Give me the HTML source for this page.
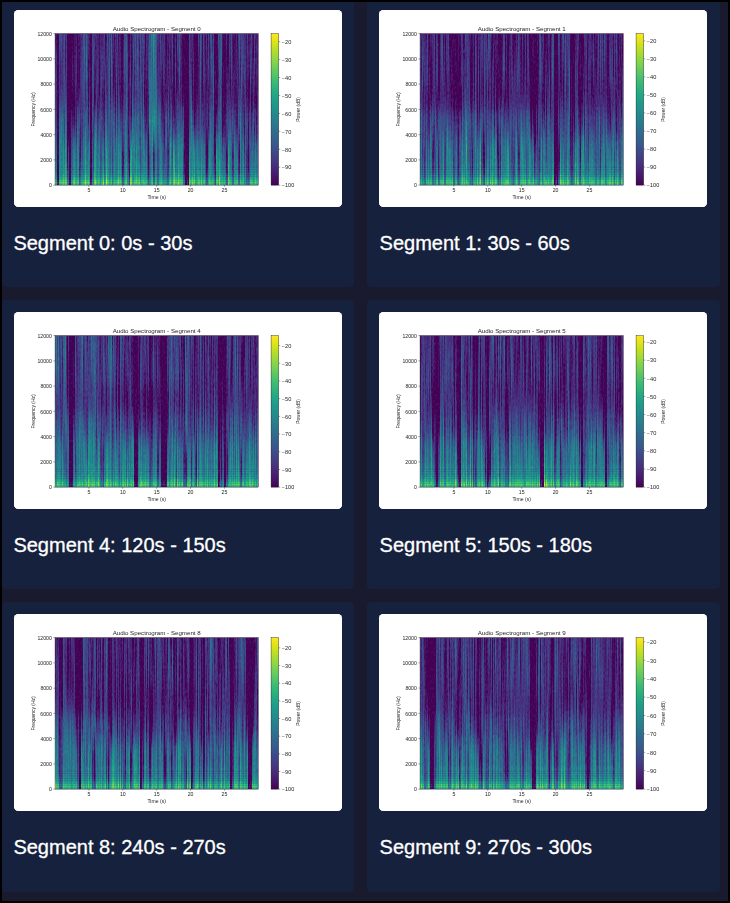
<!DOCTYPE html><html><head><meta charset="utf-8"><title>Spectrograms</title><style>
*{margin:0;padding:0;box-sizing:border-box}
html,body{width:730px;height:903px;background:#000;overflow:hidden}
body{position:relative;font-family:"Liberation Sans",sans-serif}
#fr{position:absolute;left:2px;top:2px;width:726px;height:899px;background:#1a1a2e;overflow:hidden}
.card{position:absolute;height:289px;background:#16213e;border-radius:4px}
.im{position:absolute;left:12px;top:12px;width:328px;height:196.8px;border-radius:4.5px;overflow:hidden;background:#fff}
.im svg{display:block;font-family:"Liberation Sans",sans-serif;will-change:transform;fill:#262626}
.cap{position:absolute;left:11px;top:232.5px;font-size:20px;line-height:23px;color:#fff;white-space:nowrap;transform:scaleY(1.055);transform-origin:0 4px;-webkit-text-stroke:0.3px #fff}
</style></head><body>
<svg width="0" height="0" style="position:absolute"><defs><linearGradient id="rg" x1="0" x2="0" y1="0" y2="1"><stop offset="0.00%" stop-color="#1c1c1c"/><stop offset="33.33%" stop-color="#1d1d1d"/><stop offset="50.00%" stop-color="#212121"/><stop offset="58.33%" stop-color="#282828"/><stop offset="66.67%" stop-color="#303030"/><stop offset="75.00%" stop-color="#3d3d3d"/><stop offset="83.33%" stop-color="#4c4c4c"/><stop offset="87.50%" stop-color="#606060"/><stop offset="87.71%" stop-color="#585858"/><stop offset="87.92%" stop-color="#505050"/><stop offset="88.14%" stop-color="#4d4d4d"/><stop offset="88.35%" stop-color="#525252"/><stop offset="88.56%" stop-color="#5c5c5c"/><stop offset="88.77%" stop-color="#646464"/><stop offset="88.98%" stop-color="#666666"/><stop offset="89.19%" stop-color="#616161"/><stop offset="89.41%" stop-color="#585858"/><stop offset="89.62%" stop-color="#525252"/><stop offset="89.83%" stop-color="#545454"/><stop offset="90.04%" stop-color="#5c5c5c"/><stop offset="90.25%" stop-color="#666666"/><stop offset="90.47%" stop-color="#6b6b6b"/><stop offset="90.68%" stop-color="#696969"/><stop offset="90.89%" stop-color="#616161"/><stop offset="91.10%" stop-color="#595959"/><stop offset="91.31%" stop-color="#575757"/><stop offset="91.53%" stop-color="#5c5c5c"/><stop offset="91.74%" stop-color="#666666"/><stop offset="91.95%" stop-color="#6f6f6f"/><stop offset="92.16%" stop-color="#717171"/><stop offset="92.37%" stop-color="#6c6c6c"/><stop offset="92.58%" stop-color="#646464"/><stop offset="92.80%" stop-color="#5f5f5f"/><stop offset="93.01%" stop-color="#626262"/><stop offset="93.22%" stop-color="#6b6b6b"/><stop offset="93.43%" stop-color="#757575"/><stop offset="93.64%" stop-color="#7b7b7b"/><stop offset="93.86%" stop-color="#797979"/><stop offset="94.07%" stop-color="#727272"/><stop offset="94.28%" stop-color="#6c6c6c"/><stop offset="94.49%" stop-color="#6c6c6c"/><stop offset="94.70%" stop-color="#747474"/><stop offset="94.92%" stop-color="#808080"/><stop offset="95.13%" stop-color="#8a8a8a"/><stop offset="95.34%" stop-color="#8e8e8e"/><stop offset="95.55%" stop-color="#8a8a8a"/><stop offset="95.76%" stop-color="#848484"/><stop offset="95.97%" stop-color="#808080"/><stop offset="96.19%" stop-color="#848484"/><stop offset="96.40%" stop-color="#8e8e8e"/><stop offset="96.61%" stop-color="#999999"/><stop offset="96.82%" stop-color="#a0a0a0"/><stop offset="97.03%" stop-color="#9f9f9f"/><stop offset="97.25%" stop-color="#989898"/><stop offset="97.46%" stop-color="#929292"/><stop offset="97.67%" stop-color="#919191"/><stop offset="97.88%" stop-color="#989898"/><stop offset="98.09%" stop-color="#a2a2a2"/><stop offset="98.31%" stop-color="#ababab"/><stop offset="98.52%" stop-color="#acacac"/><stop offset="98.73%" stop-color="#a7a7a7"/><stop offset="98.94%" stop-color="#989898"/><stop offset="99.15%" stop-color="#8c8c8c"/><stop offset="99.36%" stop-color="#878787"/><stop offset="99.58%" stop-color="#888888"/><stop offset="99.79%" stop-color="#7e7e7e"/><stop offset="100.00%" stop-color="#737373"/></linearGradient><linearGradient id="cbg" x1="0" x2="0" y1="1" y2="0"><stop offset="0.0%" stop-color="rgb(68,1,84)"/><stop offset="3.1%" stop-color="rgb(71,13,96)"/><stop offset="6.2%" stop-color="rgb(72,24,106)"/><stop offset="9.4%" stop-color="rgb(72,35,116)"/><stop offset="12.5%" stop-color="rgb(71,45,123)"/><stop offset="15.6%" stop-color="rgb(69,55,129)"/><stop offset="18.8%" stop-color="rgb(66,64,134)"/><stop offset="21.9%" stop-color="rgb(62,73,137)"/><stop offset="25.0%" stop-color="rgb(59,82,139)"/><stop offset="28.1%" stop-color="rgb(55,91,141)"/><stop offset="31.2%" stop-color="rgb(51,99,142)"/><stop offset="34.4%" stop-color="rgb(47,107,142)"/><stop offset="37.5%" stop-color="rgb(44,114,142)"/><stop offset="40.6%" stop-color="rgb(41,122,142)"/><stop offset="43.8%" stop-color="rgb(38,130,142)"/><stop offset="46.9%" stop-color="rgb(35,137,142)"/><stop offset="50.0%" stop-color="rgb(33,145,141)"/><stop offset="53.1%" stop-color="rgb(31,152,139)"/><stop offset="56.2%" stop-color="rgb(31,160,136)"/><stop offset="59.4%" stop-color="rgb(34,167,133)"/><stop offset="62.5%" stop-color="rgb(40,174,128)"/><stop offset="65.6%" stop-color="rgb(50,182,122)"/><stop offset="68.8%" stop-color="rgb(63,188,115)"/><stop offset="71.9%" stop-color="rgb(78,195,107)"/><stop offset="75.0%" stop-color="rgb(94,201,98)"/><stop offset="78.1%" stop-color="rgb(112,207,87)"/><stop offset="81.2%" stop-color="rgb(132,212,75)"/><stop offset="84.4%" stop-color="rgb(152,216,62)"/><stop offset="87.5%" stop-color="rgb(173,220,48)"/><stop offset="90.6%" stop-color="rgb(194,223,35)"/><stop offset="93.8%" stop-color="rgb(216,226,26)"/><stop offset="96.9%" stop-color="rgb(236,229,27)"/><stop offset="100.0%" stop-color="rgb(253,231,37)"/></linearGradient><linearGradient id="mgr" x1="0" x2="0" y1="245.88000000000002" y2="315.18" gradientUnits="userSpaceOnUse"><stop offset="0" stop-color="#000"/><stop offset="1" stop-color="#fff"/></linearGradient><mask id="lm" maskUnits="userSpaceOnUse" x="0" y="0" width="720" height="432"><rect x="90" y="51.84" width="446.4" height="332.64" fill="url(#mgr)"/></mask><clipPath id="pc"><rect x="90" y="51.84" width="446.4" height="332.64"/></clipPath><filter id="blr" x="-0.2" y="-0.2" width="1.4" height="1.4"><feGaussianBlur stdDeviation="22 16"/></filter></defs></svg>
<div id="fr"><div class="card" style="left:0px;top:-4px;width:352px;height:289px"><div class="im"><svg class="fig" viewBox="0 0 720 432" width="328" height="196.8"><defs><linearGradient id="cg0" x1="0" x2="1" y1="0" y2="0"><stop offset="0.00%" stop-color="#a1a1a1"/><stop offset="1.00%" stop-color="#a1a1a1"/><stop offset="1.00%" stop-color="#000000"/><stop offset="2.00%" stop-color="#000000"/><stop offset="2.00%" stop-color="#b5b5b5"/><stop offset="3.00%" stop-color="#b5b5b5"/><stop offset="3.00%" stop-color="#b5b5b5"/><stop offset="4.00%" stop-color="#b5b5b5"/><stop offset="4.00%" stop-color="#b5b5b5"/><stop offset="5.00%" stop-color="#b5b5b5"/><stop offset="5.00%" stop-color="#b5b5b5"/><stop offset="6.00%" stop-color="#b5b5b5"/><stop offset="6.00%" stop-color="#000000"/><stop offset="7.00%" stop-color="#000000"/><stop offset="7.00%" stop-color="#000000"/><stop offset="8.00%" stop-color="#000000"/><stop offset="8.00%" stop-color="#787878"/><stop offset="9.00%" stop-color="#787878"/><stop offset="9.00%" stop-color="#787878"/><stop offset="10.00%" stop-color="#787878"/><stop offset="10.00%" stop-color="#8f8f8f"/><stop offset="11.00%" stop-color="#8f8f8f"/><stop offset="11.00%" stop-color="#8f8f8f"/><stop offset="12.00%" stop-color="#8f8f8f"/><stop offset="12.00%" stop-color="#a1a1a1"/><stop offset="13.00%" stop-color="#a1a1a1"/><stop offset="13.00%" stop-color="#a1a1a1"/><stop offset="14.00%" stop-color="#a1a1a1"/><stop offset="14.00%" stop-color="#b5b5b5"/><stop offset="15.00%" stop-color="#b5b5b5"/><stop offset="15.00%" stop-color="#b5b5b5"/><stop offset="16.00%" stop-color="#b5b5b5"/><stop offset="16.00%" stop-color="#8f8f8f"/><stop offset="17.00%" stop-color="#8f8f8f"/><stop offset="17.00%" stop-color="#000000"/><stop offset="18.00%" stop-color="#000000"/><stop offset="18.00%" stop-color="#a1a1a1"/><stop offset="19.00%" stop-color="#a1a1a1"/><stop offset="19.00%" stop-color="#a1a1a1"/><stop offset="20.00%" stop-color="#a1a1a1"/><stop offset="20.00%" stop-color="#a1a1a1"/><stop offset="21.00%" stop-color="#a1a1a1"/><stop offset="21.00%" stop-color="#a1a1a1"/><stop offset="22.00%" stop-color="#a1a1a1"/><stop offset="22.00%" stop-color="#8f8f8f"/><stop offset="23.00%" stop-color="#8f8f8f"/><stop offset="23.00%" stop-color="#8f8f8f"/><stop offset="24.00%" stop-color="#8f8f8f"/><stop offset="24.00%" stop-color="#a1a1a1"/><stop offset="25.00%" stop-color="#a1a1a1"/><stop offset="25.00%" stop-color="#a1a1a1"/><stop offset="26.00%" stop-color="#a1a1a1"/><stop offset="26.00%" stop-color="#b5b5b5"/><stop offset="27.00%" stop-color="#b5b5b5"/><stop offset="27.00%" stop-color="#b5b5b5"/><stop offset="28.00%" stop-color="#b5b5b5"/><stop offset="28.00%" stop-color="#a1a1a1"/><stop offset="29.00%" stop-color="#a1a1a1"/><stop offset="29.00%" stop-color="#a1a1a1"/><stop offset="30.00%" stop-color="#a1a1a1"/><stop offset="30.00%" stop-color="#a1a1a1"/><stop offset="31.00%" stop-color="#a1a1a1"/><stop offset="31.00%" stop-color="#a1a1a1"/><stop offset="32.00%" stop-color="#a1a1a1"/><stop offset="32.00%" stop-color="#8f8f8f"/><stop offset="33.00%" stop-color="#8f8f8f"/><stop offset="33.00%" stop-color="#8f8f8f"/><stop offset="34.00%" stop-color="#8f8f8f"/><stop offset="34.00%" stop-color="#b5b5b5"/><stop offset="35.00%" stop-color="#b5b5b5"/><stop offset="35.00%" stop-color="#b5b5b5"/><stop offset="36.00%" stop-color="#b5b5b5"/><stop offset="36.00%" stop-color="#8f8f8f"/><stop offset="37.00%" stop-color="#8f8f8f"/><stop offset="37.00%" stop-color="#8f8f8f"/><stop offset="38.00%" stop-color="#8f8f8f"/><stop offset="38.00%" stop-color="#b5b5b5"/><stop offset="39.00%" stop-color="#b5b5b5"/><stop offset="39.00%" stop-color="#b5b5b5"/><stop offset="40.00%" stop-color="#b5b5b5"/><stop offset="40.00%" stop-color="#b5b5b5"/><stop offset="41.00%" stop-color="#b5b5b5"/><stop offset="41.00%" stop-color="#b5b5b5"/><stop offset="42.00%" stop-color="#b5b5b5"/><stop offset="42.00%" stop-color="#b5b5b5"/><stop offset="43.00%" stop-color="#b5b5b5"/><stop offset="43.00%" stop-color="#b5b5b5"/><stop offset="44.00%" stop-color="#b5b5b5"/><stop offset="44.00%" stop-color="#8f8f8f"/><stop offset="45.00%" stop-color="#8f8f8f"/><stop offset="45.00%" stop-color="#8f8f8f"/><stop offset="46.00%" stop-color="#8f8f8f"/><stop offset="46.00%" stop-color="#e5e5e5"/><stop offset="47.00%" stop-color="#e5e5e5"/><stop offset="47.00%" stop-color="#e5e5e5"/><stop offset="48.00%" stop-color="#e5e5e5"/><stop offset="48.00%" stop-color="#e5e5e5"/><stop offset="49.00%" stop-color="#e5e5e5"/><stop offset="49.00%" stop-color="#e5e5e5"/><stop offset="50.00%" stop-color="#e5e5e5"/><stop offset="50.00%" stop-color="#b5b5b5"/><stop offset="51.00%" stop-color="#b5b5b5"/><stop offset="51.00%" stop-color="#b5b5b5"/><stop offset="52.00%" stop-color="#b5b5b5"/><stop offset="52.00%" stop-color="#8f8f8f"/><stop offset="53.00%" stop-color="#8f8f8f"/><stop offset="53.00%" stop-color="#8f8f8f"/><stop offset="54.00%" stop-color="#8f8f8f"/><stop offset="54.00%" stop-color="#a1a1a1"/><stop offset="55.00%" stop-color="#a1a1a1"/><stop offset="55.00%" stop-color="#a1a1a1"/><stop offset="56.00%" stop-color="#a1a1a1"/><stop offset="56.00%" stop-color="#a1a1a1"/><stop offset="57.00%" stop-color="#a1a1a1"/><stop offset="57.00%" stop-color="#a1a1a1"/><stop offset="58.00%" stop-color="#a1a1a1"/><stop offset="58.00%" stop-color="#8f8f8f"/><stop offset="59.00%" stop-color="#8f8f8f"/><stop offset="59.00%" stop-color="#8f8f8f"/><stop offset="60.00%" stop-color="#8f8f8f"/><stop offset="60.00%" stop-color="#a1a1a1"/><stop offset="61.00%" stop-color="#a1a1a1"/><stop offset="61.00%" stop-color="#a1a1a1"/><stop offset="62.00%" stop-color="#a1a1a1"/><stop offset="62.00%" stop-color="#8f8f8f"/><stop offset="63.00%" stop-color="#8f8f8f"/><stop offset="63.00%" stop-color="#8f8f8f"/><stop offset="64.00%" stop-color="#8f8f8f"/><stop offset="64.00%" stop-color="#000000"/><stop offset="65.00%" stop-color="#000000"/><stop offset="65.00%" stop-color="#000000"/><stop offset="66.00%" stop-color="#000000"/><stop offset="66.00%" stop-color="#b5b5b5"/><stop offset="67.00%" stop-color="#b5b5b5"/><stop offset="67.00%" stop-color="#b5b5b5"/><stop offset="68.00%" stop-color="#b5b5b5"/><stop offset="68.00%" stop-color="#787878"/><stop offset="69.00%" stop-color="#787878"/><stop offset="69.00%" stop-color="#787878"/><stop offset="70.00%" stop-color="#787878"/><stop offset="70.00%" stop-color="#a1a1a1"/><stop offset="71.00%" stop-color="#a1a1a1"/><stop offset="71.00%" stop-color="#a1a1a1"/><stop offset="72.00%" stop-color="#a1a1a1"/><stop offset="72.00%" stop-color="#a1a1a1"/><stop offset="73.00%" stop-color="#a1a1a1"/><stop offset="73.00%" stop-color="#a1a1a1"/><stop offset="74.00%" stop-color="#a1a1a1"/><stop offset="74.00%" stop-color="#8f8f8f"/><stop offset="75.00%" stop-color="#8f8f8f"/><stop offset="75.00%" stop-color="#8f8f8f"/><stop offset="76.00%" stop-color="#8f8f8f"/><stop offset="76.00%" stop-color="#b5b5b5"/><stop offset="77.00%" stop-color="#b5b5b5"/><stop offset="77.00%" stop-color="#b5b5b5"/><stop offset="78.00%" stop-color="#b5b5b5"/><stop offset="78.00%" stop-color="#787878"/><stop offset="79.00%" stop-color="#787878"/><stop offset="79.00%" stop-color="#787878"/><stop offset="80.00%" stop-color="#787878"/><stop offset="80.00%" stop-color="#b5b5b5"/><stop offset="81.00%" stop-color="#b5b5b5"/><stop offset="81.00%" stop-color="#b5b5b5"/><stop offset="82.00%" stop-color="#b5b5b5"/><stop offset="82.00%" stop-color="#787878"/><stop offset="83.00%" stop-color="#787878"/><stop offset="83.00%" stop-color="#787878"/><stop offset="84.00%" stop-color="#787878"/><stop offset="84.00%" stop-color="#a1a1a1"/><stop offset="85.00%" stop-color="#a1a1a1"/><stop offset="85.00%" stop-color="#a1a1a1"/><stop offset="86.00%" stop-color="#a1a1a1"/><stop offset="86.00%" stop-color="#a1a1a1"/><stop offset="87.00%" stop-color="#a1a1a1"/><stop offset="87.00%" stop-color="#a1a1a1"/><stop offset="88.00%" stop-color="#a1a1a1"/><stop offset="88.00%" stop-color="#8f8f8f"/><stop offset="89.00%" stop-color="#8f8f8f"/><stop offset="89.00%" stop-color="#8f8f8f"/><stop offset="90.00%" stop-color="#8f8f8f"/><stop offset="90.00%" stop-color="#b5b5b5"/><stop offset="91.00%" stop-color="#b5b5b5"/><stop offset="91.00%" stop-color="#b5b5b5"/><stop offset="92.00%" stop-color="#b5b5b5"/><stop offset="92.00%" stop-color="#a1a1a1"/><stop offset="93.00%" stop-color="#a1a1a1"/><stop offset="93.00%" stop-color="#a1a1a1"/><stop offset="94.00%" stop-color="#a1a1a1"/><stop offset="94.00%" stop-color="#8f8f8f"/><stop offset="95.00%" stop-color="#8f8f8f"/><stop offset="95.00%" stop-color="#8f8f8f"/><stop offset="96.00%" stop-color="#8f8f8f"/><stop offset="96.00%" stop-color="#a1a1a1"/><stop offset="97.00%" stop-color="#a1a1a1"/><stop offset="97.00%" stop-color="#a1a1a1"/><stop offset="98.00%" stop-color="#a1a1a1"/><stop offset="98.00%" stop-color="#8f8f8f"/><stop offset="99.00%" stop-color="#8f8f8f"/><stop offset="99.00%" stop-color="#8f8f8f"/><stop offset="100.00%" stop-color="#8f8f8f"/></linearGradient><linearGradient id="cl0" x1="0" x2="1" y1="0" y2="0"><stop offset="0.00%" stop-color="#9e9e9e"/><stop offset="1.00%" stop-color="#9e9e9e"/><stop offset="1.00%" stop-color="#000000"/><stop offset="2.00%" stop-color="#000000"/><stop offset="2.00%" stop-color="#9e9e9e"/><stop offset="3.00%" stop-color="#9e9e9e"/><stop offset="3.00%" stop-color="#9e9e9e"/><stop offset="4.00%" stop-color="#9e9e9e"/><stop offset="4.00%" stop-color="#b2b2b2"/><stop offset="5.00%" stop-color="#b2b2b2"/><stop offset="5.00%" stop-color="#b2b2b2"/><stop offset="6.00%" stop-color="#b2b2b2"/><stop offset="6.00%" stop-color="#525252"/><stop offset="7.00%" stop-color="#525252"/><stop offset="7.00%" stop-color="#000000"/><stop offset="8.00%" stop-color="#000000"/><stop offset="8.00%" stop-color="#7a7a7a"/><stop offset="9.00%" stop-color="#7a7a7a"/><stop offset="9.00%" stop-color="#b2b2b2"/><stop offset="10.00%" stop-color="#b2b2b2"/><stop offset="10.00%" stop-color="#9e9e9e"/><stop offset="11.00%" stop-color="#9e9e9e"/><stop offset="11.00%" stop-color="#9e9e9e"/><stop offset="12.00%" stop-color="#9e9e9e"/><stop offset="12.00%" stop-color="#525252"/><stop offset="13.00%" stop-color="#525252"/><stop offset="13.00%" stop-color="#9e9e9e"/><stop offset="14.00%" stop-color="#9e9e9e"/><stop offset="14.00%" stop-color="#b2b2b2"/><stop offset="15.00%" stop-color="#b2b2b2"/><stop offset="15.00%" stop-color="#9e9e9e"/><stop offset="16.00%" stop-color="#9e9e9e"/><stop offset="16.00%" stop-color="#9e9e9e"/><stop offset="17.00%" stop-color="#9e9e9e"/><stop offset="17.00%" stop-color="#000000"/><stop offset="18.00%" stop-color="#000000"/><stop offset="18.00%" stop-color="#7a7a7a"/><stop offset="19.00%" stop-color="#7a7a7a"/><stop offset="19.00%" stop-color="#b2b2b2"/><stop offset="20.00%" stop-color="#b2b2b2"/><stop offset="20.00%" stop-color="#9e9e9e"/><stop offset="21.00%" stop-color="#9e9e9e"/><stop offset="21.00%" stop-color="#9e9e9e"/><stop offset="22.00%" stop-color="#9e9e9e"/><stop offset="22.00%" stop-color="#7a7a7a"/><stop offset="23.00%" stop-color="#7a7a7a"/><stop offset="23.00%" stop-color="#b2b2b2"/><stop offset="24.00%" stop-color="#b2b2b2"/><stop offset="24.00%" stop-color="#9e9e9e"/><stop offset="25.00%" stop-color="#9e9e9e"/><stop offset="25.00%" stop-color="#b2b2b2"/><stop offset="26.00%" stop-color="#b2b2b2"/><stop offset="26.00%" stop-color="#9e9e9e"/><stop offset="27.00%" stop-color="#9e9e9e"/><stop offset="27.00%" stop-color="#9e9e9e"/><stop offset="28.00%" stop-color="#9e9e9e"/><stop offset="28.00%" stop-color="#7a7a7a"/><stop offset="29.00%" stop-color="#7a7a7a"/><stop offset="29.00%" stop-color="#9e9e9e"/><stop offset="30.00%" stop-color="#9e9e9e"/><stop offset="30.00%" stop-color="#b2b2b2"/><stop offset="31.00%" stop-color="#b2b2b2"/><stop offset="31.00%" stop-color="#b2b2b2"/><stop offset="32.00%" stop-color="#b2b2b2"/><stop offset="32.00%" stop-color="#9e9e9e"/><stop offset="33.00%" stop-color="#9e9e9e"/><stop offset="33.00%" stop-color="#525252"/><stop offset="34.00%" stop-color="#525252"/><stop offset="34.00%" stop-color="#9e9e9e"/><stop offset="35.00%" stop-color="#9e9e9e"/><stop offset="35.00%" stop-color="#9e9e9e"/><stop offset="36.00%" stop-color="#9e9e9e"/><stop offset="36.00%" stop-color="#525252"/><stop offset="37.00%" stop-color="#525252"/><stop offset="37.00%" stop-color="#b2b2b2"/><stop offset="38.00%" stop-color="#b2b2b2"/><stop offset="38.00%" stop-color="#9e9e9e"/><stop offset="39.00%" stop-color="#9e9e9e"/><stop offset="39.00%" stop-color="#9e9e9e"/><stop offset="40.00%" stop-color="#9e9e9e"/><stop offset="40.00%" stop-color="#b2b2b2"/><stop offset="41.00%" stop-color="#b2b2b2"/><stop offset="41.00%" stop-color="#9e9e9e"/><stop offset="42.00%" stop-color="#9e9e9e"/><stop offset="42.00%" stop-color="#9e9e9e"/><stop offset="43.00%" stop-color="#9e9e9e"/><stop offset="43.00%" stop-color="#b2b2b2"/><stop offset="44.00%" stop-color="#b2b2b2"/><stop offset="44.00%" stop-color="#9e9e9e"/><stop offset="45.00%" stop-color="#9e9e9e"/><stop offset="45.00%" stop-color="#525252"/><stop offset="46.00%" stop-color="#525252"/><stop offset="46.00%" stop-color="#7a7a7a"/><stop offset="47.00%" stop-color="#7a7a7a"/><stop offset="47.00%" stop-color="#9e9e9e"/><stop offset="48.00%" stop-color="#9e9e9e"/><stop offset="48.00%" stop-color="#525252"/><stop offset="49.00%" stop-color="#525252"/><stop offset="49.00%" stop-color="#9e9e9e"/><stop offset="50.00%" stop-color="#9e9e9e"/><stop offset="50.00%" stop-color="#525252"/><stop offset="51.00%" stop-color="#525252"/><stop offset="51.00%" stop-color="#9e9e9e"/><stop offset="52.00%" stop-color="#9e9e9e"/><stop offset="52.00%" stop-color="#9e9e9e"/><stop offset="53.00%" stop-color="#9e9e9e"/><stop offset="53.00%" stop-color="#7a7a7a"/><stop offset="54.00%" stop-color="#7a7a7a"/><stop offset="54.00%" stop-color="#7a7a7a"/><stop offset="55.00%" stop-color="#7a7a7a"/><stop offset="55.00%" stop-color="#525252"/><stop offset="56.00%" stop-color="#525252"/><stop offset="56.00%" stop-color="#b2b2b2"/><stop offset="57.00%" stop-color="#b2b2b2"/><stop offset="57.00%" stop-color="#7a7a7a"/><stop offset="58.00%" stop-color="#7a7a7a"/><stop offset="58.00%" stop-color="#b2b2b2"/><stop offset="59.00%" stop-color="#b2b2b2"/><stop offset="59.00%" stop-color="#9e9e9e"/><stop offset="60.00%" stop-color="#9e9e9e"/><stop offset="60.00%" stop-color="#b2b2b2"/><stop offset="61.00%" stop-color="#b2b2b2"/><stop offset="61.00%" stop-color="#9e9e9e"/><stop offset="62.00%" stop-color="#9e9e9e"/><stop offset="62.00%" stop-color="#9e9e9e"/><stop offset="63.00%" stop-color="#9e9e9e"/><stop offset="63.00%" stop-color="#525252"/><stop offset="64.00%" stop-color="#525252"/><stop offset="64.00%" stop-color="#000000"/><stop offset="65.00%" stop-color="#000000"/><stop offset="65.00%" stop-color="#000000"/><stop offset="66.00%" stop-color="#000000"/><stop offset="66.00%" stop-color="#9e9e9e"/><stop offset="67.00%" stop-color="#9e9e9e"/><stop offset="67.00%" stop-color="#b2b2b2"/><stop offset="68.00%" stop-color="#b2b2b2"/><stop offset="68.00%" stop-color="#b2b2b2"/><stop offset="69.00%" stop-color="#b2b2b2"/><stop offset="69.00%" stop-color="#7a7a7a"/><stop offset="70.00%" stop-color="#7a7a7a"/><stop offset="70.00%" stop-color="#9e9e9e"/><stop offset="71.00%" stop-color="#9e9e9e"/><stop offset="71.00%" stop-color="#9e9e9e"/><stop offset="72.00%" stop-color="#9e9e9e"/><stop offset="72.00%" stop-color="#9e9e9e"/><stop offset="73.00%" stop-color="#9e9e9e"/><stop offset="73.00%" stop-color="#9e9e9e"/><stop offset="74.00%" stop-color="#9e9e9e"/><stop offset="74.00%" stop-color="#525252"/><stop offset="75.00%" stop-color="#525252"/><stop offset="75.00%" stop-color="#9e9e9e"/><stop offset="76.00%" stop-color="#9e9e9e"/><stop offset="76.00%" stop-color="#9e9e9e"/><stop offset="77.00%" stop-color="#9e9e9e"/><stop offset="77.00%" stop-color="#9e9e9e"/><stop offset="78.00%" stop-color="#9e9e9e"/><stop offset="78.00%" stop-color="#525252"/><stop offset="79.00%" stop-color="#525252"/><stop offset="79.00%" stop-color="#9e9e9e"/><stop offset="80.00%" stop-color="#9e9e9e"/><stop offset="80.00%" stop-color="#b2b2b2"/><stop offset="81.00%" stop-color="#b2b2b2"/><stop offset="81.00%" stop-color="#9e9e9e"/><stop offset="82.00%" stop-color="#9e9e9e"/><stop offset="82.00%" stop-color="#9e9e9e"/><stop offset="83.00%" stop-color="#9e9e9e"/><stop offset="83.00%" stop-color="#9e9e9e"/><stop offset="84.00%" stop-color="#9e9e9e"/><stop offset="84.00%" stop-color="#525252"/><stop offset="85.00%" stop-color="#525252"/><stop offset="85.00%" stop-color="#b2b2b2"/><stop offset="86.00%" stop-color="#b2b2b2"/><stop offset="86.00%" stop-color="#9e9e9e"/><stop offset="87.00%" stop-color="#9e9e9e"/><stop offset="87.00%" stop-color="#525252"/><stop offset="88.00%" stop-color="#525252"/><stop offset="88.00%" stop-color="#9e9e9e"/><stop offset="89.00%" stop-color="#9e9e9e"/><stop offset="89.00%" stop-color="#9e9e9e"/><stop offset="90.00%" stop-color="#9e9e9e"/><stop offset="90.00%" stop-color="#525252"/><stop offset="91.00%" stop-color="#525252"/><stop offset="91.00%" stop-color="#9e9e9e"/><stop offset="92.00%" stop-color="#9e9e9e"/><stop offset="92.00%" stop-color="#9e9e9e"/><stop offset="93.00%" stop-color="#9e9e9e"/><stop offset="93.00%" stop-color="#7a7a7a"/><stop offset="94.00%" stop-color="#7a7a7a"/><stop offset="94.00%" stop-color="#525252"/><stop offset="95.00%" stop-color="#525252"/><stop offset="95.00%" stop-color="#525252"/><stop offset="96.00%" stop-color="#525252"/><stop offset="96.00%" stop-color="#9e9e9e"/><stop offset="97.00%" stop-color="#9e9e9e"/><stop offset="97.00%" stop-color="#9e9e9e"/><stop offset="98.00%" stop-color="#9e9e9e"/><stop offset="98.00%" stop-color="#9e9e9e"/><stop offset="99.00%" stop-color="#9e9e9e"/><stop offset="99.00%" stop-color="#9e9e9e"/><stop offset="100.00%" stop-color="#9e9e9e"/></linearGradient><filter id="vf0" x="0" y="0" width="1" height="1" color-interpolation-filters="sRGB"><feTurbulence type="fractalNoise" baseFrequency="0.45 0.005" numOctaves="2" seed="7" result="n1"/><feColorMatrix in="n1" type="matrix" values="1 0 0 0 0 1 0 0 0 0 1 0 0 0 0 0 0 0 0 1" result="m1"/><feTurbulence type="fractalNoise" baseFrequency="0.9 0.15" numOctaves="1" seed="12" result="n2"/><feColorMatrix in="n2" type="matrix" values="1 0 0 0 0 1 0 0 0 0 1 0 0 0 0 0 0 0 0 1" result="m2"/><feComposite in="SourceGraphic" in2="m1" operator="arithmetic" k1="0" k2="3" k3="0.6" k4="-1.400" result="c1"/><feComposite in="c1" in2="m2" operator="arithmetic" k1="0" k2="1" k3="0.2" k4="-0.100"/><feComponentTransfer><feFuncR type="table" tableValues="0.267 0.277 0.282 0.283 0.279 0.271 0.259 0.245 0.23 0.214 0.199 0.186 0.173 0.161 0.149 0.138 0.128 0.121 0.121 0.132 0.158 0.197 0.246 0.304 0.369 0.44 0.516 0.596 0.678 0.762 0.846 0.926 0.993"/><feFuncG type="table" tableValues="0.005 0.05 0.095 0.136 0.175 0.214 0.252 0.288 0.322 0.356 0.388 0.419 0.449 0.479 0.508 0.537 0.567 0.596 0.626 0.655 0.684 0.712 0.739 0.765 0.789 0.811 0.831 0.849 0.864 0.876 0.887 0.897 0.906"/><feFuncB type="table" tableValues="0.329 0.376 0.417 0.453 0.483 0.507 0.525 0.537 0.546 0.551 0.555 0.557 0.558 0.558 0.557 0.555 0.551 0.544 0.533 0.52 0.502 0.479 0.452 0.42 0.383 0.341 0.294 0.243 0.19 0.137 0.1 0.104 0.144"/></feComponentTransfer></filter></defs><rect width="720" height="432" fill="#fff"/><g clip-path="url(#pc)"><g filter="url(#vf0)"><rect x="90" y="51.84" width="446.4" height="332.64" fill="url(#cg0)"/><rect x="90" y="51.84" width="446.4" height="332.64" fill="url(#cl0)" mask="url(#lm)"/><rect x="90" y="51.84" width="446.4" height="332.64" fill="url(#rg)" opacity="0.5"/><g opacity="0.3333" ><g filter="url(#blr)"><rect x="10.0" y="-28.2" width="154.9" height="135.9" fill="#7a7a7a"/><rect x="164.4" y="-28.2" width="74.9" height="135.9" fill="#7a7a7a"/><rect x="238.8" y="-28.2" width="74.9" height="135.9" fill="#7a7a7a"/><rect x="313.2" y="-28.2" width="74.9" height="135.9" fill="#7a7a7a"/><rect x="387.6" y="-28.2" width="74.9" height="135.9" fill="#7a7a7a"/><rect x="462.0" y="-28.2" width="154.9" height="135.9" fill="#7a7a7a"/><rect x="10.0" y="107.3" width="154.9" height="55.9" fill="#7a7a7a"/><rect x="164.4" y="107.3" width="74.9" height="55.9" fill="#7a7a7a"/><rect x="238.8" y="107.3" width="74.9" height="55.9" fill="#7a7a7a"/><rect x="313.2" y="107.3" width="74.9" height="55.9" fill="#7a7a7a"/><rect x="387.6" y="107.3" width="74.9" height="55.9" fill="#7a7a7a"/><rect x="462.0" y="107.3" width="154.9" height="55.9" fill="#7a7a7a"/><rect x="10.0" y="162.7" width="154.9" height="55.9" fill="#7a7a7a"/><rect x="164.4" y="162.7" width="74.9" height="55.9" fill="#787878"/><rect x="238.8" y="162.7" width="74.9" height="55.9" fill="#757575"/><rect x="313.2" y="162.7" width="74.9" height="55.9" fill="#757575"/><rect x="387.6" y="162.7" width="74.9" height="55.9" fill="#757575"/><rect x="462.0" y="162.7" width="154.9" height="55.9" fill="#757575"/><rect x="10.0" y="218.2" width="154.9" height="55.9" fill="#8f8f8f"/><rect x="164.4" y="218.2" width="74.9" height="55.9" fill="#8c8c8c"/><rect x="238.8" y="218.2" width="74.9" height="55.9" fill="#828282"/><rect x="313.2" y="218.2" width="74.9" height="55.9" fill="#828282"/><rect x="387.6" y="218.2" width="74.9" height="55.9" fill="#858585"/><rect x="462.0" y="218.2" width="154.9" height="55.9" fill="#828282"/><rect x="10.0" y="273.6" width="154.9" height="55.9" fill="#9e9e9e"/><rect x="164.4" y="273.6" width="74.9" height="55.9" fill="#9c9c9c"/><rect x="238.8" y="273.6" width="74.9" height="55.9" fill="#969696"/><rect x="313.2" y="273.6" width="74.9" height="55.9" fill="#969696"/><rect x="387.6" y="273.6" width="74.9" height="55.9" fill="#999999"/><rect x="462.0" y="273.6" width="154.9" height="55.9" fill="#969696"/><rect x="10.0" y="329.0" width="154.9" height="135.9" fill="#8a8a8a"/><rect x="164.4" y="329.0" width="74.9" height="135.9" fill="#8a8a8a"/><rect x="238.8" y="329.0" width="74.9" height="135.9" fill="#8a8a8a"/><rect x="313.2" y="329.0" width="74.9" height="135.9" fill="#8a8a8a"/><rect x="387.6" y="329.0" width="74.9" height="135.9" fill="#8a8a8a"/><rect x="462.0" y="329.0" width="154.9" height="135.9" fill="#8a8a8a"/></g></g></g></g><rect x="90" y="51.84" width="446.4" height="332.64" fill="none" stroke="#3a3a3a" stroke-width="0.8"/><path d="M164.40 384.48v3.5 M238.80 384.48v3.5 M313.20 384.48v3.5 M387.60 384.48v3.5 M462.00 384.48v3.5 M90 384.48h-3.5 M90 329.04h-3.5 M90 273.60h-3.5 M90 218.16h-3.5 M90 162.72h-3.5 M90 107.28h-3.5 M90 51.84h-3.5 M580.932 384.48h3.5 M580.932 345.11h3.5 M580.932 305.75h3.5 M580.932 266.38h3.5 M580.932 227.02h3.5 M580.932 187.65h3.5 M580.932 148.29h3.5 M580.932 108.92h3.5 M580.932 69.55h3.5" stroke="#000" stroke-width="0.8" fill="none"/><rect x="564.3" y="51.84" width="16.632" height="332.64" fill="url(#cbg)" stroke="#000" stroke-width="0.8"/><g font-size="10"><text x="164.40" y="400.28" text-anchor="middle" textLength="6.375" lengthAdjust="spacingAndGlyphs">5</text><text x="238.80" y="400.28" text-anchor="middle" textLength="12.625" lengthAdjust="spacingAndGlyphs">10</text><text x="313.20" y="400.28" text-anchor="middle" textLength="12.75" lengthAdjust="spacingAndGlyphs">15</text><text x="387.60" y="400.28" text-anchor="middle" textLength="12.625" lengthAdjust="spacingAndGlyphs">20</text><text x="462.00" y="400.28" text-anchor="middle" textLength="12.75" lengthAdjust="spacingAndGlyphs">25</text><text x="83" y="389.48" text-anchor="end" textLength="6.25" lengthAdjust="spacingAndGlyphs">0</text><text x="83" y="334.04" text-anchor="end" textLength="25.125" lengthAdjust="spacingAndGlyphs">2000</text><text x="83" y="278.60" text-anchor="end" textLength="25.0" lengthAdjust="spacingAndGlyphs">4000</text><text x="83" y="223.16" text-anchor="end" textLength="25.125" lengthAdjust="spacingAndGlyphs">6000</text><text x="83" y="167.72" text-anchor="end" textLength="25.0" lengthAdjust="spacingAndGlyphs">8000</text><text x="83" y="112.28" text-anchor="end" textLength="31.375" lengthAdjust="spacingAndGlyphs">10000</text><text x="83" y="56.84" text-anchor="end" textLength="31.5" lengthAdjust="spacingAndGlyphs">12000</text><text x="587.93" y="389.48" textLength="27.25" lengthAdjust="spacingAndGlyphs">−100</text><text x="587.93" y="350.11" textLength="21.0" lengthAdjust="spacingAndGlyphs">−90</text><text x="587.93" y="310.75" textLength="20.875" lengthAdjust="spacingAndGlyphs">−80</text><text x="587.93" y="271.38" textLength="21.0" lengthAdjust="spacingAndGlyphs">−70</text><text x="587.93" y="232.02" textLength="21.0" lengthAdjust="spacingAndGlyphs">−60</text><text x="587.93" y="192.65" textLength="21.0" lengthAdjust="spacingAndGlyphs">−50</text><text x="587.93" y="153.29" textLength="20.875" lengthAdjust="spacingAndGlyphs">−40</text><text x="587.93" y="113.92" textLength="20.875" lengthAdjust="spacingAndGlyphs">−30</text><text x="587.93" y="74.55" textLength="21.0" lengthAdjust="spacingAndGlyphs">−20</text></g><text x="313.2" y="413.96" text-anchor="middle" font-size="10" textLength="40.5" lengthAdjust="spacingAndGlyphs">Time (s)</text><text x="45.1" y="218.16" text-anchor="middle" font-size="10" textLength="75.125" lengthAdjust="spacingAndGlyphs" transform="rotate(-90 45.1 218.16)">Frequency (Hz)</text><text x="627" y="218.16" text-anchor="middle" font-size="10" textLength="54.125" lengthAdjust="spacingAndGlyphs" transform="rotate(-90 627 218.16)">Power (dB)</text><text x="313.2" y="47.040000000000006" text-anchor="middle" font-size="12" textLength="193.125" lengthAdjust="spacingAndGlyphs">Audio Spectrogram - Segment 0</text></svg></div><div class="cap" style="left:11.4px">Segment 0: 0s - 30s</div></div><div class="card" style="left:365px;top:-4px;width:353px;height:289px"><div class="im"><svg class="fig" viewBox="0 0 720 432" width="328" height="196.8"><defs><linearGradient id="cg1" x1="0" x2="1" y1="0" y2="0"><stop offset="0.00%" stop-color="#a1a1a1"/><stop offset="1.00%" stop-color="#a1a1a1"/><stop offset="1.00%" stop-color="#a1a1a1"/><stop offset="2.00%" stop-color="#a1a1a1"/><stop offset="2.00%" stop-color="#a1a1a1"/><stop offset="3.00%" stop-color="#a1a1a1"/><stop offset="3.00%" stop-color="#a1a1a1"/><stop offset="4.00%" stop-color="#a1a1a1"/><stop offset="4.00%" stop-color="#8f8f8f"/><stop offset="5.00%" stop-color="#8f8f8f"/><stop offset="5.00%" stop-color="#8f8f8f"/><stop offset="6.00%" stop-color="#8f8f8f"/><stop offset="6.00%" stop-color="#a1a1a1"/><stop offset="7.00%" stop-color="#a1a1a1"/><stop offset="7.00%" stop-color="#a1a1a1"/><stop offset="8.00%" stop-color="#a1a1a1"/><stop offset="8.00%" stop-color="#8f8f8f"/><stop offset="9.00%" stop-color="#8f8f8f"/><stop offset="9.00%" stop-color="#8f8f8f"/><stop offset="10.00%" stop-color="#8f8f8f"/><stop offset="10.00%" stop-color="#a1a1a1"/><stop offset="11.00%" stop-color="#a1a1a1"/><stop offset="11.00%" stop-color="#a1a1a1"/><stop offset="12.00%" stop-color="#a1a1a1"/><stop offset="12.00%" stop-color="#a1a1a1"/><stop offset="13.00%" stop-color="#a1a1a1"/><stop offset="13.00%" stop-color="#a1a1a1"/><stop offset="14.00%" stop-color="#a1a1a1"/><stop offset="14.00%" stop-color="#8f8f8f"/><stop offset="15.00%" stop-color="#8f8f8f"/><stop offset="15.00%" stop-color="#8f8f8f"/><stop offset="16.00%" stop-color="#8f8f8f"/><stop offset="16.00%" stop-color="#787878"/><stop offset="17.00%" stop-color="#787878"/><stop offset="17.00%" stop-color="#787878"/><stop offset="18.00%" stop-color="#787878"/><stop offset="18.00%" stop-color="#787878"/><stop offset="19.00%" stop-color="#787878"/><stop offset="19.00%" stop-color="#787878"/><stop offset="20.00%" stop-color="#787878"/><stop offset="20.00%" stop-color="#a1a1a1"/><stop offset="21.00%" stop-color="#a1a1a1"/><stop offset="21.00%" stop-color="#a1a1a1"/><stop offset="22.00%" stop-color="#a1a1a1"/><stop offset="22.00%" stop-color="#b5b5b5"/><stop offset="23.00%" stop-color="#b5b5b5"/><stop offset="23.00%" stop-color="#b5b5b5"/><stop offset="24.00%" stop-color="#b5b5b5"/><stop offset="24.00%" stop-color="#8f8f8f"/><stop offset="25.00%" stop-color="#8f8f8f"/><stop offset="25.00%" stop-color="#8f8f8f"/><stop offset="26.00%" stop-color="#8f8f8f"/><stop offset="26.00%" stop-color="#a1a1a1"/><stop offset="27.00%" stop-color="#a1a1a1"/><stop offset="27.00%" stop-color="#a1a1a1"/><stop offset="28.00%" stop-color="#a1a1a1"/><stop offset="28.00%" stop-color="#8f8f8f"/><stop offset="29.00%" stop-color="#8f8f8f"/><stop offset="29.00%" stop-color="#8f8f8f"/><stop offset="30.00%" stop-color="#8f8f8f"/><stop offset="30.00%" stop-color="#a1a1a1"/><stop offset="31.00%" stop-color="#a1a1a1"/><stop offset="31.00%" stop-color="#a1a1a1"/><stop offset="32.00%" stop-color="#a1a1a1"/><stop offset="32.00%" stop-color="#a1a1a1"/><stop offset="33.00%" stop-color="#a1a1a1"/><stop offset="33.00%" stop-color="#a1a1a1"/><stop offset="34.00%" stop-color="#a1a1a1"/><stop offset="34.00%" stop-color="#a1a1a1"/><stop offset="35.00%" stop-color="#a1a1a1"/><stop offset="35.00%" stop-color="#a1a1a1"/><stop offset="36.00%" stop-color="#a1a1a1"/><stop offset="36.00%" stop-color="#8f8f8f"/><stop offset="37.00%" stop-color="#8f8f8f"/><stop offset="37.00%" stop-color="#8f8f8f"/><stop offset="38.00%" stop-color="#8f8f8f"/><stop offset="38.00%" stop-color="#8f8f8f"/><stop offset="39.00%" stop-color="#8f8f8f"/><stop offset="39.00%" stop-color="#8f8f8f"/><stop offset="40.00%" stop-color="#8f8f8f"/><stop offset="40.00%" stop-color="#a1a1a1"/><stop offset="41.00%" stop-color="#a1a1a1"/><stop offset="41.00%" stop-color="#a1a1a1"/><stop offset="42.00%" stop-color="#a1a1a1"/><stop offset="42.00%" stop-color="#8f8f8f"/><stop offset="43.00%" stop-color="#8f8f8f"/><stop offset="43.00%" stop-color="#8f8f8f"/><stop offset="44.00%" stop-color="#8f8f8f"/><stop offset="44.00%" stop-color="#a1a1a1"/><stop offset="45.00%" stop-color="#a1a1a1"/><stop offset="45.00%" stop-color="#a1a1a1"/><stop offset="46.00%" stop-color="#a1a1a1"/><stop offset="46.00%" stop-color="#a1a1a1"/><stop offset="47.00%" stop-color="#a1a1a1"/><stop offset="47.00%" stop-color="#a1a1a1"/><stop offset="48.00%" stop-color="#a1a1a1"/><stop offset="48.00%" stop-color="#a1a1a1"/><stop offset="49.00%" stop-color="#a1a1a1"/><stop offset="49.00%" stop-color="#a1a1a1"/><stop offset="50.00%" stop-color="#a1a1a1"/><stop offset="50.00%" stop-color="#a1a1a1"/><stop offset="51.00%" stop-color="#a1a1a1"/><stop offset="51.00%" stop-color="#a1a1a1"/><stop offset="52.00%" stop-color="#a1a1a1"/><stop offset="52.00%" stop-color="#a1a1a1"/><stop offset="53.00%" stop-color="#a1a1a1"/><stop offset="53.00%" stop-color="#a1a1a1"/><stop offset="54.00%" stop-color="#a1a1a1"/><stop offset="54.00%" stop-color="#787878"/><stop offset="55.00%" stop-color="#787878"/><stop offset="55.00%" stop-color="#787878"/><stop offset="56.00%" stop-color="#787878"/><stop offset="56.00%" stop-color="#787878"/><stop offset="57.00%" stop-color="#787878"/><stop offset="57.00%" stop-color="#787878"/><stop offset="58.00%" stop-color="#787878"/><stop offset="58.00%" stop-color="#a1a1a1"/><stop offset="59.00%" stop-color="#a1a1a1"/><stop offset="59.00%" stop-color="#a1a1a1"/><stop offset="60.00%" stop-color="#a1a1a1"/><stop offset="60.00%" stop-color="#8f8f8f"/><stop offset="61.00%" stop-color="#8f8f8f"/><stop offset="61.00%" stop-color="#8f8f8f"/><stop offset="62.00%" stop-color="#8f8f8f"/><stop offset="62.00%" stop-color="#a1a1a1"/><stop offset="63.00%" stop-color="#a1a1a1"/><stop offset="63.00%" stop-color="#a1a1a1"/><stop offset="64.00%" stop-color="#a1a1a1"/><stop offset="64.00%" stop-color="#a1a1a1"/><stop offset="65.00%" stop-color="#a1a1a1"/><stop offset="65.00%" stop-color="#a1a1a1"/><stop offset="66.00%" stop-color="#a1a1a1"/><stop offset="66.00%" stop-color="#000000"/><stop offset="67.00%" stop-color="#000000"/><stop offset="67.00%" stop-color="#000000"/><stop offset="68.00%" stop-color="#000000"/><stop offset="68.00%" stop-color="#a1a1a1"/><stop offset="69.00%" stop-color="#a1a1a1"/><stop offset="69.00%" stop-color="#a1a1a1"/><stop offset="70.00%" stop-color="#a1a1a1"/><stop offset="70.00%" stop-color="#a1a1a1"/><stop offset="71.00%" stop-color="#a1a1a1"/><stop offset="71.00%" stop-color="#a1a1a1"/><stop offset="72.00%" stop-color="#a1a1a1"/><stop offset="72.00%" stop-color="#b5b5b5"/><stop offset="73.00%" stop-color="#b5b5b5"/><stop offset="73.00%" stop-color="#b5b5b5"/><stop offset="74.00%" stop-color="#b5b5b5"/><stop offset="74.00%" stop-color="#787878"/><stop offset="75.00%" stop-color="#787878"/><stop offset="75.00%" stop-color="#787878"/><stop offset="76.00%" stop-color="#787878"/><stop offset="76.00%" stop-color="#a1a1a1"/><stop offset="77.00%" stop-color="#a1a1a1"/><stop offset="77.00%" stop-color="#a1a1a1"/><stop offset="78.00%" stop-color="#a1a1a1"/><stop offset="78.00%" stop-color="#787878"/><stop offset="79.00%" stop-color="#787878"/><stop offset="79.00%" stop-color="#787878"/><stop offset="80.00%" stop-color="#787878"/><stop offset="80.00%" stop-color="#a1a1a1"/><stop offset="81.00%" stop-color="#a1a1a1"/><stop offset="81.00%" stop-color="#a1a1a1"/><stop offset="82.00%" stop-color="#a1a1a1"/><stop offset="82.00%" stop-color="#a1a1a1"/><stop offset="83.00%" stop-color="#a1a1a1"/><stop offset="83.00%" stop-color="#a1a1a1"/><stop offset="84.00%" stop-color="#a1a1a1"/><stop offset="84.00%" stop-color="#8f8f8f"/><stop offset="85.00%" stop-color="#8f8f8f"/><stop offset="85.00%" stop-color="#8f8f8f"/><stop offset="86.00%" stop-color="#8f8f8f"/><stop offset="86.00%" stop-color="#a1a1a1"/><stop offset="87.00%" stop-color="#a1a1a1"/><stop offset="87.00%" stop-color="#a1a1a1"/><stop offset="88.00%" stop-color="#a1a1a1"/><stop offset="88.00%" stop-color="#a1a1a1"/><stop offset="89.00%" stop-color="#a1a1a1"/><stop offset="89.00%" stop-color="#a1a1a1"/><stop offset="90.00%" stop-color="#a1a1a1"/><stop offset="90.00%" stop-color="#a1a1a1"/><stop offset="91.00%" stop-color="#a1a1a1"/><stop offset="91.00%" stop-color="#a1a1a1"/><stop offset="92.00%" stop-color="#a1a1a1"/><stop offset="92.00%" stop-color="#8f8f8f"/><stop offset="93.00%" stop-color="#8f8f8f"/><stop offset="93.00%" stop-color="#8f8f8f"/><stop offset="94.00%" stop-color="#8f8f8f"/><stop offset="94.00%" stop-color="#a1a1a1"/><stop offset="95.00%" stop-color="#a1a1a1"/><stop offset="95.00%" stop-color="#a1a1a1"/><stop offset="96.00%" stop-color="#a1a1a1"/><stop offset="96.00%" stop-color="#8f8f8f"/><stop offset="97.00%" stop-color="#8f8f8f"/><stop offset="97.00%" stop-color="#8f8f8f"/><stop offset="98.00%" stop-color="#8f8f8f"/><stop offset="98.00%" stop-color="#a1a1a1"/><stop offset="99.00%" stop-color="#a1a1a1"/><stop offset="99.00%" stop-color="#a1a1a1"/><stop offset="100.00%" stop-color="#a1a1a1"/></linearGradient><linearGradient id="cl1" x1="0" x2="1" y1="0" y2="0"><stop offset="0.00%" stop-color="#9e9e9e"/><stop offset="1.00%" stop-color="#9e9e9e"/><stop offset="1.00%" stop-color="#7a7a7a"/><stop offset="2.00%" stop-color="#7a7a7a"/><stop offset="2.00%" stop-color="#525252"/><stop offset="3.00%" stop-color="#525252"/><stop offset="3.00%" stop-color="#9e9e9e"/><stop offset="4.00%" stop-color="#9e9e9e"/><stop offset="4.00%" stop-color="#9e9e9e"/><stop offset="5.00%" stop-color="#9e9e9e"/><stop offset="5.00%" stop-color="#9e9e9e"/><stop offset="6.00%" stop-color="#9e9e9e"/><stop offset="6.00%" stop-color="#525252"/><stop offset="7.00%" stop-color="#525252"/><stop offset="7.00%" stop-color="#7a7a7a"/><stop offset="8.00%" stop-color="#7a7a7a"/><stop offset="8.00%" stop-color="#9e9e9e"/><stop offset="9.00%" stop-color="#9e9e9e"/><stop offset="9.00%" stop-color="#525252"/><stop offset="10.00%" stop-color="#525252"/><stop offset="10.00%" stop-color="#9e9e9e"/><stop offset="11.00%" stop-color="#9e9e9e"/><stop offset="11.00%" stop-color="#9e9e9e"/><stop offset="12.00%" stop-color="#9e9e9e"/><stop offset="12.00%" stop-color="#525252"/><stop offset="13.00%" stop-color="#525252"/><stop offset="13.00%" stop-color="#9e9e9e"/><stop offset="14.00%" stop-color="#9e9e9e"/><stop offset="14.00%" stop-color="#9e9e9e"/><stop offset="15.00%" stop-color="#9e9e9e"/><stop offset="15.00%" stop-color="#9e9e9e"/><stop offset="16.00%" stop-color="#9e9e9e"/><stop offset="16.00%" stop-color="#525252"/><stop offset="17.00%" stop-color="#525252"/><stop offset="17.00%" stop-color="#9e9e9e"/><stop offset="18.00%" stop-color="#9e9e9e"/><stop offset="18.00%" stop-color="#525252"/><stop offset="19.00%" stop-color="#525252"/><stop offset="19.00%" stop-color="#525252"/><stop offset="20.00%" stop-color="#525252"/><stop offset="20.00%" stop-color="#9e9e9e"/><stop offset="21.00%" stop-color="#9e9e9e"/><stop offset="21.00%" stop-color="#9e9e9e"/><stop offset="22.00%" stop-color="#9e9e9e"/><stop offset="22.00%" stop-color="#9e9e9e"/><stop offset="23.00%" stop-color="#9e9e9e"/><stop offset="23.00%" stop-color="#9e9e9e"/><stop offset="24.00%" stop-color="#9e9e9e"/><stop offset="24.00%" stop-color="#525252"/><stop offset="25.00%" stop-color="#525252"/><stop offset="25.00%" stop-color="#525252"/><stop offset="26.00%" stop-color="#525252"/><stop offset="26.00%" stop-color="#7a7a7a"/><stop offset="27.00%" stop-color="#7a7a7a"/><stop offset="27.00%" stop-color="#9e9e9e"/><stop offset="28.00%" stop-color="#9e9e9e"/><stop offset="28.00%" stop-color="#9e9e9e"/><stop offset="29.00%" stop-color="#9e9e9e"/><stop offset="29.00%" stop-color="#9e9e9e"/><stop offset="30.00%" stop-color="#9e9e9e"/><stop offset="30.00%" stop-color="#7a7a7a"/><stop offset="31.00%" stop-color="#7a7a7a"/><stop offset="31.00%" stop-color="#525252"/><stop offset="32.00%" stop-color="#525252"/><stop offset="32.00%" stop-color="#9e9e9e"/><stop offset="33.00%" stop-color="#9e9e9e"/><stop offset="33.00%" stop-color="#9e9e9e"/><stop offset="34.00%" stop-color="#9e9e9e"/><stop offset="34.00%" stop-color="#9e9e9e"/><stop offset="35.00%" stop-color="#9e9e9e"/><stop offset="35.00%" stop-color="#9e9e9e"/><stop offset="36.00%" stop-color="#9e9e9e"/><stop offset="36.00%" stop-color="#9e9e9e"/><stop offset="37.00%" stop-color="#9e9e9e"/><stop offset="37.00%" stop-color="#9e9e9e"/><stop offset="38.00%" stop-color="#9e9e9e"/><stop offset="38.00%" stop-color="#525252"/><stop offset="39.00%" stop-color="#525252"/><stop offset="39.00%" stop-color="#525252"/><stop offset="40.00%" stop-color="#525252"/><stop offset="40.00%" stop-color="#9e9e9e"/><stop offset="41.00%" stop-color="#9e9e9e"/><stop offset="41.00%" stop-color="#9e9e9e"/><stop offset="42.00%" stop-color="#9e9e9e"/><stop offset="42.00%" stop-color="#9e9e9e"/><stop offset="43.00%" stop-color="#9e9e9e"/><stop offset="43.00%" stop-color="#9e9e9e"/><stop offset="44.00%" stop-color="#9e9e9e"/><stop offset="44.00%" stop-color="#7a7a7a"/><stop offset="45.00%" stop-color="#7a7a7a"/><stop offset="45.00%" stop-color="#525252"/><stop offset="46.00%" stop-color="#525252"/><stop offset="46.00%" stop-color="#7a7a7a"/><stop offset="47.00%" stop-color="#7a7a7a"/><stop offset="47.00%" stop-color="#9e9e9e"/><stop offset="48.00%" stop-color="#9e9e9e"/><stop offset="48.00%" stop-color="#525252"/><stop offset="49.00%" stop-color="#525252"/><stop offset="49.00%" stop-color="#9e9e9e"/><stop offset="50.00%" stop-color="#9e9e9e"/><stop offset="50.00%" stop-color="#9e9e9e"/><stop offset="51.00%" stop-color="#9e9e9e"/><stop offset="51.00%" stop-color="#9e9e9e"/><stop offset="52.00%" stop-color="#9e9e9e"/><stop offset="52.00%" stop-color="#7a7a7a"/><stop offset="53.00%" stop-color="#7a7a7a"/><stop offset="53.00%" stop-color="#9e9e9e"/><stop offset="54.00%" stop-color="#9e9e9e"/><stop offset="54.00%" stop-color="#9e9e9e"/><stop offset="55.00%" stop-color="#9e9e9e"/><stop offset="55.00%" stop-color="#9e9e9e"/><stop offset="56.00%" stop-color="#9e9e9e"/><stop offset="56.00%" stop-color="#7a7a7a"/><stop offset="57.00%" stop-color="#7a7a7a"/><stop offset="57.00%" stop-color="#7a7a7a"/><stop offset="58.00%" stop-color="#7a7a7a"/><stop offset="58.00%" stop-color="#525252"/><stop offset="59.00%" stop-color="#525252"/><stop offset="59.00%" stop-color="#9e9e9e"/><stop offset="60.00%" stop-color="#9e9e9e"/><stop offset="60.00%" stop-color="#7a7a7a"/><stop offset="61.00%" stop-color="#7a7a7a"/><stop offset="61.00%" stop-color="#9e9e9e"/><stop offset="62.00%" stop-color="#9e9e9e"/><stop offset="62.00%" stop-color="#9e9e9e"/><stop offset="63.00%" stop-color="#9e9e9e"/><stop offset="63.00%" stop-color="#9e9e9e"/><stop offset="64.00%" stop-color="#9e9e9e"/><stop offset="64.00%" stop-color="#9e9e9e"/><stop offset="65.00%" stop-color="#9e9e9e"/><stop offset="65.00%" stop-color="#9e9e9e"/><stop offset="66.00%" stop-color="#9e9e9e"/><stop offset="66.00%" stop-color="#000000"/><stop offset="67.00%" stop-color="#000000"/><stop offset="67.00%" stop-color="#000000"/><stop offset="68.00%" stop-color="#000000"/><stop offset="68.00%" stop-color="#525252"/><stop offset="69.00%" stop-color="#525252"/><stop offset="69.00%" stop-color="#b2b2b2"/><stop offset="70.00%" stop-color="#b2b2b2"/><stop offset="70.00%" stop-color="#9e9e9e"/><stop offset="71.00%" stop-color="#9e9e9e"/><stop offset="71.00%" stop-color="#9e9e9e"/><stop offset="72.00%" stop-color="#9e9e9e"/><stop offset="72.00%" stop-color="#9e9e9e"/><stop offset="73.00%" stop-color="#9e9e9e"/><stop offset="73.00%" stop-color="#9e9e9e"/><stop offset="74.00%" stop-color="#9e9e9e"/><stop offset="74.00%" stop-color="#525252"/><stop offset="75.00%" stop-color="#525252"/><stop offset="75.00%" stop-color="#7a7a7a"/><stop offset="76.00%" stop-color="#7a7a7a"/><stop offset="76.00%" stop-color="#9e9e9e"/><stop offset="77.00%" stop-color="#9e9e9e"/><stop offset="77.00%" stop-color="#9e9e9e"/><stop offset="78.00%" stop-color="#9e9e9e"/><stop offset="78.00%" stop-color="#525252"/><stop offset="79.00%" stop-color="#525252"/><stop offset="79.00%" stop-color="#9e9e9e"/><stop offset="80.00%" stop-color="#9e9e9e"/><stop offset="80.00%" stop-color="#9e9e9e"/><stop offset="81.00%" stop-color="#9e9e9e"/><stop offset="81.00%" stop-color="#9e9e9e"/><stop offset="82.00%" stop-color="#9e9e9e"/><stop offset="82.00%" stop-color="#7a7a7a"/><stop offset="83.00%" stop-color="#7a7a7a"/><stop offset="83.00%" stop-color="#9e9e9e"/><stop offset="84.00%" stop-color="#9e9e9e"/><stop offset="84.00%" stop-color="#9e9e9e"/><stop offset="85.00%" stop-color="#9e9e9e"/><stop offset="85.00%" stop-color="#9e9e9e"/><stop offset="86.00%" stop-color="#9e9e9e"/><stop offset="86.00%" stop-color="#7a7a7a"/><stop offset="87.00%" stop-color="#7a7a7a"/><stop offset="87.00%" stop-color="#9e9e9e"/><stop offset="88.00%" stop-color="#9e9e9e"/><stop offset="88.00%" stop-color="#7a7a7a"/><stop offset="89.00%" stop-color="#7a7a7a"/><stop offset="89.00%" stop-color="#9e9e9e"/><stop offset="90.00%" stop-color="#9e9e9e"/><stop offset="90.00%" stop-color="#9e9e9e"/><stop offset="91.00%" stop-color="#9e9e9e"/><stop offset="91.00%" stop-color="#7a7a7a"/><stop offset="92.00%" stop-color="#7a7a7a"/><stop offset="92.00%" stop-color="#9e9e9e"/><stop offset="93.00%" stop-color="#9e9e9e"/><stop offset="93.00%" stop-color="#9e9e9e"/><stop offset="94.00%" stop-color="#9e9e9e"/><stop offset="94.00%" stop-color="#9e9e9e"/><stop offset="95.00%" stop-color="#9e9e9e"/><stop offset="95.00%" stop-color="#7a7a7a"/><stop offset="96.00%" stop-color="#7a7a7a"/><stop offset="96.00%" stop-color="#9e9e9e"/><stop offset="97.00%" stop-color="#9e9e9e"/><stop offset="97.00%" stop-color="#9e9e9e"/><stop offset="98.00%" stop-color="#9e9e9e"/><stop offset="98.00%" stop-color="#7a7a7a"/><stop offset="99.00%" stop-color="#7a7a7a"/><stop offset="99.00%" stop-color="#9e9e9e"/><stop offset="100.00%" stop-color="#9e9e9e"/></linearGradient><filter id="vf1" x="0" y="0" width="1" height="1" color-interpolation-filters="sRGB"><feTurbulence type="fractalNoise" baseFrequency="0.45 0.005" numOctaves="2" seed="20" result="n1"/><feColorMatrix in="n1" type="matrix" values="1 0 0 0 0 1 0 0 0 0 1 0 0 0 0 0 0 0 0 1" result="m1"/><feTurbulence type="fractalNoise" baseFrequency="0.9 0.15" numOctaves="1" seed="25" result="n2"/><feColorMatrix in="n2" type="matrix" values="1 0 0 0 0 1 0 0 0 0 1 0 0 0 0 0 0 0 0 1" result="m2"/><feComposite in="SourceGraphic" in2="m1" operator="arithmetic" k1="0" k2="3" k3="0.6" k4="-1.400" result="c1"/><feComposite in="c1" in2="m2" operator="arithmetic" k1="0" k2="1" k3="0.2" k4="-0.100"/><feComponentTransfer><feFuncR type="table" tableValues="0.267 0.277 0.282 0.283 0.279 0.271 0.259 0.245 0.23 0.214 0.199 0.186 0.173 0.161 0.149 0.138 0.128 0.121 0.121 0.132 0.158 0.197 0.246 0.304 0.369 0.44 0.516 0.596 0.678 0.762 0.846 0.926 0.993"/><feFuncG type="table" tableValues="0.005 0.05 0.095 0.136 0.175 0.214 0.252 0.288 0.322 0.356 0.388 0.419 0.449 0.479 0.508 0.537 0.567 0.596 0.626 0.655 0.684 0.712 0.739 0.765 0.789 0.811 0.831 0.849 0.864 0.876 0.887 0.897 0.906"/><feFuncB type="table" tableValues="0.329 0.376 0.417 0.453 0.483 0.507 0.525 0.537 0.546 0.551 0.555 0.557 0.558 0.558 0.557 0.555 0.551 0.544 0.533 0.52 0.502 0.479 0.452 0.42 0.383 0.341 0.294 0.243 0.19 0.137 0.1 0.104 0.144"/></feComponentTransfer></filter></defs><rect width="720" height="432" fill="#fff"/><g clip-path="url(#pc)"><g filter="url(#vf1)"><rect x="90" y="51.84" width="446.4" height="332.64" fill="url(#cg1)"/><rect x="90" y="51.84" width="446.4" height="332.64" fill="url(#cl1)" mask="url(#lm)"/><rect x="90" y="51.84" width="446.4" height="332.64" fill="url(#rg)" opacity="0.5"/><g opacity="0.3333" ><g filter="url(#blr)"><rect x="10.0" y="-28.2" width="154.9" height="135.9" fill="#787878"/><rect x="164.4" y="-28.2" width="74.9" height="135.9" fill="#787878"/><rect x="238.8" y="-28.2" width="74.9" height="135.9" fill="#787878"/><rect x="313.2" y="-28.2" width="74.9" height="135.9" fill="#787878"/><rect x="387.6" y="-28.2" width="74.9" height="135.9" fill="#787878"/><rect x="462.0" y="-28.2" width="154.9" height="135.9" fill="#787878"/><rect x="10.0" y="107.3" width="154.9" height="55.9" fill="#787878"/><rect x="164.4" y="107.3" width="74.9" height="55.9" fill="#787878"/><rect x="238.8" y="107.3" width="74.9" height="55.9" fill="#787878"/><rect x="313.2" y="107.3" width="74.9" height="55.9" fill="#787878"/><rect x="387.6" y="107.3" width="74.9" height="55.9" fill="#787878"/><rect x="462.0" y="107.3" width="154.9" height="55.9" fill="#787878"/><rect x="10.0" y="162.7" width="154.9" height="55.9" fill="#737373"/><rect x="164.4" y="162.7" width="74.9" height="55.9" fill="#737373"/><rect x="238.8" y="162.7" width="74.9" height="55.9" fill="#737373"/><rect x="313.2" y="162.7" width="74.9" height="55.9" fill="#737373"/><rect x="387.6" y="162.7" width="74.9" height="55.9" fill="#737373"/><rect x="462.0" y="162.7" width="154.9" height="55.9" fill="#737373"/><rect x="10.0" y="218.2" width="154.9" height="55.9" fill="#919191"/><rect x="164.4" y="218.2" width="74.9" height="55.9" fill="#919191"/><rect x="238.8" y="218.2" width="74.9" height="55.9" fill="#919191"/><rect x="313.2" y="218.2" width="74.9" height="55.9" fill="#8c8c8c"/><rect x="387.6" y="218.2" width="74.9" height="55.9" fill="#858585"/><rect x="462.0" y="218.2" width="154.9" height="55.9" fill="#858585"/><rect x="10.0" y="273.6" width="154.9" height="55.9" fill="#a1a1a1"/><rect x="164.4" y="273.6" width="74.9" height="55.9" fill="#a1a1a1"/><rect x="238.8" y="273.6" width="74.9" height="55.9" fill="#a1a1a1"/><rect x="313.2" y="273.6" width="74.9" height="55.9" fill="#9e9e9e"/><rect x="387.6" y="273.6" width="74.9" height="55.9" fill="#9c9c9c"/><rect x="462.0" y="273.6" width="154.9" height="55.9" fill="#9c9c9c"/><rect x="10.0" y="329.0" width="154.9" height="135.9" fill="#8c8c8c"/><rect x="164.4" y="329.0" width="74.9" height="135.9" fill="#8c8c8c"/><rect x="238.8" y="329.0" width="74.9" height="135.9" fill="#8c8c8c"/><rect x="313.2" y="329.0" width="74.9" height="135.9" fill="#8c8c8c"/><rect x="387.6" y="329.0" width="74.9" height="135.9" fill="#8c8c8c"/><rect x="462.0" y="329.0" width="154.9" height="135.9" fill="#8c8c8c"/></g></g></g></g><rect x="90" y="51.84" width="446.4" height="332.64" fill="none" stroke="#3a3a3a" stroke-width="0.8"/><path d="M164.40 384.48v3.5 M238.80 384.48v3.5 M313.20 384.48v3.5 M387.60 384.48v3.5 M462.00 384.48v3.5 M90 384.48h-3.5 M90 329.04h-3.5 M90 273.60h-3.5 M90 218.16h-3.5 M90 162.72h-3.5 M90 107.28h-3.5 M90 51.84h-3.5 M580.932 384.48h3.5 M580.932 344.88h3.5 M580.932 305.28h3.5 M580.932 265.68h3.5 M580.932 226.08h3.5 M580.932 186.48h3.5 M580.932 146.88h3.5 M580.932 107.28h3.5 M580.932 67.68h3.5" stroke="#000" stroke-width="0.8" fill="none"/><rect x="564.3" y="51.84" width="16.632" height="332.64" fill="url(#cbg)" stroke="#000" stroke-width="0.8"/><g font-size="10"><text x="164.40" y="400.28" text-anchor="middle" textLength="6.375" lengthAdjust="spacingAndGlyphs">5</text><text x="238.80" y="400.28" text-anchor="middle" textLength="12.625" lengthAdjust="spacingAndGlyphs">10</text><text x="313.20" y="400.28" text-anchor="middle" textLength="12.75" lengthAdjust="spacingAndGlyphs">15</text><text x="387.60" y="400.28" text-anchor="middle" textLength="12.625" lengthAdjust="spacingAndGlyphs">20</text><text x="462.00" y="400.28" text-anchor="middle" textLength="12.75" lengthAdjust="spacingAndGlyphs">25</text><text x="83" y="389.48" text-anchor="end" textLength="6.25" lengthAdjust="spacingAndGlyphs">0</text><text x="83" y="334.04" text-anchor="end" textLength="25.125" lengthAdjust="spacingAndGlyphs">2000</text><text x="83" y="278.60" text-anchor="end" textLength="25.0" lengthAdjust="spacingAndGlyphs">4000</text><text x="83" y="223.16" text-anchor="end" textLength="25.125" lengthAdjust="spacingAndGlyphs">6000</text><text x="83" y="167.72" text-anchor="end" textLength="25.0" lengthAdjust="spacingAndGlyphs">8000</text><text x="83" y="112.28" text-anchor="end" textLength="31.375" lengthAdjust="spacingAndGlyphs">10000</text><text x="83" y="56.84" text-anchor="end" textLength="31.5" lengthAdjust="spacingAndGlyphs">12000</text><text x="587.93" y="389.48" textLength="27.25" lengthAdjust="spacingAndGlyphs">−100</text><text x="587.93" y="349.88" textLength="21.0" lengthAdjust="spacingAndGlyphs">−90</text><text x="587.93" y="310.28" textLength="20.875" lengthAdjust="spacingAndGlyphs">−80</text><text x="587.93" y="270.68" textLength="21.0" lengthAdjust="spacingAndGlyphs">−70</text><text x="587.93" y="231.08" textLength="21.0" lengthAdjust="spacingAndGlyphs">−60</text><text x="587.93" y="191.48" textLength="21.0" lengthAdjust="spacingAndGlyphs">−50</text><text x="587.93" y="151.88" textLength="20.875" lengthAdjust="spacingAndGlyphs">−40</text><text x="587.93" y="112.28" textLength="20.875" lengthAdjust="spacingAndGlyphs">−30</text><text x="587.93" y="72.68" textLength="21.0" lengthAdjust="spacingAndGlyphs">−20</text></g><text x="313.2" y="413.96" text-anchor="middle" font-size="10" textLength="40.5" lengthAdjust="spacingAndGlyphs">Time (s)</text><text x="45.1" y="218.16" text-anchor="middle" font-size="10" textLength="75.125" lengthAdjust="spacingAndGlyphs" transform="rotate(-90 45.1 218.16)">Frequency (Hz)</text><text x="627" y="218.16" text-anchor="middle" font-size="10" textLength="54.125" lengthAdjust="spacingAndGlyphs" transform="rotate(-90 627 218.16)">Power (dB)</text><text x="313.2" y="47.040000000000006" text-anchor="middle" font-size="12" textLength="193.25" lengthAdjust="spacingAndGlyphs">Audio Spectrogram - Segment 1</text></svg></div><div class="cap" style="left:12.6px">Segment 1: 30s - 60s</div></div><div class="card" style="left:0px;top:298px;width:352px;height:289px"><div class="im"><svg class="fig" viewBox="0 0 720 432" width="328" height="196.8"><defs><linearGradient id="cg2" x1="0" x2="1" y1="0" y2="0"><stop offset="0.00%" stop-color="#b5b5b5"/><stop offset="1.00%" stop-color="#b5b5b5"/><stop offset="1.00%" stop-color="#b5b5b5"/><stop offset="2.00%" stop-color="#b5b5b5"/><stop offset="2.00%" stop-color="#a1a1a1"/><stop offset="3.00%" stop-color="#a1a1a1"/><stop offset="3.00%" stop-color="#a1a1a1"/><stop offset="4.00%" stop-color="#a1a1a1"/><stop offset="4.00%" stop-color="#b5b5b5"/><stop offset="5.00%" stop-color="#b5b5b5"/><stop offset="5.00%" stop-color="#b5b5b5"/><stop offset="6.00%" stop-color="#b5b5b5"/><stop offset="6.00%" stop-color="#8f8f8f"/><stop offset="7.00%" stop-color="#8f8f8f"/><stop offset="7.00%" stop-color="#000000"/><stop offset="8.00%" stop-color="#000000"/><stop offset="8.00%" stop-color="#000000"/><stop offset="9.00%" stop-color="#000000"/><stop offset="9.00%" stop-color="#787878"/><stop offset="10.00%" stop-color="#787878"/><stop offset="10.00%" stop-color="#a1a1a1"/><stop offset="11.00%" stop-color="#a1a1a1"/><stop offset="11.00%" stop-color="#a1a1a1"/><stop offset="12.00%" stop-color="#a1a1a1"/><stop offset="12.00%" stop-color="#b5b5b5"/><stop offset="13.00%" stop-color="#b5b5b5"/><stop offset="13.00%" stop-color="#b5b5b5"/><stop offset="14.00%" stop-color="#b5b5b5"/><stop offset="14.00%" stop-color="#a1a1a1"/><stop offset="15.00%" stop-color="#a1a1a1"/><stop offset="15.00%" stop-color="#a1a1a1"/><stop offset="16.00%" stop-color="#a1a1a1"/><stop offset="16.00%" stop-color="#b5b5b5"/><stop offset="17.00%" stop-color="#b5b5b5"/><stop offset="17.00%" stop-color="#b5b5b5"/><stop offset="18.00%" stop-color="#b5b5b5"/><stop offset="18.00%" stop-color="#b5b5b5"/><stop offset="19.00%" stop-color="#b5b5b5"/><stop offset="19.00%" stop-color="#b5b5b5"/><stop offset="20.00%" stop-color="#b5b5b5"/><stop offset="20.00%" stop-color="#a1a1a1"/><stop offset="21.00%" stop-color="#a1a1a1"/><stop offset="21.00%" stop-color="#a1a1a1"/><stop offset="22.00%" stop-color="#a1a1a1"/><stop offset="22.00%" stop-color="#a1a1a1"/><stop offset="23.00%" stop-color="#a1a1a1"/><stop offset="23.00%" stop-color="#a1a1a1"/><stop offset="24.00%" stop-color="#a1a1a1"/><stop offset="24.00%" stop-color="#8f8f8f"/><stop offset="25.00%" stop-color="#8f8f8f"/><stop offset="25.00%" stop-color="#8f8f8f"/><stop offset="26.00%" stop-color="#8f8f8f"/><stop offset="26.00%" stop-color="#b5b5b5"/><stop offset="27.00%" stop-color="#b5b5b5"/><stop offset="27.00%" stop-color="#b5b5b5"/><stop offset="28.00%" stop-color="#b5b5b5"/><stop offset="28.00%" stop-color="#a1a1a1"/><stop offset="29.00%" stop-color="#a1a1a1"/><stop offset="29.00%" stop-color="#a1a1a1"/><stop offset="30.00%" stop-color="#a1a1a1"/><stop offset="30.00%" stop-color="#8f8f8f"/><stop offset="31.00%" stop-color="#8f8f8f"/><stop offset="31.00%" stop-color="#8f8f8f"/><stop offset="32.00%" stop-color="#8f8f8f"/><stop offset="32.00%" stop-color="#a1a1a1"/><stop offset="33.00%" stop-color="#a1a1a1"/><stop offset="33.00%" stop-color="#a1a1a1"/><stop offset="34.00%" stop-color="#a1a1a1"/><stop offset="34.00%" stop-color="#8f8f8f"/><stop offset="35.00%" stop-color="#8f8f8f"/><stop offset="35.00%" stop-color="#8f8f8f"/><stop offset="36.00%" stop-color="#8f8f8f"/><stop offset="36.00%" stop-color="#a1a1a1"/><stop offset="37.00%" stop-color="#a1a1a1"/><stop offset="37.00%" stop-color="#a1a1a1"/><stop offset="38.00%" stop-color="#a1a1a1"/><stop offset="38.00%" stop-color="#8f8f8f"/><stop offset="39.00%" stop-color="#8f8f8f"/><stop offset="39.00%" stop-color="#000000"/><stop offset="40.00%" stop-color="#000000"/><stop offset="40.00%" stop-color="#000000"/><stop offset="41.00%" stop-color="#000000"/><stop offset="41.00%" stop-color="#787878"/><stop offset="42.00%" stop-color="#787878"/><stop offset="42.00%" stop-color="#a1a1a1"/><stop offset="43.00%" stop-color="#a1a1a1"/><stop offset="43.00%" stop-color="#a1a1a1"/><stop offset="44.00%" stop-color="#a1a1a1"/><stop offset="44.00%" stop-color="#8f8f8f"/><stop offset="45.00%" stop-color="#8f8f8f"/><stop offset="45.00%" stop-color="#8f8f8f"/><stop offset="46.00%" stop-color="#8f8f8f"/><stop offset="46.00%" stop-color="#787878"/><stop offset="47.00%" stop-color="#787878"/><stop offset="47.00%" stop-color="#787878"/><stop offset="48.00%" stop-color="#787878"/><stop offset="48.00%" stop-color="#a1a1a1"/><stop offset="49.00%" stop-color="#a1a1a1"/><stop offset="49.00%" stop-color="#a1a1a1"/><stop offset="50.00%" stop-color="#a1a1a1"/><stop offset="50.00%" stop-color="#8f8f8f"/><stop offset="51.00%" stop-color="#8f8f8f"/><stop offset="51.00%" stop-color="#8f8f8f"/><stop offset="52.00%" stop-color="#8f8f8f"/><stop offset="52.00%" stop-color="#000000"/><stop offset="53.00%" stop-color="#000000"/><stop offset="53.00%" stop-color="#000000"/><stop offset="54.00%" stop-color="#000000"/><stop offset="54.00%" stop-color="#000000"/><stop offset="55.00%" stop-color="#000000"/><stop offset="55.00%" stop-color="#8f8f8f"/><stop offset="56.00%" stop-color="#8f8f8f"/><stop offset="56.00%" stop-color="#b5b5b5"/><stop offset="57.00%" stop-color="#b5b5b5"/><stop offset="57.00%" stop-color="#b5b5b5"/><stop offset="58.00%" stop-color="#b5b5b5"/><stop offset="58.00%" stop-color="#a1a1a1"/><stop offset="59.00%" stop-color="#a1a1a1"/><stop offset="59.00%" stop-color="#a1a1a1"/><stop offset="60.00%" stop-color="#a1a1a1"/><stop offset="60.00%" stop-color="#a1a1a1"/><stop offset="61.00%" stop-color="#a1a1a1"/><stop offset="61.00%" stop-color="#a1a1a1"/><stop offset="62.00%" stop-color="#a1a1a1"/><stop offset="62.00%" stop-color="#8f8f8f"/><stop offset="63.00%" stop-color="#8f8f8f"/><stop offset="63.00%" stop-color="#8f8f8f"/><stop offset="64.00%" stop-color="#8f8f8f"/><stop offset="64.00%" stop-color="#b5b5b5"/><stop offset="65.00%" stop-color="#b5b5b5"/><stop offset="65.00%" stop-color="#b5b5b5"/><stop offset="66.00%" stop-color="#b5b5b5"/><stop offset="66.00%" stop-color="#a1a1a1"/><stop offset="67.00%" stop-color="#a1a1a1"/><stop offset="67.00%" stop-color="#a1a1a1"/><stop offset="68.00%" stop-color="#a1a1a1"/><stop offset="68.00%" stop-color="#8f8f8f"/><stop offset="69.00%" stop-color="#8f8f8f"/><stop offset="69.00%" stop-color="#8f8f8f"/><stop offset="70.00%" stop-color="#8f8f8f"/><stop offset="70.00%" stop-color="#a1a1a1"/><stop offset="71.00%" stop-color="#a1a1a1"/><stop offset="71.00%" stop-color="#a1a1a1"/><stop offset="72.00%" stop-color="#a1a1a1"/><stop offset="72.00%" stop-color="#a1a1a1"/><stop offset="73.00%" stop-color="#a1a1a1"/><stop offset="73.00%" stop-color="#a1a1a1"/><stop offset="74.00%" stop-color="#a1a1a1"/><stop offset="74.00%" stop-color="#a1a1a1"/><stop offset="75.00%" stop-color="#a1a1a1"/><stop offset="75.00%" stop-color="#a1a1a1"/><stop offset="76.00%" stop-color="#a1a1a1"/><stop offset="76.00%" stop-color="#8f8f8f"/><stop offset="77.00%" stop-color="#8f8f8f"/><stop offset="77.00%" stop-color="#8f8f8f"/><stop offset="78.00%" stop-color="#8f8f8f"/><stop offset="78.00%" stop-color="#a1a1a1"/><stop offset="79.00%" stop-color="#a1a1a1"/><stop offset="79.00%" stop-color="#a1a1a1"/><stop offset="80.00%" stop-color="#a1a1a1"/><stop offset="80.00%" stop-color="#000000"/><stop offset="81.00%" stop-color="#000000"/><stop offset="81.00%" stop-color="#787878"/><stop offset="82.00%" stop-color="#787878"/><stop offset="82.00%" stop-color="#787878"/><stop offset="83.00%" stop-color="#787878"/><stop offset="83.00%" stop-color="#000000"/><stop offset="84.00%" stop-color="#000000"/><stop offset="84.00%" stop-color="#a1a1a1"/><stop offset="85.00%" stop-color="#a1a1a1"/><stop offset="85.00%" stop-color="#a1a1a1"/><stop offset="86.00%" stop-color="#a1a1a1"/><stop offset="86.00%" stop-color="#a1a1a1"/><stop offset="87.00%" stop-color="#a1a1a1"/><stop offset="87.00%" stop-color="#a1a1a1"/><stop offset="88.00%" stop-color="#a1a1a1"/><stop offset="88.00%" stop-color="#b5b5b5"/><stop offset="89.00%" stop-color="#b5b5b5"/><stop offset="89.00%" stop-color="#b5b5b5"/><stop offset="90.00%" stop-color="#b5b5b5"/><stop offset="90.00%" stop-color="#a1a1a1"/><stop offset="91.00%" stop-color="#a1a1a1"/><stop offset="91.00%" stop-color="#a1a1a1"/><stop offset="92.00%" stop-color="#a1a1a1"/><stop offset="92.00%" stop-color="#8f8f8f"/><stop offset="93.00%" stop-color="#8f8f8f"/><stop offset="93.00%" stop-color="#8f8f8f"/><stop offset="94.00%" stop-color="#8f8f8f"/><stop offset="94.00%" stop-color="#a1a1a1"/><stop offset="95.00%" stop-color="#a1a1a1"/><stop offset="95.00%" stop-color="#a1a1a1"/><stop offset="96.00%" stop-color="#a1a1a1"/><stop offset="96.00%" stop-color="#a1a1a1"/><stop offset="97.00%" stop-color="#a1a1a1"/><stop offset="97.00%" stop-color="#a1a1a1"/><stop offset="98.00%" stop-color="#a1a1a1"/><stop offset="98.00%" stop-color="#8f8f8f"/><stop offset="99.00%" stop-color="#8f8f8f"/><stop offset="99.00%" stop-color="#8f8f8f"/><stop offset="100.00%" stop-color="#8f8f8f"/></linearGradient><linearGradient id="cl2" x1="0" x2="1" y1="0" y2="0"><stop offset="0.00%" stop-color="#9e9e9e"/><stop offset="1.00%" stop-color="#9e9e9e"/><stop offset="1.00%" stop-color="#9e9e9e"/><stop offset="2.00%" stop-color="#9e9e9e"/><stop offset="2.00%" stop-color="#9e9e9e"/><stop offset="3.00%" stop-color="#9e9e9e"/><stop offset="3.00%" stop-color="#9e9e9e"/><stop offset="4.00%" stop-color="#9e9e9e"/><stop offset="4.00%" stop-color="#9e9e9e"/><stop offset="5.00%" stop-color="#9e9e9e"/><stop offset="5.00%" stop-color="#7a7a7a"/><stop offset="6.00%" stop-color="#7a7a7a"/><stop offset="6.00%" stop-color="#7a7a7a"/><stop offset="7.00%" stop-color="#7a7a7a"/><stop offset="7.00%" stop-color="#000000"/><stop offset="8.00%" stop-color="#000000"/><stop offset="8.00%" stop-color="#000000"/><stop offset="9.00%" stop-color="#000000"/><stop offset="9.00%" stop-color="#7a7a7a"/><stop offset="10.00%" stop-color="#7a7a7a"/><stop offset="10.00%" stop-color="#7a7a7a"/><stop offset="11.00%" stop-color="#7a7a7a"/><stop offset="11.00%" stop-color="#9e9e9e"/><stop offset="12.00%" stop-color="#9e9e9e"/><stop offset="12.00%" stop-color="#9e9e9e"/><stop offset="13.00%" stop-color="#9e9e9e"/><stop offset="13.00%" stop-color="#9e9e9e"/><stop offset="14.00%" stop-color="#9e9e9e"/><stop offset="14.00%" stop-color="#9e9e9e"/><stop offset="15.00%" stop-color="#9e9e9e"/><stop offset="15.00%" stop-color="#9e9e9e"/><stop offset="16.00%" stop-color="#9e9e9e"/><stop offset="16.00%" stop-color="#b2b2b2"/><stop offset="17.00%" stop-color="#b2b2b2"/><stop offset="17.00%" stop-color="#9e9e9e"/><stop offset="18.00%" stop-color="#9e9e9e"/><stop offset="18.00%" stop-color="#9e9e9e"/><stop offset="19.00%" stop-color="#9e9e9e"/><stop offset="19.00%" stop-color="#9e9e9e"/><stop offset="20.00%" stop-color="#9e9e9e"/><stop offset="20.00%" stop-color="#9e9e9e"/><stop offset="21.00%" stop-color="#9e9e9e"/><stop offset="21.00%" stop-color="#9e9e9e"/><stop offset="22.00%" stop-color="#9e9e9e"/><stop offset="22.00%" stop-color="#525252"/><stop offset="23.00%" stop-color="#525252"/><stop offset="23.00%" stop-color="#525252"/><stop offset="24.00%" stop-color="#525252"/><stop offset="24.00%" stop-color="#9e9e9e"/><stop offset="25.00%" stop-color="#9e9e9e"/><stop offset="25.00%" stop-color="#b2b2b2"/><stop offset="26.00%" stop-color="#b2b2b2"/><stop offset="26.00%" stop-color="#9e9e9e"/><stop offset="27.00%" stop-color="#9e9e9e"/><stop offset="27.00%" stop-color="#9e9e9e"/><stop offset="28.00%" stop-color="#9e9e9e"/><stop offset="28.00%" stop-color="#9e9e9e"/><stop offset="29.00%" stop-color="#9e9e9e"/><stop offset="29.00%" stop-color="#9e9e9e"/><stop offset="30.00%" stop-color="#9e9e9e"/><stop offset="30.00%" stop-color="#9e9e9e"/><stop offset="31.00%" stop-color="#9e9e9e"/><stop offset="31.00%" stop-color="#7a7a7a"/><stop offset="32.00%" stop-color="#7a7a7a"/><stop offset="32.00%" stop-color="#9e9e9e"/><stop offset="33.00%" stop-color="#9e9e9e"/><stop offset="33.00%" stop-color="#9e9e9e"/><stop offset="34.00%" stop-color="#9e9e9e"/><stop offset="34.00%" stop-color="#9e9e9e"/><stop offset="35.00%" stop-color="#9e9e9e"/><stop offset="35.00%" stop-color="#9e9e9e"/><stop offset="36.00%" stop-color="#9e9e9e"/><stop offset="36.00%" stop-color="#9e9e9e"/><stop offset="37.00%" stop-color="#9e9e9e"/><stop offset="37.00%" stop-color="#9e9e9e"/><stop offset="38.00%" stop-color="#9e9e9e"/><stop offset="38.00%" stop-color="#9e9e9e"/><stop offset="39.00%" stop-color="#9e9e9e"/><stop offset="39.00%" stop-color="#000000"/><stop offset="40.00%" stop-color="#000000"/><stop offset="40.00%" stop-color="#000000"/><stop offset="41.00%" stop-color="#000000"/><stop offset="41.00%" stop-color="#9e9e9e"/><stop offset="42.00%" stop-color="#9e9e9e"/><stop offset="42.00%" stop-color="#9e9e9e"/><stop offset="43.00%" stop-color="#9e9e9e"/><stop offset="43.00%" stop-color="#9e9e9e"/><stop offset="44.00%" stop-color="#9e9e9e"/><stop offset="44.00%" stop-color="#9e9e9e"/><stop offset="45.00%" stop-color="#9e9e9e"/><stop offset="45.00%" stop-color="#9e9e9e"/><stop offset="46.00%" stop-color="#9e9e9e"/><stop offset="46.00%" stop-color="#525252"/><stop offset="47.00%" stop-color="#525252"/><stop offset="47.00%" stop-color="#7a7a7a"/><stop offset="48.00%" stop-color="#7a7a7a"/><stop offset="48.00%" stop-color="#9e9e9e"/><stop offset="49.00%" stop-color="#9e9e9e"/><stop offset="49.00%" stop-color="#9e9e9e"/><stop offset="50.00%" stop-color="#9e9e9e"/><stop offset="50.00%" stop-color="#525252"/><stop offset="51.00%" stop-color="#525252"/><stop offset="51.00%" stop-color="#7a7a7a"/><stop offset="52.00%" stop-color="#7a7a7a"/><stop offset="52.00%" stop-color="#000000"/><stop offset="53.00%" stop-color="#000000"/><stop offset="53.00%" stop-color="#000000"/><stop offset="54.00%" stop-color="#000000"/><stop offset="54.00%" stop-color="#000000"/><stop offset="55.00%" stop-color="#000000"/><stop offset="55.00%" stop-color="#9e9e9e"/><stop offset="56.00%" stop-color="#9e9e9e"/><stop offset="56.00%" stop-color="#9e9e9e"/><stop offset="57.00%" stop-color="#9e9e9e"/><stop offset="57.00%" stop-color="#9e9e9e"/><stop offset="58.00%" stop-color="#9e9e9e"/><stop offset="58.00%" stop-color="#9e9e9e"/><stop offset="59.00%" stop-color="#9e9e9e"/><stop offset="59.00%" stop-color="#7a7a7a"/><stop offset="60.00%" stop-color="#7a7a7a"/><stop offset="60.00%" stop-color="#9e9e9e"/><stop offset="61.00%" stop-color="#9e9e9e"/><stop offset="61.00%" stop-color="#9e9e9e"/><stop offset="62.00%" stop-color="#9e9e9e"/><stop offset="62.00%" stop-color="#9e9e9e"/><stop offset="63.00%" stop-color="#9e9e9e"/><stop offset="63.00%" stop-color="#525252"/><stop offset="64.00%" stop-color="#525252"/><stop offset="64.00%" stop-color="#525252"/><stop offset="65.00%" stop-color="#525252"/><stop offset="65.00%" stop-color="#9e9e9e"/><stop offset="66.00%" stop-color="#9e9e9e"/><stop offset="66.00%" stop-color="#9e9e9e"/><stop offset="67.00%" stop-color="#9e9e9e"/><stop offset="67.00%" stop-color="#7a7a7a"/><stop offset="68.00%" stop-color="#7a7a7a"/><stop offset="68.00%" stop-color="#9e9e9e"/><stop offset="69.00%" stop-color="#9e9e9e"/><stop offset="69.00%" stop-color="#525252"/><stop offset="70.00%" stop-color="#525252"/><stop offset="70.00%" stop-color="#9e9e9e"/><stop offset="71.00%" stop-color="#9e9e9e"/><stop offset="71.00%" stop-color="#9e9e9e"/><stop offset="72.00%" stop-color="#9e9e9e"/><stop offset="72.00%" stop-color="#9e9e9e"/><stop offset="73.00%" stop-color="#9e9e9e"/><stop offset="73.00%" stop-color="#9e9e9e"/><stop offset="74.00%" stop-color="#9e9e9e"/><stop offset="74.00%" stop-color="#9e9e9e"/><stop offset="75.00%" stop-color="#9e9e9e"/><stop offset="75.00%" stop-color="#7a7a7a"/><stop offset="76.00%" stop-color="#7a7a7a"/><stop offset="76.00%" stop-color="#9e9e9e"/><stop offset="77.00%" stop-color="#9e9e9e"/><stop offset="77.00%" stop-color="#9e9e9e"/><stop offset="78.00%" stop-color="#9e9e9e"/><stop offset="78.00%" stop-color="#9e9e9e"/><stop offset="79.00%" stop-color="#9e9e9e"/><stop offset="79.00%" stop-color="#9e9e9e"/><stop offset="80.00%" stop-color="#9e9e9e"/><stop offset="80.00%" stop-color="#000000"/><stop offset="81.00%" stop-color="#000000"/><stop offset="81.00%" stop-color="#525252"/><stop offset="82.00%" stop-color="#525252"/><stop offset="82.00%" stop-color="#7a7a7a"/><stop offset="83.00%" stop-color="#7a7a7a"/><stop offset="83.00%" stop-color="#000000"/><stop offset="84.00%" stop-color="#000000"/><stop offset="84.00%" stop-color="#525252"/><stop offset="85.00%" stop-color="#525252"/><stop offset="85.00%" stop-color="#9e9e9e"/><stop offset="86.00%" stop-color="#9e9e9e"/><stop offset="86.00%" stop-color="#9e9e9e"/><stop offset="87.00%" stop-color="#9e9e9e"/><stop offset="87.00%" stop-color="#9e9e9e"/><stop offset="88.00%" stop-color="#9e9e9e"/><stop offset="88.00%" stop-color="#9e9e9e"/><stop offset="89.00%" stop-color="#9e9e9e"/><stop offset="89.00%" stop-color="#9e9e9e"/><stop offset="90.00%" stop-color="#9e9e9e"/><stop offset="90.00%" stop-color="#9e9e9e"/><stop offset="91.00%" stop-color="#9e9e9e"/><stop offset="91.00%" stop-color="#525252"/><stop offset="92.00%" stop-color="#525252"/><stop offset="92.00%" stop-color="#9e9e9e"/><stop offset="93.00%" stop-color="#9e9e9e"/><stop offset="93.00%" stop-color="#7a7a7a"/><stop offset="94.00%" stop-color="#7a7a7a"/><stop offset="94.00%" stop-color="#9e9e9e"/><stop offset="95.00%" stop-color="#9e9e9e"/><stop offset="95.00%" stop-color="#9e9e9e"/><stop offset="96.00%" stop-color="#9e9e9e"/><stop offset="96.00%" stop-color="#9e9e9e"/><stop offset="97.00%" stop-color="#9e9e9e"/><stop offset="97.00%" stop-color="#9e9e9e"/><stop offset="98.00%" stop-color="#9e9e9e"/><stop offset="98.00%" stop-color="#9e9e9e"/><stop offset="99.00%" stop-color="#9e9e9e"/><stop offset="99.00%" stop-color="#7a7a7a"/><stop offset="100.00%" stop-color="#7a7a7a"/></linearGradient><filter id="vf2" x="0" y="0" width="1" height="1" color-interpolation-filters="sRGB"><feTurbulence type="fractalNoise" baseFrequency="0.45 0.005" numOctaves="2" seed="33" result="n1"/><feColorMatrix in="n1" type="matrix" values="1 0 0 0 0 1 0 0 0 0 1 0 0 0 0 0 0 0 0 1" result="m1"/><feTurbulence type="fractalNoise" baseFrequency="0.9 0.15" numOctaves="1" seed="38" result="n2"/><feColorMatrix in="n2" type="matrix" values="1 0 0 0 0 1 0 0 0 0 1 0 0 0 0 0 0 0 0 1" result="m2"/><feComposite in="SourceGraphic" in2="m1" operator="arithmetic" k1="0" k2="3" k3="0.6" k4="-1.400" result="c1"/><feComposite in="c1" in2="m2" operator="arithmetic" k1="0" k2="1" k3="0.2" k4="-0.100"/><feComponentTransfer><feFuncR type="table" tableValues="0.267 0.277 0.282 0.283 0.279 0.271 0.259 0.245 0.23 0.214 0.199 0.186 0.173 0.161 0.149 0.138 0.128 0.121 0.121 0.132 0.158 0.197 0.246 0.304 0.369 0.44 0.516 0.596 0.678 0.762 0.846 0.926 0.993"/><feFuncG type="table" tableValues="0.005 0.05 0.095 0.136 0.175 0.214 0.252 0.288 0.322 0.356 0.388 0.419 0.449 0.479 0.508 0.537 0.567 0.596 0.626 0.655 0.684 0.712 0.739 0.765 0.789 0.811 0.831 0.849 0.864 0.876 0.887 0.897 0.906"/><feFuncB type="table" tableValues="0.329 0.376 0.417 0.453 0.483 0.507 0.525 0.537 0.546 0.551 0.555 0.557 0.558 0.558 0.557 0.555 0.551 0.544 0.533 0.52 0.502 0.479 0.452 0.42 0.383 0.341 0.294 0.243 0.19 0.137 0.1 0.104 0.144"/></feComponentTransfer></filter></defs><rect width="720" height="432" fill="#fff"/><g clip-path="url(#pc)"><g filter="url(#vf2)"><rect x="90" y="51.84" width="446.4" height="332.64" fill="url(#cg2)"/><rect x="90" y="51.84" width="446.4" height="332.64" fill="url(#cl2)" mask="url(#lm)"/><rect x="90" y="51.84" width="446.4" height="332.64" fill="url(#rg)" opacity="0.5"/><g opacity="0.3333" ><g filter="url(#blr)"><rect x="10.0" y="-28.2" width="154.9" height="135.9" fill="#878787"/><rect x="164.4" y="-28.2" width="74.9" height="135.9" fill="#878787"/><rect x="238.8" y="-28.2" width="74.9" height="135.9" fill="#858585"/><rect x="313.2" y="-28.2" width="74.9" height="135.9" fill="#828282"/><rect x="387.6" y="-28.2" width="74.9" height="135.9" fill="#828282"/><rect x="462.0" y="-28.2" width="154.9" height="135.9" fill="#828282"/><rect x="10.0" y="107.3" width="154.9" height="55.9" fill="#878787"/><rect x="164.4" y="107.3" width="74.9" height="55.9" fill="#878787"/><rect x="238.8" y="107.3" width="74.9" height="55.9" fill="#858585"/><rect x="313.2" y="107.3" width="74.9" height="55.9" fill="#828282"/><rect x="387.6" y="107.3" width="74.9" height="55.9" fill="#828282"/><rect x="462.0" y="107.3" width="154.9" height="55.9" fill="#828282"/><rect x="10.0" y="162.7" width="154.9" height="55.9" fill="#808080"/><rect x="164.4" y="162.7" width="74.9" height="55.9" fill="#757575"/><rect x="238.8" y="162.7" width="74.9" height="55.9" fill="#737373"/><rect x="313.2" y="162.7" width="74.9" height="55.9" fill="#757575"/><rect x="387.6" y="162.7" width="74.9" height="55.9" fill="#7a7a7a"/><rect x="462.0" y="162.7" width="154.9" height="55.9" fill="#7d7d7d"/><rect x="10.0" y="218.2" width="154.9" height="55.9" fill="#8c8c8c"/><rect x="164.4" y="218.2" width="74.9" height="55.9" fill="#8c8c8c"/><rect x="238.8" y="218.2" width="74.9" height="55.9" fill="#828282"/><rect x="313.2" y="218.2" width="74.9" height="55.9" fill="#878787"/><rect x="387.6" y="218.2" width="74.9" height="55.9" fill="#8a8a8a"/><rect x="462.0" y="218.2" width="154.9" height="55.9" fill="#8a8a8a"/><rect x="10.0" y="273.6" width="154.9" height="55.9" fill="#9e9e9e"/><rect x="164.4" y="273.6" width="74.9" height="55.9" fill="#9e9e9e"/><rect x="238.8" y="273.6" width="74.9" height="55.9" fill="#9e9e9e"/><rect x="313.2" y="273.6" width="74.9" height="55.9" fill="#9e9e9e"/><rect x="387.6" y="273.6" width="74.9" height="55.9" fill="#9e9e9e"/><rect x="462.0" y="273.6" width="154.9" height="55.9" fill="#9e9e9e"/><rect x="10.0" y="329.0" width="154.9" height="135.9" fill="#8a8a8a"/><rect x="164.4" y="329.0" width="74.9" height="135.9" fill="#8a8a8a"/><rect x="238.8" y="329.0" width="74.9" height="135.9" fill="#8a8a8a"/><rect x="313.2" y="329.0" width="74.9" height="135.9" fill="#8a8a8a"/><rect x="387.6" y="329.0" width="74.9" height="135.9" fill="#8a8a8a"/><rect x="462.0" y="329.0" width="154.9" height="135.9" fill="#8a8a8a"/></g></g></g></g><rect x="90" y="51.84" width="446.4" height="332.64" fill="none" stroke="#3a3a3a" stroke-width="0.8"/><path d="M164.40 384.48v3.5 M238.80 384.48v3.5 M313.20 384.48v3.5 M387.60 384.48v3.5 M462.00 384.48v3.5 M90 384.48h-3.5 M90 329.04h-3.5 M90 273.60h-3.5 M90 218.16h-3.5 M90 162.72h-3.5 M90 107.28h-3.5 M90 51.84h-3.5 M580.932 384.48h3.5 M580.932 345.64h3.5 M580.932 306.80h3.5 M580.932 267.96h3.5 M580.932 229.11h3.5 M580.932 190.27h3.5 M580.932 151.43h3.5 M580.932 112.59h3.5 M580.932 73.75h3.5" stroke="#000" stroke-width="0.8" fill="none"/><rect x="564.3" y="51.84" width="16.632" height="332.64" fill="url(#cbg)" stroke="#000" stroke-width="0.8"/><g font-size="10"><text x="164.40" y="400.28" text-anchor="middle" textLength="6.375" lengthAdjust="spacingAndGlyphs">5</text><text x="238.80" y="400.28" text-anchor="middle" textLength="12.625" lengthAdjust="spacingAndGlyphs">10</text><text x="313.20" y="400.28" text-anchor="middle" textLength="12.75" lengthAdjust="spacingAndGlyphs">15</text><text x="387.60" y="400.28" text-anchor="middle" textLength="12.625" lengthAdjust="spacingAndGlyphs">20</text><text x="462.00" y="400.28" text-anchor="middle" textLength="12.75" lengthAdjust="spacingAndGlyphs">25</text><text x="83" y="389.48" text-anchor="end" textLength="6.25" lengthAdjust="spacingAndGlyphs">0</text><text x="83" y="334.04" text-anchor="end" textLength="25.125" lengthAdjust="spacingAndGlyphs">2000</text><text x="83" y="278.60" text-anchor="end" textLength="25.0" lengthAdjust="spacingAndGlyphs">4000</text><text x="83" y="223.16" text-anchor="end" textLength="25.125" lengthAdjust="spacingAndGlyphs">6000</text><text x="83" y="167.72" text-anchor="end" textLength="25.0" lengthAdjust="spacingAndGlyphs">8000</text><text x="83" y="112.28" text-anchor="end" textLength="31.375" lengthAdjust="spacingAndGlyphs">10000</text><text x="83" y="56.84" text-anchor="end" textLength="31.5" lengthAdjust="spacingAndGlyphs">12000</text><text x="587.93" y="389.48" textLength="27.25" lengthAdjust="spacingAndGlyphs">−100</text><text x="587.93" y="350.64" textLength="21.0" lengthAdjust="spacingAndGlyphs">−90</text><text x="587.93" y="311.80" textLength="20.875" lengthAdjust="spacingAndGlyphs">−80</text><text x="587.93" y="272.96" textLength="21.0" lengthAdjust="spacingAndGlyphs">−70</text><text x="587.93" y="234.11" textLength="21.0" lengthAdjust="spacingAndGlyphs">−60</text><text x="587.93" y="195.27" textLength="21.0" lengthAdjust="spacingAndGlyphs">−50</text><text x="587.93" y="156.43" textLength="20.875" lengthAdjust="spacingAndGlyphs">−40</text><text x="587.93" y="117.59" textLength="20.875" lengthAdjust="spacingAndGlyphs">−30</text><text x="587.93" y="78.75" textLength="21.0" lengthAdjust="spacingAndGlyphs">−20</text></g><text x="313.2" y="413.96" text-anchor="middle" font-size="10" textLength="40.5" lengthAdjust="spacingAndGlyphs">Time (s)</text><text x="45.1" y="218.16" text-anchor="middle" font-size="10" textLength="75.125" lengthAdjust="spacingAndGlyphs" transform="rotate(-90 45.1 218.16)">Frequency (Hz)</text><text x="627" y="218.16" text-anchor="middle" font-size="10" textLength="54.125" lengthAdjust="spacingAndGlyphs" transform="rotate(-90 627 218.16)">Power (dB)</text><text x="313.2" y="47.040000000000006" text-anchor="middle" font-size="12" textLength="193.125" lengthAdjust="spacingAndGlyphs">Audio Spectrogram - Segment 4</text></svg></div><div class="cap" style="left:11.4px">Segment 4: 120s - 150s</div></div><div class="card" style="left:365px;top:298px;width:353px;height:289px"><div class="im"><svg class="fig" viewBox="0 0 720 432" width="328" height="196.8"><defs><linearGradient id="cg3" x1="0" x2="1" y1="0" y2="0"><stop offset="0.00%" stop-color="#a1a1a1"/><stop offset="1.00%" stop-color="#a1a1a1"/><stop offset="1.00%" stop-color="#a1a1a1"/><stop offset="2.00%" stop-color="#a1a1a1"/><stop offset="2.00%" stop-color="#a1a1a1"/><stop offset="3.00%" stop-color="#a1a1a1"/><stop offset="3.00%" stop-color="#a1a1a1"/><stop offset="4.00%" stop-color="#a1a1a1"/><stop offset="4.00%" stop-color="#a1a1a1"/><stop offset="5.00%" stop-color="#a1a1a1"/><stop offset="5.00%" stop-color="#a1a1a1"/><stop offset="6.00%" stop-color="#a1a1a1"/><stop offset="6.00%" stop-color="#787878"/><stop offset="7.00%" stop-color="#787878"/><stop offset="7.00%" stop-color="#787878"/><stop offset="8.00%" stop-color="#787878"/><stop offset="8.00%" stop-color="#000000"/><stop offset="9.00%" stop-color="#000000"/><stop offset="9.00%" stop-color="#787878"/><stop offset="10.00%" stop-color="#787878"/><stop offset="10.00%" stop-color="#b5b5b5"/><stop offset="11.00%" stop-color="#b5b5b5"/><stop offset="11.00%" stop-color="#b5b5b5"/><stop offset="12.00%" stop-color="#b5b5b5"/><stop offset="12.00%" stop-color="#a1a1a1"/><stop offset="13.00%" stop-color="#a1a1a1"/><stop offset="13.00%" stop-color="#a1a1a1"/><stop offset="14.00%" stop-color="#a1a1a1"/><stop offset="14.00%" stop-color="#a1a1a1"/><stop offset="15.00%" stop-color="#a1a1a1"/><stop offset="15.00%" stop-color="#a1a1a1"/><stop offset="16.00%" stop-color="#a1a1a1"/><stop offset="16.00%" stop-color="#8f8f8f"/><stop offset="17.00%" stop-color="#8f8f8f"/><stop offset="17.00%" stop-color="#8f8f8f"/><stop offset="18.00%" stop-color="#8f8f8f"/><stop offset="18.00%" stop-color="#000000"/><stop offset="19.00%" stop-color="#000000"/><stop offset="19.00%" stop-color="#000000"/><stop offset="20.00%" stop-color="#000000"/><stop offset="20.00%" stop-color="#b5b5b5"/><stop offset="21.00%" stop-color="#b5b5b5"/><stop offset="21.00%" stop-color="#b5b5b5"/><stop offset="22.00%" stop-color="#b5b5b5"/><stop offset="22.00%" stop-color="#a1a1a1"/><stop offset="23.00%" stop-color="#a1a1a1"/><stop offset="23.00%" stop-color="#a1a1a1"/><stop offset="24.00%" stop-color="#a1a1a1"/><stop offset="24.00%" stop-color="#a1a1a1"/><stop offset="25.00%" stop-color="#a1a1a1"/><stop offset="25.00%" stop-color="#a1a1a1"/><stop offset="26.00%" stop-color="#a1a1a1"/><stop offset="26.00%" stop-color="#787878"/><stop offset="27.00%" stop-color="#787878"/><stop offset="27.00%" stop-color="#787878"/><stop offset="28.00%" stop-color="#787878"/><stop offset="28.00%" stop-color="#a1a1a1"/><stop offset="29.00%" stop-color="#a1a1a1"/><stop offset="29.00%" stop-color="#a1a1a1"/><stop offset="30.00%" stop-color="#a1a1a1"/><stop offset="30.00%" stop-color="#a1a1a1"/><stop offset="31.00%" stop-color="#a1a1a1"/><stop offset="31.00%" stop-color="#a1a1a1"/><stop offset="32.00%" stop-color="#a1a1a1"/><stop offset="32.00%" stop-color="#787878"/><stop offset="33.00%" stop-color="#787878"/><stop offset="33.00%" stop-color="#000000"/><stop offset="34.00%" stop-color="#000000"/><stop offset="34.00%" stop-color="#a1a1a1"/><stop offset="35.00%" stop-color="#a1a1a1"/><stop offset="35.00%" stop-color="#a1a1a1"/><stop offset="36.00%" stop-color="#a1a1a1"/><stop offset="36.00%" stop-color="#a1a1a1"/><stop offset="37.00%" stop-color="#a1a1a1"/><stop offset="37.00%" stop-color="#a1a1a1"/><stop offset="38.00%" stop-color="#a1a1a1"/><stop offset="38.00%" stop-color="#a1a1a1"/><stop offset="39.00%" stop-color="#a1a1a1"/><stop offset="39.00%" stop-color="#a1a1a1"/><stop offset="40.00%" stop-color="#a1a1a1"/><stop offset="40.00%" stop-color="#a1a1a1"/><stop offset="41.00%" stop-color="#a1a1a1"/><stop offset="41.00%" stop-color="#a1a1a1"/><stop offset="42.00%" stop-color="#a1a1a1"/><stop offset="42.00%" stop-color="#787878"/><stop offset="43.00%" stop-color="#787878"/><stop offset="43.00%" stop-color="#787878"/><stop offset="44.00%" stop-color="#787878"/><stop offset="44.00%" stop-color="#a1a1a1"/><stop offset="45.00%" stop-color="#a1a1a1"/><stop offset="45.00%" stop-color="#a1a1a1"/><stop offset="46.00%" stop-color="#a1a1a1"/><stop offset="46.00%" stop-color="#a1a1a1"/><stop offset="47.00%" stop-color="#a1a1a1"/><stop offset="47.00%" stop-color="#a1a1a1"/><stop offset="48.00%" stop-color="#a1a1a1"/><stop offset="48.00%" stop-color="#a1a1a1"/><stop offset="49.00%" stop-color="#a1a1a1"/><stop offset="49.00%" stop-color="#a1a1a1"/><stop offset="50.00%" stop-color="#a1a1a1"/><stop offset="50.00%" stop-color="#a1a1a1"/><stop offset="51.00%" stop-color="#a1a1a1"/><stop offset="51.00%" stop-color="#a1a1a1"/><stop offset="52.00%" stop-color="#a1a1a1"/><stop offset="52.00%" stop-color="#a1a1a1"/><stop offset="53.00%" stop-color="#a1a1a1"/><stop offset="53.00%" stop-color="#a1a1a1"/><stop offset="54.00%" stop-color="#a1a1a1"/><stop offset="54.00%" stop-color="#a1a1a1"/><stop offset="55.00%" stop-color="#a1a1a1"/><stop offset="55.00%" stop-color="#a1a1a1"/><stop offset="56.00%" stop-color="#a1a1a1"/><stop offset="56.00%" stop-color="#a1a1a1"/><stop offset="57.00%" stop-color="#a1a1a1"/><stop offset="57.00%" stop-color="#a1a1a1"/><stop offset="58.00%" stop-color="#a1a1a1"/><stop offset="58.00%" stop-color="#787878"/><stop offset="59.00%" stop-color="#787878"/><stop offset="59.00%" stop-color="#000000"/><stop offset="60.00%" stop-color="#000000"/><stop offset="60.00%" stop-color="#000000"/><stop offset="61.00%" stop-color="#000000"/><stop offset="61.00%" stop-color="#8f8f8f"/><stop offset="62.00%" stop-color="#8f8f8f"/><stop offset="62.00%" stop-color="#a1a1a1"/><stop offset="63.00%" stop-color="#a1a1a1"/><stop offset="63.00%" stop-color="#a1a1a1"/><stop offset="64.00%" stop-color="#a1a1a1"/><stop offset="64.00%" stop-color="#a1a1a1"/><stop offset="65.00%" stop-color="#a1a1a1"/><stop offset="65.00%" stop-color="#a1a1a1"/><stop offset="66.00%" stop-color="#a1a1a1"/><stop offset="66.00%" stop-color="#8f8f8f"/><stop offset="67.00%" stop-color="#8f8f8f"/><stop offset="67.00%" stop-color="#8f8f8f"/><stop offset="68.00%" stop-color="#8f8f8f"/><stop offset="68.00%" stop-color="#8f8f8f"/><stop offset="69.00%" stop-color="#8f8f8f"/><stop offset="69.00%" stop-color="#8f8f8f"/><stop offset="70.00%" stop-color="#8f8f8f"/><stop offset="70.00%" stop-color="#8f8f8f"/><stop offset="71.00%" stop-color="#8f8f8f"/><stop offset="71.00%" stop-color="#8f8f8f"/><stop offset="72.00%" stop-color="#8f8f8f"/><stop offset="72.00%" stop-color="#a1a1a1"/><stop offset="73.00%" stop-color="#a1a1a1"/><stop offset="73.00%" stop-color="#a1a1a1"/><stop offset="74.00%" stop-color="#a1a1a1"/><stop offset="74.00%" stop-color="#a1a1a1"/><stop offset="75.00%" stop-color="#a1a1a1"/><stop offset="75.00%" stop-color="#a1a1a1"/><stop offset="76.00%" stop-color="#a1a1a1"/><stop offset="76.00%" stop-color="#a1a1a1"/><stop offset="77.00%" stop-color="#a1a1a1"/><stop offset="77.00%" stop-color="#a1a1a1"/><stop offset="78.00%" stop-color="#a1a1a1"/><stop offset="78.00%" stop-color="#787878"/><stop offset="79.00%" stop-color="#787878"/><stop offset="79.00%" stop-color="#000000"/><stop offset="80.00%" stop-color="#000000"/><stop offset="80.00%" stop-color="#a1a1a1"/><stop offset="81.00%" stop-color="#a1a1a1"/><stop offset="81.00%" stop-color="#a1a1a1"/><stop offset="82.00%" stop-color="#a1a1a1"/><stop offset="82.00%" stop-color="#a1a1a1"/><stop offset="83.00%" stop-color="#a1a1a1"/><stop offset="83.00%" stop-color="#a1a1a1"/><stop offset="84.00%" stop-color="#a1a1a1"/><stop offset="84.00%" stop-color="#a1a1a1"/><stop offset="85.00%" stop-color="#a1a1a1"/><stop offset="85.00%" stop-color="#a1a1a1"/><stop offset="86.00%" stop-color="#a1a1a1"/><stop offset="86.00%" stop-color="#a1a1a1"/><stop offset="87.00%" stop-color="#a1a1a1"/><stop offset="87.00%" stop-color="#a1a1a1"/><stop offset="88.00%" stop-color="#a1a1a1"/><stop offset="88.00%" stop-color="#8f8f8f"/><stop offset="89.00%" stop-color="#8f8f8f"/><stop offset="89.00%" stop-color="#8f8f8f"/><stop offset="90.00%" stop-color="#8f8f8f"/><stop offset="90.00%" stop-color="#787878"/><stop offset="91.00%" stop-color="#787878"/><stop offset="91.00%" stop-color="#000000"/><stop offset="92.00%" stop-color="#000000"/><stop offset="92.00%" stop-color="#a1a1a1"/><stop offset="93.00%" stop-color="#a1a1a1"/><stop offset="93.00%" stop-color="#a1a1a1"/><stop offset="94.00%" stop-color="#a1a1a1"/><stop offset="94.00%" stop-color="#a1a1a1"/><stop offset="95.00%" stop-color="#a1a1a1"/><stop offset="95.00%" stop-color="#a1a1a1"/><stop offset="96.00%" stop-color="#a1a1a1"/><stop offset="96.00%" stop-color="#8f8f8f"/><stop offset="97.00%" stop-color="#8f8f8f"/><stop offset="97.00%" stop-color="#8f8f8f"/><stop offset="98.00%" stop-color="#8f8f8f"/><stop offset="98.00%" stop-color="#8f8f8f"/><stop offset="99.00%" stop-color="#8f8f8f"/><stop offset="99.00%" stop-color="#8f8f8f"/><stop offset="100.00%" stop-color="#8f8f8f"/></linearGradient><linearGradient id="cl3" x1="0" x2="1" y1="0" y2="0"><stop offset="0.00%" stop-color="#9e9e9e"/><stop offset="1.00%" stop-color="#9e9e9e"/><stop offset="1.00%" stop-color="#7a7a7a"/><stop offset="2.00%" stop-color="#7a7a7a"/><stop offset="2.00%" stop-color="#9e9e9e"/><stop offset="3.00%" stop-color="#9e9e9e"/><stop offset="3.00%" stop-color="#9e9e9e"/><stop offset="4.00%" stop-color="#9e9e9e"/><stop offset="4.00%" stop-color="#9e9e9e"/><stop offset="5.00%" stop-color="#9e9e9e"/><stop offset="5.00%" stop-color="#9e9e9e"/><stop offset="6.00%" stop-color="#9e9e9e"/><stop offset="6.00%" stop-color="#9e9e9e"/><stop offset="7.00%" stop-color="#9e9e9e"/><stop offset="7.00%" stop-color="#525252"/><stop offset="8.00%" stop-color="#525252"/><stop offset="8.00%" stop-color="#000000"/><stop offset="9.00%" stop-color="#000000"/><stop offset="9.00%" stop-color="#525252"/><stop offset="10.00%" stop-color="#525252"/><stop offset="10.00%" stop-color="#9e9e9e"/><stop offset="11.00%" stop-color="#9e9e9e"/><stop offset="11.00%" stop-color="#9e9e9e"/><stop offset="12.00%" stop-color="#9e9e9e"/><stop offset="12.00%" stop-color="#7a7a7a"/><stop offset="13.00%" stop-color="#7a7a7a"/><stop offset="13.00%" stop-color="#9e9e9e"/><stop offset="14.00%" stop-color="#9e9e9e"/><stop offset="14.00%" stop-color="#9e9e9e"/><stop offset="15.00%" stop-color="#9e9e9e"/><stop offset="15.00%" stop-color="#9e9e9e"/><stop offset="16.00%" stop-color="#9e9e9e"/><stop offset="16.00%" stop-color="#9e9e9e"/><stop offset="17.00%" stop-color="#9e9e9e"/><stop offset="17.00%" stop-color="#9e9e9e"/><stop offset="18.00%" stop-color="#9e9e9e"/><stop offset="18.00%" stop-color="#525252"/><stop offset="19.00%" stop-color="#525252"/><stop offset="19.00%" stop-color="#000000"/><stop offset="20.00%" stop-color="#000000"/><stop offset="20.00%" stop-color="#9e9e9e"/><stop offset="21.00%" stop-color="#9e9e9e"/><stop offset="21.00%" stop-color="#9e9e9e"/><stop offset="22.00%" stop-color="#9e9e9e"/><stop offset="22.00%" stop-color="#9e9e9e"/><stop offset="23.00%" stop-color="#9e9e9e"/><stop offset="23.00%" stop-color="#9e9e9e"/><stop offset="24.00%" stop-color="#9e9e9e"/><stop offset="24.00%" stop-color="#9e9e9e"/><stop offset="25.00%" stop-color="#9e9e9e"/><stop offset="25.00%" stop-color="#9e9e9e"/><stop offset="26.00%" stop-color="#9e9e9e"/><stop offset="26.00%" stop-color="#525252"/><stop offset="27.00%" stop-color="#525252"/><stop offset="27.00%" stop-color="#525252"/><stop offset="28.00%" stop-color="#525252"/><stop offset="28.00%" stop-color="#9e9e9e"/><stop offset="29.00%" stop-color="#9e9e9e"/><stop offset="29.00%" stop-color="#9e9e9e"/><stop offset="30.00%" stop-color="#9e9e9e"/><stop offset="30.00%" stop-color="#9e9e9e"/><stop offset="31.00%" stop-color="#9e9e9e"/><stop offset="31.00%" stop-color="#9e9e9e"/><stop offset="32.00%" stop-color="#9e9e9e"/><stop offset="32.00%" stop-color="#525252"/><stop offset="33.00%" stop-color="#525252"/><stop offset="33.00%" stop-color="#000000"/><stop offset="34.00%" stop-color="#000000"/><stop offset="34.00%" stop-color="#525252"/><stop offset="35.00%" stop-color="#525252"/><stop offset="35.00%" stop-color="#9e9e9e"/><stop offset="36.00%" stop-color="#9e9e9e"/><stop offset="36.00%" stop-color="#9e9e9e"/><stop offset="37.00%" stop-color="#9e9e9e"/><stop offset="37.00%" stop-color="#9e9e9e"/><stop offset="38.00%" stop-color="#9e9e9e"/><stop offset="38.00%" stop-color="#9e9e9e"/><stop offset="39.00%" stop-color="#9e9e9e"/><stop offset="39.00%" stop-color="#7a7a7a"/><stop offset="40.00%" stop-color="#7a7a7a"/><stop offset="40.00%" stop-color="#9e9e9e"/><stop offset="41.00%" stop-color="#9e9e9e"/><stop offset="41.00%" stop-color="#9e9e9e"/><stop offset="42.00%" stop-color="#9e9e9e"/><stop offset="42.00%" stop-color="#525252"/><stop offset="43.00%" stop-color="#525252"/><stop offset="43.00%" stop-color="#525252"/><stop offset="44.00%" stop-color="#525252"/><stop offset="44.00%" stop-color="#9e9e9e"/><stop offset="45.00%" stop-color="#9e9e9e"/><stop offset="45.00%" stop-color="#9e9e9e"/><stop offset="46.00%" stop-color="#9e9e9e"/><stop offset="46.00%" stop-color="#9e9e9e"/><stop offset="47.00%" stop-color="#9e9e9e"/><stop offset="47.00%" stop-color="#9e9e9e"/><stop offset="48.00%" stop-color="#9e9e9e"/><stop offset="48.00%" stop-color="#9e9e9e"/><stop offset="49.00%" stop-color="#9e9e9e"/><stop offset="49.00%" stop-color="#9e9e9e"/><stop offset="50.00%" stop-color="#9e9e9e"/><stop offset="50.00%" stop-color="#9e9e9e"/><stop offset="51.00%" stop-color="#9e9e9e"/><stop offset="51.00%" stop-color="#7a7a7a"/><stop offset="52.00%" stop-color="#7a7a7a"/><stop offset="52.00%" stop-color="#9e9e9e"/><stop offset="53.00%" stop-color="#9e9e9e"/><stop offset="53.00%" stop-color="#9e9e9e"/><stop offset="54.00%" stop-color="#9e9e9e"/><stop offset="54.00%" stop-color="#9e9e9e"/><stop offset="55.00%" stop-color="#9e9e9e"/><stop offset="55.00%" stop-color="#9e9e9e"/><stop offset="56.00%" stop-color="#9e9e9e"/><stop offset="56.00%" stop-color="#9e9e9e"/><stop offset="57.00%" stop-color="#9e9e9e"/><stop offset="57.00%" stop-color="#9e9e9e"/><stop offset="58.00%" stop-color="#9e9e9e"/><stop offset="58.00%" stop-color="#9e9e9e"/><stop offset="59.00%" stop-color="#9e9e9e"/><stop offset="59.00%" stop-color="#000000"/><stop offset="60.00%" stop-color="#000000"/><stop offset="60.00%" stop-color="#000000"/><stop offset="61.00%" stop-color="#000000"/><stop offset="61.00%" stop-color="#b2b2b2"/><stop offset="62.00%" stop-color="#b2b2b2"/><stop offset="62.00%" stop-color="#b2b2b2"/><stop offset="63.00%" stop-color="#b2b2b2"/><stop offset="63.00%" stop-color="#9e9e9e"/><stop offset="64.00%" stop-color="#9e9e9e"/><stop offset="64.00%" stop-color="#9e9e9e"/><stop offset="65.00%" stop-color="#9e9e9e"/><stop offset="65.00%" stop-color="#9e9e9e"/><stop offset="66.00%" stop-color="#9e9e9e"/><stop offset="66.00%" stop-color="#7a7a7a"/><stop offset="67.00%" stop-color="#7a7a7a"/><stop offset="67.00%" stop-color="#9e9e9e"/><stop offset="68.00%" stop-color="#9e9e9e"/><stop offset="68.00%" stop-color="#9e9e9e"/><stop offset="69.00%" stop-color="#9e9e9e"/><stop offset="69.00%" stop-color="#525252"/><stop offset="70.00%" stop-color="#525252"/><stop offset="70.00%" stop-color="#7a7a7a"/><stop offset="71.00%" stop-color="#7a7a7a"/><stop offset="71.00%" stop-color="#9e9e9e"/><stop offset="72.00%" stop-color="#9e9e9e"/><stop offset="72.00%" stop-color="#9e9e9e"/><stop offset="73.00%" stop-color="#9e9e9e"/><stop offset="73.00%" stop-color="#7a7a7a"/><stop offset="74.00%" stop-color="#7a7a7a"/><stop offset="74.00%" stop-color="#9e9e9e"/><stop offset="75.00%" stop-color="#9e9e9e"/><stop offset="75.00%" stop-color="#9e9e9e"/><stop offset="76.00%" stop-color="#9e9e9e"/><stop offset="76.00%" stop-color="#9e9e9e"/><stop offset="77.00%" stop-color="#9e9e9e"/><stop offset="77.00%" stop-color="#9e9e9e"/><stop offset="78.00%" stop-color="#9e9e9e"/><stop offset="78.00%" stop-color="#7a7a7a"/><stop offset="79.00%" stop-color="#7a7a7a"/><stop offset="79.00%" stop-color="#000000"/><stop offset="80.00%" stop-color="#000000"/><stop offset="80.00%" stop-color="#525252"/><stop offset="81.00%" stop-color="#525252"/><stop offset="81.00%" stop-color="#9e9e9e"/><stop offset="82.00%" stop-color="#9e9e9e"/><stop offset="82.00%" stop-color="#9e9e9e"/><stop offset="83.00%" stop-color="#9e9e9e"/><stop offset="83.00%" stop-color="#9e9e9e"/><stop offset="84.00%" stop-color="#9e9e9e"/><stop offset="84.00%" stop-color="#9e9e9e"/><stop offset="85.00%" stop-color="#9e9e9e"/><stop offset="85.00%" stop-color="#9e9e9e"/><stop offset="86.00%" stop-color="#9e9e9e"/><stop offset="86.00%" stop-color="#7a7a7a"/><stop offset="87.00%" stop-color="#7a7a7a"/><stop offset="87.00%" stop-color="#9e9e9e"/><stop offset="88.00%" stop-color="#9e9e9e"/><stop offset="88.00%" stop-color="#9e9e9e"/><stop offset="89.00%" stop-color="#9e9e9e"/><stop offset="89.00%" stop-color="#9e9e9e"/><stop offset="90.00%" stop-color="#9e9e9e"/><stop offset="90.00%" stop-color="#9e9e9e"/><stop offset="91.00%" stop-color="#9e9e9e"/><stop offset="91.00%" stop-color="#000000"/><stop offset="92.00%" stop-color="#000000"/><stop offset="92.00%" stop-color="#7a7a7a"/><stop offset="93.00%" stop-color="#7a7a7a"/><stop offset="93.00%" stop-color="#9e9e9e"/><stop offset="94.00%" stop-color="#9e9e9e"/><stop offset="94.00%" stop-color="#9e9e9e"/><stop offset="95.00%" stop-color="#9e9e9e"/><stop offset="95.00%" stop-color="#9e9e9e"/><stop offset="96.00%" stop-color="#9e9e9e"/><stop offset="96.00%" stop-color="#9e9e9e"/><stop offset="97.00%" stop-color="#9e9e9e"/><stop offset="97.00%" stop-color="#9e9e9e"/><stop offset="98.00%" stop-color="#9e9e9e"/><stop offset="98.00%" stop-color="#525252"/><stop offset="99.00%" stop-color="#525252"/><stop offset="99.00%" stop-color="#9e9e9e"/><stop offset="100.00%" stop-color="#9e9e9e"/></linearGradient><filter id="vf3" x="0" y="0" width="1" height="1" color-interpolation-filters="sRGB"><feTurbulence type="fractalNoise" baseFrequency="0.45 0.005" numOctaves="2" seed="46" result="n1"/><feColorMatrix in="n1" type="matrix" values="1 0 0 0 0 1 0 0 0 0 1 0 0 0 0 0 0 0 0 1" result="m1"/><feTurbulence type="fractalNoise" baseFrequency="0.9 0.15" numOctaves="1" seed="51" result="n2"/><feColorMatrix in="n2" type="matrix" values="1 0 0 0 0 1 0 0 0 0 1 0 0 0 0 0 0 0 0 1" result="m2"/><feComposite in="SourceGraphic" in2="m1" operator="arithmetic" k1="0" k2="3" k3="0.6" k4="-1.400" result="c1"/><feComposite in="c1" in2="m2" operator="arithmetic" k1="0" k2="1" k3="0.2" k4="-0.100"/><feComponentTransfer><feFuncR type="table" tableValues="0.267 0.277 0.282 0.283 0.279 0.271 0.259 0.245 0.23 0.214 0.199 0.186 0.173 0.161 0.149 0.138 0.128 0.121 0.121 0.132 0.158 0.197 0.246 0.304 0.369 0.44 0.516 0.596 0.678 0.762 0.846 0.926 0.993"/><feFuncG type="table" tableValues="0.005 0.05 0.095 0.136 0.175 0.214 0.252 0.288 0.322 0.356 0.388 0.419 0.449 0.479 0.508 0.537 0.567 0.596 0.626 0.655 0.684 0.712 0.739 0.765 0.789 0.811 0.831 0.849 0.864 0.876 0.887 0.897 0.906"/><feFuncB type="table" tableValues="0.329 0.376 0.417 0.453 0.483 0.507 0.525 0.537 0.546 0.551 0.555 0.557 0.558 0.558 0.557 0.555 0.551 0.544 0.533 0.52 0.502 0.479 0.452 0.42 0.383 0.341 0.294 0.243 0.19 0.137 0.1 0.104 0.144"/></feComponentTransfer></filter></defs><rect width="720" height="432" fill="#fff"/><g clip-path="url(#pc)"><g filter="url(#vf3)"><rect x="90" y="51.84" width="446.4" height="332.64" fill="url(#cg3)"/><rect x="90" y="51.84" width="446.4" height="332.64" fill="url(#cl3)" mask="url(#lm)"/><rect x="90" y="51.84" width="446.4" height="332.64" fill="url(#rg)" opacity="0.5"/><g opacity="0.3333" ><g filter="url(#blr)"><rect x="10.0" y="-28.2" width="154.9" height="135.9" fill="#808080"/><rect x="164.4" y="-28.2" width="74.9" height="135.9" fill="#808080"/><rect x="238.8" y="-28.2" width="74.9" height="135.9" fill="#808080"/><rect x="313.2" y="-28.2" width="74.9" height="135.9" fill="#808080"/><rect x="387.6" y="-28.2" width="74.9" height="135.9" fill="#808080"/><rect x="462.0" y="-28.2" width="154.9" height="135.9" fill="#808080"/><rect x="10.0" y="107.3" width="154.9" height="55.9" fill="#808080"/><rect x="164.4" y="107.3" width="74.9" height="55.9" fill="#808080"/><rect x="238.8" y="107.3" width="74.9" height="55.9" fill="#808080"/><rect x="313.2" y="107.3" width="74.9" height="55.9" fill="#808080"/><rect x="387.6" y="107.3" width="74.9" height="55.9" fill="#808080"/><rect x="462.0" y="107.3" width="154.9" height="55.9" fill="#808080"/><rect x="10.0" y="162.7" width="154.9" height="55.9" fill="#7a7a7a"/><rect x="164.4" y="162.7" width="74.9" height="55.9" fill="#7a7a7a"/><rect x="238.8" y="162.7" width="74.9" height="55.9" fill="#7a7a7a"/><rect x="313.2" y="162.7" width="74.9" height="55.9" fill="#7a7a7a"/><rect x="387.6" y="162.7" width="74.9" height="55.9" fill="#7a7a7a"/><rect x="462.0" y="162.7" width="154.9" height="55.9" fill="#7a7a7a"/><rect x="10.0" y="218.2" width="154.9" height="55.9" fill="#828282"/><rect x="164.4" y="218.2" width="74.9" height="55.9" fill="#828282"/><rect x="238.8" y="218.2" width="74.9" height="55.9" fill="#8a8a8a"/><rect x="313.2" y="218.2" width="74.9" height="55.9" fill="#8a8a8a"/><rect x="387.6" y="218.2" width="74.9" height="55.9" fill="#878787"/><rect x="462.0" y="218.2" width="154.9" height="55.9" fill="#878787"/><rect x="10.0" y="273.6" width="154.9" height="55.9" fill="#9e9e9e"/><rect x="164.4" y="273.6" width="74.9" height="55.9" fill="#9e9e9e"/><rect x="238.8" y="273.6" width="74.9" height="55.9" fill="#9e9e9e"/><rect x="313.2" y="273.6" width="74.9" height="55.9" fill="#9e9e9e"/><rect x="387.6" y="273.6" width="74.9" height="55.9" fill="#9e9e9e"/><rect x="462.0" y="273.6" width="154.9" height="55.9" fill="#9e9e9e"/><rect x="10.0" y="329.0" width="154.9" height="135.9" fill="#8c8c8c"/><rect x="164.4" y="329.0" width="74.9" height="135.9" fill="#8c8c8c"/><rect x="238.8" y="329.0" width="74.9" height="135.9" fill="#8c8c8c"/><rect x="313.2" y="329.0" width="74.9" height="135.9" fill="#8c8c8c"/><rect x="387.6" y="329.0" width="74.9" height="135.9" fill="#8c8c8c"/><rect x="462.0" y="329.0" width="154.9" height="135.9" fill="#8c8c8c"/></g></g></g></g><rect x="90" y="51.84" width="446.4" height="332.64" fill="none" stroke="#3a3a3a" stroke-width="0.8"/><path d="M164.40 384.48v3.5 M238.80 384.48v3.5 M313.20 384.48v3.5 M387.60 384.48v3.5 M462.00 384.48v3.5 M90 384.48h-3.5 M90 329.04h-3.5 M90 273.60h-3.5 M90 218.16h-3.5 M90 162.72h-3.5 M90 107.28h-3.5 M90 51.84h-3.5 M580.932 384.48h3.5 M580.932 344.64h3.5 M580.932 304.81h3.5 M580.932 264.97h3.5 M580.932 225.13h3.5 M580.932 185.29h3.5 M580.932 145.46h3.5 M580.932 105.62h3.5 M580.932 65.78h3.5" stroke="#000" stroke-width="0.8" fill="none"/><rect x="564.3" y="51.84" width="16.632" height="332.64" fill="url(#cbg)" stroke="#000" stroke-width="0.8"/><g font-size="10"><text x="164.40" y="400.28" text-anchor="middle" textLength="6.375" lengthAdjust="spacingAndGlyphs">5</text><text x="238.80" y="400.28" text-anchor="middle" textLength="12.625" lengthAdjust="spacingAndGlyphs">10</text><text x="313.20" y="400.28" text-anchor="middle" textLength="12.75" lengthAdjust="spacingAndGlyphs">15</text><text x="387.60" y="400.28" text-anchor="middle" textLength="12.625" lengthAdjust="spacingAndGlyphs">20</text><text x="462.00" y="400.28" text-anchor="middle" textLength="12.75" lengthAdjust="spacingAndGlyphs">25</text><text x="83" y="389.48" text-anchor="end" textLength="6.25" lengthAdjust="spacingAndGlyphs">0</text><text x="83" y="334.04" text-anchor="end" textLength="25.125" lengthAdjust="spacingAndGlyphs">2000</text><text x="83" y="278.60" text-anchor="end" textLength="25.0" lengthAdjust="spacingAndGlyphs">4000</text><text x="83" y="223.16" text-anchor="end" textLength="25.125" lengthAdjust="spacingAndGlyphs">6000</text><text x="83" y="167.72" text-anchor="end" textLength="25.0" lengthAdjust="spacingAndGlyphs">8000</text><text x="83" y="112.28" text-anchor="end" textLength="31.375" lengthAdjust="spacingAndGlyphs">10000</text><text x="83" y="56.84" text-anchor="end" textLength="31.5" lengthAdjust="spacingAndGlyphs">12000</text><text x="587.93" y="389.48" textLength="27.25" lengthAdjust="spacingAndGlyphs">−100</text><text x="587.93" y="349.64" textLength="21.0" lengthAdjust="spacingAndGlyphs">−90</text><text x="587.93" y="309.81" textLength="20.875" lengthAdjust="spacingAndGlyphs">−80</text><text x="587.93" y="269.97" textLength="21.0" lengthAdjust="spacingAndGlyphs">−70</text><text x="587.93" y="230.13" textLength="21.0" lengthAdjust="spacingAndGlyphs">−60</text><text x="587.93" y="190.29" textLength="21.0" lengthAdjust="spacingAndGlyphs">−50</text><text x="587.93" y="150.46" textLength="20.875" lengthAdjust="spacingAndGlyphs">−40</text><text x="587.93" y="110.62" textLength="20.875" lengthAdjust="spacingAndGlyphs">−30</text><text x="587.93" y="70.78" textLength="21.0" lengthAdjust="spacingAndGlyphs">−20</text></g><text x="313.2" y="413.96" text-anchor="middle" font-size="10" textLength="40.5" lengthAdjust="spacingAndGlyphs">Time (s)</text><text x="45.1" y="218.16" text-anchor="middle" font-size="10" textLength="75.125" lengthAdjust="spacingAndGlyphs" transform="rotate(-90 45.1 218.16)">Frequency (Hz)</text><text x="627" y="218.16" text-anchor="middle" font-size="10" textLength="54.125" lengthAdjust="spacingAndGlyphs" transform="rotate(-90 627 218.16)">Power (dB)</text><text x="313.2" y="47.040000000000006" text-anchor="middle" font-size="12" textLength="193.125" lengthAdjust="spacingAndGlyphs">Audio Spectrogram - Segment 5</text></svg></div><div class="cap" style="left:12.6px">Segment 5: 150s - 180s</div></div><div class="card" style="left:0px;top:600px;width:352px;height:290px"><div class="im"><svg class="fig" viewBox="0 0 720 432" width="328" height="196.8"><defs><linearGradient id="cg4" x1="0" x2="1" y1="0" y2="0"><stop offset="0.00%" stop-color="#a1a1a1"/><stop offset="1.00%" stop-color="#a1a1a1"/><stop offset="1.00%" stop-color="#a1a1a1"/><stop offset="2.00%" stop-color="#a1a1a1"/><stop offset="2.00%" stop-color="#787878"/><stop offset="3.00%" stop-color="#787878"/><stop offset="3.00%" stop-color="#787878"/><stop offset="4.00%" stop-color="#787878"/><stop offset="4.00%" stop-color="#b5b5b5"/><stop offset="5.00%" stop-color="#b5b5b5"/><stop offset="5.00%" stop-color="#b5b5b5"/><stop offset="6.00%" stop-color="#b5b5b5"/><stop offset="6.00%" stop-color="#a1a1a1"/><stop offset="7.00%" stop-color="#a1a1a1"/><stop offset="7.00%" stop-color="#a1a1a1"/><stop offset="8.00%" stop-color="#a1a1a1"/><stop offset="8.00%" stop-color="#a1a1a1"/><stop offset="9.00%" stop-color="#a1a1a1"/><stop offset="9.00%" stop-color="#a1a1a1"/><stop offset="10.00%" stop-color="#a1a1a1"/><stop offset="10.00%" stop-color="#787878"/><stop offset="11.00%" stop-color="#787878"/><stop offset="11.00%" stop-color="#787878"/><stop offset="12.00%" stop-color="#787878"/><stop offset="12.00%" stop-color="#000000"/><stop offset="13.00%" stop-color="#000000"/><stop offset="13.00%" stop-color="#787878"/><stop offset="14.00%" stop-color="#787878"/><stop offset="14.00%" stop-color="#b5b5b5"/><stop offset="15.00%" stop-color="#b5b5b5"/><stop offset="15.00%" stop-color="#b5b5b5"/><stop offset="16.00%" stop-color="#b5b5b5"/><stop offset="16.00%" stop-color="#a1a1a1"/><stop offset="17.00%" stop-color="#a1a1a1"/><stop offset="17.00%" stop-color="#a1a1a1"/><stop offset="18.00%" stop-color="#a1a1a1"/><stop offset="18.00%" stop-color="#b5b5b5"/><stop offset="19.00%" stop-color="#b5b5b5"/><stop offset="19.00%" stop-color="#b5b5b5"/><stop offset="20.00%" stop-color="#b5b5b5"/><stop offset="20.00%" stop-color="#8f8f8f"/><stop offset="21.00%" stop-color="#8f8f8f"/><stop offset="21.00%" stop-color="#8f8f8f"/><stop offset="22.00%" stop-color="#8f8f8f"/><stop offset="22.00%" stop-color="#a1a1a1"/><stop offset="23.00%" stop-color="#a1a1a1"/><stop offset="23.00%" stop-color="#a1a1a1"/><stop offset="24.00%" stop-color="#a1a1a1"/><stop offset="24.00%" stop-color="#b5b5b5"/><stop offset="25.00%" stop-color="#b5b5b5"/><stop offset="25.00%" stop-color="#b5b5b5"/><stop offset="26.00%" stop-color="#b5b5b5"/><stop offset="26.00%" stop-color="#787878"/><stop offset="27.00%" stop-color="#787878"/><stop offset="27.00%" stop-color="#787878"/><stop offset="28.00%" stop-color="#787878"/><stop offset="28.00%" stop-color="#a1a1a1"/><stop offset="29.00%" stop-color="#a1a1a1"/><stop offset="29.00%" stop-color="#a1a1a1"/><stop offset="30.00%" stop-color="#a1a1a1"/><stop offset="30.00%" stop-color="#a1a1a1"/><stop offset="31.00%" stop-color="#a1a1a1"/><stop offset="31.00%" stop-color="#a1a1a1"/><stop offset="32.00%" stop-color="#a1a1a1"/><stop offset="32.00%" stop-color="#8f8f8f"/><stop offset="33.00%" stop-color="#8f8f8f"/><stop offset="33.00%" stop-color="#8f8f8f"/><stop offset="34.00%" stop-color="#8f8f8f"/><stop offset="34.00%" stop-color="#8f8f8f"/><stop offset="35.00%" stop-color="#8f8f8f"/><stop offset="35.00%" stop-color="#8f8f8f"/><stop offset="36.00%" stop-color="#8f8f8f"/><stop offset="36.00%" stop-color="#a1a1a1"/><stop offset="37.00%" stop-color="#a1a1a1"/><stop offset="37.00%" stop-color="#a1a1a1"/><stop offset="38.00%" stop-color="#a1a1a1"/><stop offset="38.00%" stop-color="#8f8f8f"/><stop offset="39.00%" stop-color="#8f8f8f"/><stop offset="39.00%" stop-color="#8f8f8f"/><stop offset="40.00%" stop-color="#8f8f8f"/><stop offset="40.00%" stop-color="#a1a1a1"/><stop offset="41.00%" stop-color="#a1a1a1"/><stop offset="41.00%" stop-color="#a1a1a1"/><stop offset="42.00%" stop-color="#a1a1a1"/><stop offset="42.00%" stop-color="#000000"/><stop offset="43.00%" stop-color="#000000"/><stop offset="43.00%" stop-color="#787878"/><stop offset="44.00%" stop-color="#787878"/><stop offset="44.00%" stop-color="#a1a1a1"/><stop offset="45.00%" stop-color="#a1a1a1"/><stop offset="45.00%" stop-color="#a1a1a1"/><stop offset="46.00%" stop-color="#a1a1a1"/><stop offset="46.00%" stop-color="#787878"/><stop offset="47.00%" stop-color="#787878"/><stop offset="47.00%" stop-color="#787878"/><stop offset="48.00%" stop-color="#787878"/><stop offset="48.00%" stop-color="#a1a1a1"/><stop offset="49.00%" stop-color="#a1a1a1"/><stop offset="49.00%" stop-color="#a1a1a1"/><stop offset="50.00%" stop-color="#a1a1a1"/><stop offset="50.00%" stop-color="#b5b5b5"/><stop offset="51.00%" stop-color="#b5b5b5"/><stop offset="51.00%" stop-color="#b5b5b5"/><stop offset="52.00%" stop-color="#b5b5b5"/><stop offset="52.00%" stop-color="#8f8f8f"/><stop offset="53.00%" stop-color="#8f8f8f"/><stop offset="53.00%" stop-color="#8f8f8f"/><stop offset="54.00%" stop-color="#8f8f8f"/><stop offset="54.00%" stop-color="#a1a1a1"/><stop offset="55.00%" stop-color="#a1a1a1"/><stop offset="55.00%" stop-color="#a1a1a1"/><stop offset="56.00%" stop-color="#a1a1a1"/><stop offset="56.00%" stop-color="#a1a1a1"/><stop offset="57.00%" stop-color="#a1a1a1"/><stop offset="57.00%" stop-color="#a1a1a1"/><stop offset="58.00%" stop-color="#a1a1a1"/><stop offset="58.00%" stop-color="#787878"/><stop offset="59.00%" stop-color="#787878"/><stop offset="59.00%" stop-color="#787878"/><stop offset="60.00%" stop-color="#787878"/><stop offset="60.00%" stop-color="#a1a1a1"/><stop offset="61.00%" stop-color="#a1a1a1"/><stop offset="61.00%" stop-color="#a1a1a1"/><stop offset="62.00%" stop-color="#a1a1a1"/><stop offset="62.00%" stop-color="#a1a1a1"/><stop offset="63.00%" stop-color="#a1a1a1"/><stop offset="63.00%" stop-color="#a1a1a1"/><stop offset="64.00%" stop-color="#a1a1a1"/><stop offset="64.00%" stop-color="#a1a1a1"/><stop offset="65.00%" stop-color="#a1a1a1"/><stop offset="65.00%" stop-color="#a1a1a1"/><stop offset="66.00%" stop-color="#a1a1a1"/><stop offset="66.00%" stop-color="#787878"/><stop offset="67.00%" stop-color="#787878"/><stop offset="67.00%" stop-color="#000000"/><stop offset="68.00%" stop-color="#000000"/><stop offset="68.00%" stop-color="#a1a1a1"/><stop offset="69.00%" stop-color="#a1a1a1"/><stop offset="69.00%" stop-color="#a1a1a1"/><stop offset="70.00%" stop-color="#a1a1a1"/><stop offset="70.00%" stop-color="#a1a1a1"/><stop offset="71.00%" stop-color="#a1a1a1"/><stop offset="71.00%" stop-color="#a1a1a1"/><stop offset="72.00%" stop-color="#a1a1a1"/><stop offset="72.00%" stop-color="#787878"/><stop offset="73.00%" stop-color="#787878"/><stop offset="73.00%" stop-color="#787878"/><stop offset="74.00%" stop-color="#787878"/><stop offset="74.00%" stop-color="#a1a1a1"/><stop offset="75.00%" stop-color="#a1a1a1"/><stop offset="75.00%" stop-color="#a1a1a1"/><stop offset="76.00%" stop-color="#a1a1a1"/><stop offset="76.00%" stop-color="#b5b5b5"/><stop offset="77.00%" stop-color="#b5b5b5"/><stop offset="77.00%" stop-color="#b5b5b5"/><stop offset="78.00%" stop-color="#b5b5b5"/><stop offset="78.00%" stop-color="#a1a1a1"/><stop offset="79.00%" stop-color="#a1a1a1"/><stop offset="79.00%" stop-color="#a1a1a1"/><stop offset="80.00%" stop-color="#a1a1a1"/><stop offset="80.00%" stop-color="#8f8f8f"/><stop offset="81.00%" stop-color="#8f8f8f"/><stop offset="81.00%" stop-color="#8f8f8f"/><stop offset="82.00%" stop-color="#8f8f8f"/><stop offset="82.00%" stop-color="#a1a1a1"/><stop offset="83.00%" stop-color="#a1a1a1"/><stop offset="83.00%" stop-color="#a1a1a1"/><stop offset="84.00%" stop-color="#a1a1a1"/><stop offset="84.00%" stop-color="#a1a1a1"/><stop offset="85.00%" stop-color="#a1a1a1"/><stop offset="85.00%" stop-color="#a1a1a1"/><stop offset="86.00%" stop-color="#a1a1a1"/><stop offset="86.00%" stop-color="#000000"/><stop offset="87.00%" stop-color="#000000"/><stop offset="87.00%" stop-color="#787878"/><stop offset="88.00%" stop-color="#787878"/><stop offset="88.00%" stop-color="#a1a1a1"/><stop offset="89.00%" stop-color="#a1a1a1"/><stop offset="89.00%" stop-color="#a1a1a1"/><stop offset="90.00%" stop-color="#a1a1a1"/><stop offset="90.00%" stop-color="#b5b5b5"/><stop offset="91.00%" stop-color="#b5b5b5"/><stop offset="91.00%" stop-color="#b5b5b5"/><stop offset="92.00%" stop-color="#b5b5b5"/><stop offset="92.00%" stop-color="#a1a1a1"/><stop offset="93.00%" stop-color="#a1a1a1"/><stop offset="93.00%" stop-color="#a1a1a1"/><stop offset="94.00%" stop-color="#a1a1a1"/><stop offset="94.00%" stop-color="#787878"/><stop offset="95.00%" stop-color="#787878"/><stop offset="95.00%" stop-color="#000000"/><stop offset="96.00%" stop-color="#000000"/><stop offset="96.00%" stop-color="#000000"/><stop offset="97.00%" stop-color="#000000"/><stop offset="97.00%" stop-color="#787878"/><stop offset="98.00%" stop-color="#787878"/><stop offset="98.00%" stop-color="#a1a1a1"/><stop offset="99.00%" stop-color="#a1a1a1"/><stop offset="99.00%" stop-color="#a1a1a1"/><stop offset="100.00%" stop-color="#a1a1a1"/></linearGradient><linearGradient id="cl4" x1="0" x2="1" y1="0" y2="0"><stop offset="0.00%" stop-color="#9e9e9e"/><stop offset="1.00%" stop-color="#9e9e9e"/><stop offset="1.00%" stop-color="#9e9e9e"/><stop offset="2.00%" stop-color="#9e9e9e"/><stop offset="2.00%" stop-color="#525252"/><stop offset="3.00%" stop-color="#525252"/><stop offset="3.00%" stop-color="#525252"/><stop offset="4.00%" stop-color="#525252"/><stop offset="4.00%" stop-color="#9e9e9e"/><stop offset="5.00%" stop-color="#9e9e9e"/><stop offset="5.00%" stop-color="#9e9e9e"/><stop offset="6.00%" stop-color="#9e9e9e"/><stop offset="6.00%" stop-color="#9e9e9e"/><stop offset="7.00%" stop-color="#9e9e9e"/><stop offset="7.00%" stop-color="#9e9e9e"/><stop offset="8.00%" stop-color="#9e9e9e"/><stop offset="8.00%" stop-color="#7a7a7a"/><stop offset="9.00%" stop-color="#7a7a7a"/><stop offset="9.00%" stop-color="#9e9e9e"/><stop offset="10.00%" stop-color="#9e9e9e"/><stop offset="10.00%" stop-color="#9e9e9e"/><stop offset="11.00%" stop-color="#9e9e9e"/><stop offset="11.00%" stop-color="#525252"/><stop offset="12.00%" stop-color="#525252"/><stop offset="12.00%" stop-color="#000000"/><stop offset="13.00%" stop-color="#000000"/><stop offset="13.00%" stop-color="#9e9e9e"/><stop offset="14.00%" stop-color="#9e9e9e"/><stop offset="14.00%" stop-color="#9e9e9e"/><stop offset="15.00%" stop-color="#9e9e9e"/><stop offset="15.00%" stop-color="#9e9e9e"/><stop offset="16.00%" stop-color="#9e9e9e"/><stop offset="16.00%" stop-color="#9e9e9e"/><stop offset="17.00%" stop-color="#9e9e9e"/><stop offset="17.00%" stop-color="#9e9e9e"/><stop offset="18.00%" stop-color="#9e9e9e"/><stop offset="18.00%" stop-color="#525252"/><stop offset="19.00%" stop-color="#525252"/><stop offset="19.00%" stop-color="#525252"/><stop offset="20.00%" stop-color="#525252"/><stop offset="20.00%" stop-color="#9e9e9e"/><stop offset="21.00%" stop-color="#9e9e9e"/><stop offset="21.00%" stop-color="#9e9e9e"/><stop offset="22.00%" stop-color="#9e9e9e"/><stop offset="22.00%" stop-color="#9e9e9e"/><stop offset="23.00%" stop-color="#9e9e9e"/><stop offset="23.00%" stop-color="#7a7a7a"/><stop offset="24.00%" stop-color="#7a7a7a"/><stop offset="24.00%" stop-color="#9e9e9e"/><stop offset="25.00%" stop-color="#9e9e9e"/><stop offset="25.00%" stop-color="#7a7a7a"/><stop offset="26.00%" stop-color="#7a7a7a"/><stop offset="26.00%" stop-color="#525252"/><stop offset="27.00%" stop-color="#525252"/><stop offset="27.00%" stop-color="#9e9e9e"/><stop offset="28.00%" stop-color="#9e9e9e"/><stop offset="28.00%" stop-color="#b2b2b2"/><stop offset="29.00%" stop-color="#b2b2b2"/><stop offset="29.00%" stop-color="#9e9e9e"/><stop offset="30.00%" stop-color="#9e9e9e"/><stop offset="30.00%" stop-color="#9e9e9e"/><stop offset="31.00%" stop-color="#9e9e9e"/><stop offset="31.00%" stop-color="#9e9e9e"/><stop offset="32.00%" stop-color="#9e9e9e"/><stop offset="32.00%" stop-color="#9e9e9e"/><stop offset="33.00%" stop-color="#9e9e9e"/><stop offset="33.00%" stop-color="#7a7a7a"/><stop offset="34.00%" stop-color="#7a7a7a"/><stop offset="34.00%" stop-color="#525252"/><stop offset="35.00%" stop-color="#525252"/><stop offset="35.00%" stop-color="#9e9e9e"/><stop offset="36.00%" stop-color="#9e9e9e"/><stop offset="36.00%" stop-color="#9e9e9e"/><stop offset="37.00%" stop-color="#9e9e9e"/><stop offset="37.00%" stop-color="#525252"/><stop offset="38.00%" stop-color="#525252"/><stop offset="38.00%" stop-color="#9e9e9e"/><stop offset="39.00%" stop-color="#9e9e9e"/><stop offset="39.00%" stop-color="#9e9e9e"/><stop offset="40.00%" stop-color="#9e9e9e"/><stop offset="40.00%" stop-color="#9e9e9e"/><stop offset="41.00%" stop-color="#9e9e9e"/><stop offset="41.00%" stop-color="#9e9e9e"/><stop offset="42.00%" stop-color="#9e9e9e"/><stop offset="42.00%" stop-color="#000000"/><stop offset="43.00%" stop-color="#000000"/><stop offset="43.00%" stop-color="#525252"/><stop offset="44.00%" stop-color="#525252"/><stop offset="44.00%" stop-color="#9e9e9e"/><stop offset="45.00%" stop-color="#9e9e9e"/><stop offset="45.00%" stop-color="#9e9e9e"/><stop offset="46.00%" stop-color="#9e9e9e"/><stop offset="46.00%" stop-color="#525252"/><stop offset="47.00%" stop-color="#525252"/><stop offset="47.00%" stop-color="#9e9e9e"/><stop offset="48.00%" stop-color="#9e9e9e"/><stop offset="48.00%" stop-color="#9e9e9e"/><stop offset="49.00%" stop-color="#9e9e9e"/><stop offset="49.00%" stop-color="#9e9e9e"/><stop offset="50.00%" stop-color="#9e9e9e"/><stop offset="50.00%" stop-color="#7a7a7a"/><stop offset="51.00%" stop-color="#7a7a7a"/><stop offset="51.00%" stop-color="#9e9e9e"/><stop offset="52.00%" stop-color="#9e9e9e"/><stop offset="52.00%" stop-color="#9e9e9e"/><stop offset="53.00%" stop-color="#9e9e9e"/><stop offset="53.00%" stop-color="#525252"/><stop offset="54.00%" stop-color="#525252"/><stop offset="54.00%" stop-color="#525252"/><stop offset="55.00%" stop-color="#525252"/><stop offset="55.00%" stop-color="#9e9e9e"/><stop offset="56.00%" stop-color="#9e9e9e"/><stop offset="56.00%" stop-color="#9e9e9e"/><stop offset="57.00%" stop-color="#9e9e9e"/><stop offset="57.00%" stop-color="#525252"/><stop offset="58.00%" stop-color="#525252"/><stop offset="58.00%" stop-color="#9e9e9e"/><stop offset="59.00%" stop-color="#9e9e9e"/><stop offset="59.00%" stop-color="#9e9e9e"/><stop offset="60.00%" stop-color="#9e9e9e"/><stop offset="60.00%" stop-color="#9e9e9e"/><stop offset="61.00%" stop-color="#9e9e9e"/><stop offset="61.00%" stop-color="#9e9e9e"/><stop offset="62.00%" stop-color="#9e9e9e"/><stop offset="62.00%" stop-color="#9e9e9e"/><stop offset="63.00%" stop-color="#9e9e9e"/><stop offset="63.00%" stop-color="#7a7a7a"/><stop offset="64.00%" stop-color="#7a7a7a"/><stop offset="64.00%" stop-color="#525252"/><stop offset="65.00%" stop-color="#525252"/><stop offset="65.00%" stop-color="#9e9e9e"/><stop offset="66.00%" stop-color="#9e9e9e"/><stop offset="66.00%" stop-color="#9e9e9e"/><stop offset="67.00%" stop-color="#9e9e9e"/><stop offset="67.00%" stop-color="#000000"/><stop offset="68.00%" stop-color="#000000"/><stop offset="68.00%" stop-color="#7a7a7a"/><stop offset="69.00%" stop-color="#7a7a7a"/><stop offset="69.00%" stop-color="#9e9e9e"/><stop offset="70.00%" stop-color="#9e9e9e"/><stop offset="70.00%" stop-color="#9e9e9e"/><stop offset="71.00%" stop-color="#9e9e9e"/><stop offset="71.00%" stop-color="#7a7a7a"/><stop offset="72.00%" stop-color="#7a7a7a"/><stop offset="72.00%" stop-color="#9e9e9e"/><stop offset="73.00%" stop-color="#9e9e9e"/><stop offset="73.00%" stop-color="#525252"/><stop offset="74.00%" stop-color="#525252"/><stop offset="74.00%" stop-color="#7a7a7a"/><stop offset="75.00%" stop-color="#7a7a7a"/><stop offset="75.00%" stop-color="#9e9e9e"/><stop offset="76.00%" stop-color="#9e9e9e"/><stop offset="76.00%" stop-color="#9e9e9e"/><stop offset="77.00%" stop-color="#9e9e9e"/><stop offset="77.00%" stop-color="#7a7a7a"/><stop offset="78.00%" stop-color="#7a7a7a"/><stop offset="78.00%" stop-color="#9e9e9e"/><stop offset="79.00%" stop-color="#9e9e9e"/><stop offset="79.00%" stop-color="#9e9e9e"/><stop offset="80.00%" stop-color="#9e9e9e"/><stop offset="80.00%" stop-color="#7a7a7a"/><stop offset="81.00%" stop-color="#7a7a7a"/><stop offset="81.00%" stop-color="#9e9e9e"/><stop offset="82.00%" stop-color="#9e9e9e"/><stop offset="82.00%" stop-color="#7a7a7a"/><stop offset="83.00%" stop-color="#7a7a7a"/><stop offset="83.00%" stop-color="#9e9e9e"/><stop offset="84.00%" stop-color="#9e9e9e"/><stop offset="84.00%" stop-color="#9e9e9e"/><stop offset="85.00%" stop-color="#9e9e9e"/><stop offset="85.00%" stop-color="#9e9e9e"/><stop offset="86.00%" stop-color="#9e9e9e"/><stop offset="86.00%" stop-color="#000000"/><stop offset="87.00%" stop-color="#000000"/><stop offset="87.00%" stop-color="#525252"/><stop offset="88.00%" stop-color="#525252"/><stop offset="88.00%" stop-color="#9e9e9e"/><stop offset="89.00%" stop-color="#9e9e9e"/><stop offset="89.00%" stop-color="#9e9e9e"/><stop offset="90.00%" stop-color="#9e9e9e"/><stop offset="90.00%" stop-color="#7a7a7a"/><stop offset="91.00%" stop-color="#7a7a7a"/><stop offset="91.00%" stop-color="#9e9e9e"/><stop offset="92.00%" stop-color="#9e9e9e"/><stop offset="92.00%" stop-color="#9e9e9e"/><stop offset="93.00%" stop-color="#9e9e9e"/><stop offset="93.00%" stop-color="#9e9e9e"/><stop offset="94.00%" stop-color="#9e9e9e"/><stop offset="94.00%" stop-color="#9e9e9e"/><stop offset="95.00%" stop-color="#9e9e9e"/><stop offset="95.00%" stop-color="#000000"/><stop offset="96.00%" stop-color="#000000"/><stop offset="96.00%" stop-color="#000000"/><stop offset="97.00%" stop-color="#000000"/><stop offset="97.00%" stop-color="#9e9e9e"/><stop offset="98.00%" stop-color="#9e9e9e"/><stop offset="98.00%" stop-color="#9e9e9e"/><stop offset="99.00%" stop-color="#9e9e9e"/><stop offset="99.00%" stop-color="#9e9e9e"/><stop offset="100.00%" stop-color="#9e9e9e"/></linearGradient><filter id="vf4" x="0" y="0" width="1" height="1" color-interpolation-filters="sRGB"><feTurbulence type="fractalNoise" baseFrequency="0.45 0.005" numOctaves="2" seed="59" result="n1"/><feColorMatrix in="n1" type="matrix" values="1 0 0 0 0 1 0 0 0 0 1 0 0 0 0 0 0 0 0 1" result="m1"/><feTurbulence type="fractalNoise" baseFrequency="0.9 0.15" numOctaves="1" seed="64" result="n2"/><feColorMatrix in="n2" type="matrix" values="1 0 0 0 0 1 0 0 0 0 1 0 0 0 0 0 0 0 0 1" result="m2"/><feComposite in="SourceGraphic" in2="m1" operator="arithmetic" k1="0" k2="3" k3="0.6" k4="-1.400" result="c1"/><feComposite in="c1" in2="m2" operator="arithmetic" k1="0" k2="1" k3="0.2" k4="-0.100"/><feComponentTransfer><feFuncR type="table" tableValues="0.267 0.277 0.282 0.283 0.279 0.271 0.259 0.245 0.23 0.214 0.199 0.186 0.173 0.161 0.149 0.138 0.128 0.121 0.121 0.132 0.158 0.197 0.246 0.304 0.369 0.44 0.516 0.596 0.678 0.762 0.846 0.926 0.993"/><feFuncG type="table" tableValues="0.005 0.05 0.095 0.136 0.175 0.214 0.252 0.288 0.322 0.356 0.388 0.419 0.449 0.479 0.508 0.537 0.567 0.596 0.626 0.655 0.684 0.712 0.739 0.765 0.789 0.811 0.831 0.849 0.864 0.876 0.887 0.897 0.906"/><feFuncB type="table" tableValues="0.329 0.376 0.417 0.453 0.483 0.507 0.525 0.537 0.546 0.551 0.555 0.557 0.558 0.558 0.557 0.555 0.551 0.544 0.533 0.52 0.502 0.479 0.452 0.42 0.383 0.341 0.294 0.243 0.19 0.137 0.1 0.104 0.144"/></feComponentTransfer></filter></defs><rect width="720" height="432" fill="#fff"/><g clip-path="url(#pc)"><g filter="url(#vf4)"><rect x="90" y="51.84" width="446.4" height="332.64" fill="url(#cg4)"/><rect x="90" y="51.84" width="446.4" height="332.64" fill="url(#cl4)" mask="url(#lm)"/><rect x="90" y="51.84" width="446.4" height="332.64" fill="url(#rg)" opacity="0.5"/><g opacity="0.3333" ><g filter="url(#blr)"><rect x="10.0" y="-28.2" width="154.9" height="135.9" fill="#7d7d7d"/><rect x="164.4" y="-28.2" width="74.9" height="135.9" fill="#7d7d7d"/><rect x="238.8" y="-28.2" width="74.9" height="135.9" fill="#7d7d7d"/><rect x="313.2" y="-28.2" width="74.9" height="135.9" fill="#7d7d7d"/><rect x="387.6" y="-28.2" width="74.9" height="135.9" fill="#7d7d7d"/><rect x="462.0" y="-28.2" width="154.9" height="135.9" fill="#7d7d7d"/><rect x="10.0" y="107.3" width="154.9" height="55.9" fill="#7d7d7d"/><rect x="164.4" y="107.3" width="74.9" height="55.9" fill="#7a7a7a"/><rect x="238.8" y="107.3" width="74.9" height="55.9" fill="#7a7a7a"/><rect x="313.2" y="107.3" width="74.9" height="55.9" fill="#7a7a7a"/><rect x="387.6" y="107.3" width="74.9" height="55.9" fill="#7d7d7d"/><rect x="462.0" y="107.3" width="154.9" height="55.9" fill="#7d7d7d"/><rect x="10.0" y="162.7" width="154.9" height="55.9" fill="#7a7a7a"/><rect x="164.4" y="162.7" width="74.9" height="55.9" fill="#707070"/><rect x="238.8" y="162.7" width="74.9" height="55.9" fill="#707070"/><rect x="313.2" y="162.7" width="74.9" height="55.9" fill="#707070"/><rect x="387.6" y="162.7" width="74.9" height="55.9" fill="#757575"/><rect x="462.0" y="162.7" width="154.9" height="55.9" fill="#7a7a7a"/><rect x="10.0" y="218.2" width="154.9" height="55.9" fill="#8f8f8f"/><rect x="164.4" y="218.2" width="74.9" height="55.9" fill="#858585"/><rect x="238.8" y="218.2" width="74.9" height="55.9" fill="#7d7d7d"/><rect x="313.2" y="218.2" width="74.9" height="55.9" fill="#7d7d7d"/><rect x="387.6" y="218.2" width="74.9" height="55.9" fill="#7d7d7d"/><rect x="462.0" y="218.2" width="154.9" height="55.9" fill="#858585"/><rect x="10.0" y="273.6" width="154.9" height="55.9" fill="#9c9c9c"/><rect x="164.4" y="273.6" width="74.9" height="55.9" fill="#9c9c9c"/><rect x="238.8" y="273.6" width="74.9" height="55.9" fill="#9c9c9c"/><rect x="313.2" y="273.6" width="74.9" height="55.9" fill="#9c9c9c"/><rect x="387.6" y="273.6" width="74.9" height="55.9" fill="#9c9c9c"/><rect x="462.0" y="273.6" width="154.9" height="55.9" fill="#9c9c9c"/><rect x="10.0" y="329.0" width="154.9" height="135.9" fill="#878787"/><rect x="164.4" y="329.0" width="74.9" height="135.9" fill="#878787"/><rect x="238.8" y="329.0" width="74.9" height="135.9" fill="#878787"/><rect x="313.2" y="329.0" width="74.9" height="135.9" fill="#878787"/><rect x="387.6" y="329.0" width="74.9" height="135.9" fill="#878787"/><rect x="462.0" y="329.0" width="154.9" height="135.9" fill="#878787"/></g></g></g></g><rect x="90" y="51.84" width="446.4" height="332.64" fill="none" stroke="#3a3a3a" stroke-width="0.8"/><path d="M164.40 384.48v3.5 M238.80 384.48v3.5 M313.20 384.48v3.5 M387.60 384.48v3.5 M462.00 384.48v3.5 M90 384.48h-3.5 M90 329.04h-3.5 M90 273.60h-3.5 M90 218.16h-3.5 M90 162.72h-3.5 M90 107.28h-3.5 M90 51.84h-3.5 M580.932 384.48h3.5 M580.932 345.71h3.5 M580.932 306.94h3.5 M580.932 268.17h3.5 M580.932 229.40h3.5 M580.932 190.63h3.5 M580.932 151.86h3.5 M580.932 113.10h3.5 M580.932 74.33h3.5" stroke="#000" stroke-width="0.8" fill="none"/><rect x="564.3" y="51.84" width="16.632" height="332.64" fill="url(#cbg)" stroke="#000" stroke-width="0.8"/><g font-size="10"><text x="164.40" y="400.28" text-anchor="middle" textLength="6.375" lengthAdjust="spacingAndGlyphs">5</text><text x="238.80" y="400.28" text-anchor="middle" textLength="12.625" lengthAdjust="spacingAndGlyphs">10</text><text x="313.20" y="400.28" text-anchor="middle" textLength="12.75" lengthAdjust="spacingAndGlyphs">15</text><text x="387.60" y="400.28" text-anchor="middle" textLength="12.625" lengthAdjust="spacingAndGlyphs">20</text><text x="462.00" y="400.28" text-anchor="middle" textLength="12.75" lengthAdjust="spacingAndGlyphs">25</text><text x="83" y="389.48" text-anchor="end" textLength="6.25" lengthAdjust="spacingAndGlyphs">0</text><text x="83" y="334.04" text-anchor="end" textLength="25.125" lengthAdjust="spacingAndGlyphs">2000</text><text x="83" y="278.60" text-anchor="end" textLength="25.0" lengthAdjust="spacingAndGlyphs">4000</text><text x="83" y="223.16" text-anchor="end" textLength="25.125" lengthAdjust="spacingAndGlyphs">6000</text><text x="83" y="167.72" text-anchor="end" textLength="25.0" lengthAdjust="spacingAndGlyphs">8000</text><text x="83" y="112.28" text-anchor="end" textLength="31.375" lengthAdjust="spacingAndGlyphs">10000</text><text x="83" y="56.84" text-anchor="end" textLength="31.5" lengthAdjust="spacingAndGlyphs">12000</text><text x="587.93" y="389.48" textLength="27.25" lengthAdjust="spacingAndGlyphs">−100</text><text x="587.93" y="350.71" textLength="21.0" lengthAdjust="spacingAndGlyphs">−90</text><text x="587.93" y="311.94" textLength="20.875" lengthAdjust="spacingAndGlyphs">−80</text><text x="587.93" y="273.17" textLength="21.0" lengthAdjust="spacingAndGlyphs">−70</text><text x="587.93" y="234.40" textLength="21.0" lengthAdjust="spacingAndGlyphs">−60</text><text x="587.93" y="195.63" textLength="21.0" lengthAdjust="spacingAndGlyphs">−50</text><text x="587.93" y="156.86" textLength="20.875" lengthAdjust="spacingAndGlyphs">−40</text><text x="587.93" y="118.10" textLength="20.875" lengthAdjust="spacingAndGlyphs">−30</text><text x="587.93" y="79.33" textLength="21.0" lengthAdjust="spacingAndGlyphs">−20</text></g><text x="313.2" y="413.96" text-anchor="middle" font-size="10" textLength="40.5" lengthAdjust="spacingAndGlyphs">Time (s)</text><text x="45.1" y="218.16" text-anchor="middle" font-size="10" textLength="75.125" lengthAdjust="spacingAndGlyphs" transform="rotate(-90 45.1 218.16)">Frequency (Hz)</text><text x="627" y="218.16" text-anchor="middle" font-size="10" textLength="54.125" lengthAdjust="spacingAndGlyphs" transform="rotate(-90 627 218.16)">Power (dB)</text><text x="313.2" y="47.040000000000006" text-anchor="middle" font-size="12" textLength="193.375" lengthAdjust="spacingAndGlyphs">Audio Spectrogram - Segment 8</text></svg></div><div class="cap" style="left:11.4px">Segment 8: 240s - 270s</div></div><div class="card" style="left:365px;top:600px;width:353px;height:290px"><div class="im"><svg class="fig" viewBox="0 0 720 432" width="328" height="196.8"><defs><linearGradient id="cg5" x1="0" x2="1" y1="0" y2="0"><stop offset="0.00%" stop-color="#a1a1a1"/><stop offset="1.00%" stop-color="#a1a1a1"/><stop offset="1.00%" stop-color="#a1a1a1"/><stop offset="2.00%" stop-color="#a1a1a1"/><stop offset="2.00%" stop-color="#8f8f8f"/><stop offset="3.00%" stop-color="#8f8f8f"/><stop offset="3.00%" stop-color="#8f8f8f"/><stop offset="4.00%" stop-color="#8f8f8f"/><stop offset="4.00%" stop-color="#787878"/><stop offset="5.00%" stop-color="#787878"/><stop offset="5.00%" stop-color="#000000"/><stop offset="6.00%" stop-color="#000000"/><stop offset="6.00%" stop-color="#000000"/><stop offset="7.00%" stop-color="#000000"/><stop offset="7.00%" stop-color="#787878"/><stop offset="8.00%" stop-color="#787878"/><stop offset="8.00%" stop-color="#b5b5b5"/><stop offset="9.00%" stop-color="#b5b5b5"/><stop offset="9.00%" stop-color="#b5b5b5"/><stop offset="10.00%" stop-color="#b5b5b5"/><stop offset="10.00%" stop-color="#a1a1a1"/><stop offset="11.00%" stop-color="#a1a1a1"/><stop offset="11.00%" stop-color="#a1a1a1"/><stop offset="12.00%" stop-color="#a1a1a1"/><stop offset="12.00%" stop-color="#8f8f8f"/><stop offset="13.00%" stop-color="#8f8f8f"/><stop offset="13.00%" stop-color="#8f8f8f"/><stop offset="14.00%" stop-color="#8f8f8f"/><stop offset="14.00%" stop-color="#a1a1a1"/><stop offset="15.00%" stop-color="#a1a1a1"/><stop offset="15.00%" stop-color="#a1a1a1"/><stop offset="16.00%" stop-color="#a1a1a1"/><stop offset="16.00%" stop-color="#a1a1a1"/><stop offset="17.00%" stop-color="#a1a1a1"/><stop offset="17.00%" stop-color="#a1a1a1"/><stop offset="18.00%" stop-color="#a1a1a1"/><stop offset="18.00%" stop-color="#787878"/><stop offset="19.00%" stop-color="#787878"/><stop offset="19.00%" stop-color="#787878"/><stop offset="20.00%" stop-color="#787878"/><stop offset="20.00%" stop-color="#a1a1a1"/><stop offset="21.00%" stop-color="#a1a1a1"/><stop offset="21.00%" stop-color="#a1a1a1"/><stop offset="22.00%" stop-color="#a1a1a1"/><stop offset="22.00%" stop-color="#b5b5b5"/><stop offset="23.00%" stop-color="#b5b5b5"/><stop offset="23.00%" stop-color="#b5b5b5"/><stop offset="24.00%" stop-color="#b5b5b5"/><stop offset="24.00%" stop-color="#a1a1a1"/><stop offset="25.00%" stop-color="#a1a1a1"/><stop offset="25.00%" stop-color="#a1a1a1"/><stop offset="26.00%" stop-color="#a1a1a1"/><stop offset="26.00%" stop-color="#8f8f8f"/><stop offset="27.00%" stop-color="#8f8f8f"/><stop offset="27.00%" stop-color="#8f8f8f"/><stop offset="28.00%" stop-color="#8f8f8f"/><stop offset="28.00%" stop-color="#787878"/><stop offset="29.00%" stop-color="#787878"/><stop offset="29.00%" stop-color="#787878"/><stop offset="30.00%" stop-color="#787878"/><stop offset="30.00%" stop-color="#a1a1a1"/><stop offset="31.00%" stop-color="#a1a1a1"/><stop offset="31.00%" stop-color="#a1a1a1"/><stop offset="32.00%" stop-color="#a1a1a1"/><stop offset="32.00%" stop-color="#8f8f8f"/><stop offset="33.00%" stop-color="#8f8f8f"/><stop offset="33.00%" stop-color="#8f8f8f"/><stop offset="34.00%" stop-color="#8f8f8f"/><stop offset="34.00%" stop-color="#a1a1a1"/><stop offset="35.00%" stop-color="#a1a1a1"/><stop offset="35.00%" stop-color="#a1a1a1"/><stop offset="36.00%" stop-color="#a1a1a1"/><stop offset="36.00%" stop-color="#a1a1a1"/><stop offset="37.00%" stop-color="#a1a1a1"/><stop offset="37.00%" stop-color="#a1a1a1"/><stop offset="38.00%" stop-color="#a1a1a1"/><stop offset="38.00%" stop-color="#a1a1a1"/><stop offset="39.00%" stop-color="#a1a1a1"/><stop offset="39.00%" stop-color="#a1a1a1"/><stop offset="40.00%" stop-color="#a1a1a1"/><stop offset="40.00%" stop-color="#8f8f8f"/><stop offset="41.00%" stop-color="#8f8f8f"/><stop offset="41.00%" stop-color="#8f8f8f"/><stop offset="42.00%" stop-color="#8f8f8f"/><stop offset="42.00%" stop-color="#a1a1a1"/><stop offset="43.00%" stop-color="#a1a1a1"/><stop offset="43.00%" stop-color="#a1a1a1"/><stop offset="44.00%" stop-color="#a1a1a1"/><stop offset="44.00%" stop-color="#a1a1a1"/><stop offset="45.00%" stop-color="#a1a1a1"/><stop offset="45.00%" stop-color="#a1a1a1"/><stop offset="46.00%" stop-color="#a1a1a1"/><stop offset="46.00%" stop-color="#a1a1a1"/><stop offset="47.00%" stop-color="#a1a1a1"/><stop offset="47.00%" stop-color="#a1a1a1"/><stop offset="48.00%" stop-color="#a1a1a1"/><stop offset="48.00%" stop-color="#a1a1a1"/><stop offset="49.00%" stop-color="#a1a1a1"/><stop offset="49.00%" stop-color="#a1a1a1"/><stop offset="50.00%" stop-color="#a1a1a1"/><stop offset="50.00%" stop-color="#a1a1a1"/><stop offset="51.00%" stop-color="#a1a1a1"/><stop offset="51.00%" stop-color="#a1a1a1"/><stop offset="52.00%" stop-color="#a1a1a1"/><stop offset="52.00%" stop-color="#a1a1a1"/><stop offset="53.00%" stop-color="#a1a1a1"/><stop offset="53.00%" stop-color="#a1a1a1"/><stop offset="54.00%" stop-color="#a1a1a1"/><stop offset="54.00%" stop-color="#000000"/><stop offset="55.00%" stop-color="#000000"/><stop offset="55.00%" stop-color="#000000"/><stop offset="56.00%" stop-color="#000000"/><stop offset="56.00%" stop-color="#000000"/><stop offset="57.00%" stop-color="#000000"/><stop offset="57.00%" stop-color="#787878"/><stop offset="58.00%" stop-color="#787878"/><stop offset="58.00%" stop-color="#a1a1a1"/><stop offset="59.00%" stop-color="#a1a1a1"/><stop offset="59.00%" stop-color="#a1a1a1"/><stop offset="60.00%" stop-color="#a1a1a1"/><stop offset="60.00%" stop-color="#a1a1a1"/><stop offset="61.00%" stop-color="#a1a1a1"/><stop offset="61.00%" stop-color="#a1a1a1"/><stop offset="62.00%" stop-color="#a1a1a1"/><stop offset="62.00%" stop-color="#a1a1a1"/><stop offset="63.00%" stop-color="#a1a1a1"/><stop offset="63.00%" stop-color="#a1a1a1"/><stop offset="64.00%" stop-color="#a1a1a1"/><stop offset="64.00%" stop-color="#787878"/><stop offset="65.00%" stop-color="#787878"/><stop offset="65.00%" stop-color="#787878"/><stop offset="66.00%" stop-color="#787878"/><stop offset="66.00%" stop-color="#a1a1a1"/><stop offset="67.00%" stop-color="#a1a1a1"/><stop offset="67.00%" stop-color="#a1a1a1"/><stop offset="68.00%" stop-color="#a1a1a1"/><stop offset="68.00%" stop-color="#a1a1a1"/><stop offset="69.00%" stop-color="#a1a1a1"/><stop offset="69.00%" stop-color="#a1a1a1"/><stop offset="70.00%" stop-color="#a1a1a1"/><stop offset="70.00%" stop-color="#8f8f8f"/><stop offset="71.00%" stop-color="#8f8f8f"/><stop offset="71.00%" stop-color="#8f8f8f"/><stop offset="72.00%" stop-color="#8f8f8f"/><stop offset="72.00%" stop-color="#8f8f8f"/><stop offset="73.00%" stop-color="#8f8f8f"/><stop offset="73.00%" stop-color="#8f8f8f"/><stop offset="74.00%" stop-color="#8f8f8f"/><stop offset="74.00%" stop-color="#a1a1a1"/><stop offset="75.00%" stop-color="#a1a1a1"/><stop offset="75.00%" stop-color="#a1a1a1"/><stop offset="76.00%" stop-color="#a1a1a1"/><stop offset="76.00%" stop-color="#a1a1a1"/><stop offset="77.00%" stop-color="#a1a1a1"/><stop offset="77.00%" stop-color="#a1a1a1"/><stop offset="78.00%" stop-color="#a1a1a1"/><stop offset="78.00%" stop-color="#8f8f8f"/><stop offset="79.00%" stop-color="#8f8f8f"/><stop offset="79.00%" stop-color="#8f8f8f"/><stop offset="80.00%" stop-color="#8f8f8f"/><stop offset="80.00%" stop-color="#8f8f8f"/><stop offset="81.00%" stop-color="#8f8f8f"/><stop offset="81.00%" stop-color="#8f8f8f"/><stop offset="82.00%" stop-color="#8f8f8f"/><stop offset="82.00%" stop-color="#000000"/><stop offset="83.00%" stop-color="#000000"/><stop offset="83.00%" stop-color="#787878"/><stop offset="84.00%" stop-color="#787878"/><stop offset="84.00%" stop-color="#a1a1a1"/><stop offset="85.00%" stop-color="#a1a1a1"/><stop offset="85.00%" stop-color="#a1a1a1"/><stop offset="86.00%" stop-color="#a1a1a1"/><stop offset="86.00%" stop-color="#a1a1a1"/><stop offset="87.00%" stop-color="#a1a1a1"/><stop offset="87.00%" stop-color="#a1a1a1"/><stop offset="88.00%" stop-color="#a1a1a1"/><stop offset="88.00%" stop-color="#a1a1a1"/><stop offset="89.00%" stop-color="#a1a1a1"/><stop offset="89.00%" stop-color="#a1a1a1"/><stop offset="90.00%" stop-color="#a1a1a1"/><stop offset="90.00%" stop-color="#8f8f8f"/><stop offset="91.00%" stop-color="#8f8f8f"/><stop offset="91.00%" stop-color="#8f8f8f"/><stop offset="92.00%" stop-color="#8f8f8f"/><stop offset="92.00%" stop-color="#a1a1a1"/><stop offset="93.00%" stop-color="#a1a1a1"/><stop offset="93.00%" stop-color="#a1a1a1"/><stop offset="94.00%" stop-color="#a1a1a1"/><stop offset="94.00%" stop-color="#787878"/><stop offset="95.00%" stop-color="#787878"/><stop offset="95.00%" stop-color="#787878"/><stop offset="96.00%" stop-color="#787878"/><stop offset="96.00%" stop-color="#a1a1a1"/><stop offset="97.00%" stop-color="#a1a1a1"/><stop offset="97.00%" stop-color="#a1a1a1"/><stop offset="98.00%" stop-color="#a1a1a1"/><stop offset="98.00%" stop-color="#a1a1a1"/><stop offset="99.00%" stop-color="#a1a1a1"/><stop offset="99.00%" stop-color="#a1a1a1"/><stop offset="100.00%" stop-color="#a1a1a1"/></linearGradient><linearGradient id="cl5" x1="0" x2="1" y1="0" y2="0"><stop offset="0.00%" stop-color="#9e9e9e"/><stop offset="1.00%" stop-color="#9e9e9e"/><stop offset="1.00%" stop-color="#9e9e9e"/><stop offset="2.00%" stop-color="#9e9e9e"/><stop offset="2.00%" stop-color="#525252"/><stop offset="3.00%" stop-color="#525252"/><stop offset="3.00%" stop-color="#7a7a7a"/><stop offset="4.00%" stop-color="#7a7a7a"/><stop offset="4.00%" stop-color="#9e9e9e"/><stop offset="5.00%" stop-color="#9e9e9e"/><stop offset="5.00%" stop-color="#000000"/><stop offset="6.00%" stop-color="#000000"/><stop offset="6.00%" stop-color="#000000"/><stop offset="7.00%" stop-color="#000000"/><stop offset="7.00%" stop-color="#525252"/><stop offset="8.00%" stop-color="#525252"/><stop offset="8.00%" stop-color="#9e9e9e"/><stop offset="9.00%" stop-color="#9e9e9e"/><stop offset="9.00%" stop-color="#9e9e9e"/><stop offset="10.00%" stop-color="#9e9e9e"/><stop offset="10.00%" stop-color="#9e9e9e"/><stop offset="11.00%" stop-color="#9e9e9e"/><stop offset="11.00%" stop-color="#9e9e9e"/><stop offset="12.00%" stop-color="#9e9e9e"/><stop offset="12.00%" stop-color="#9e9e9e"/><stop offset="13.00%" stop-color="#9e9e9e"/><stop offset="13.00%" stop-color="#9e9e9e"/><stop offset="14.00%" stop-color="#9e9e9e"/><stop offset="14.00%" stop-color="#525252"/><stop offset="15.00%" stop-color="#525252"/><stop offset="15.00%" stop-color="#9e9e9e"/><stop offset="16.00%" stop-color="#9e9e9e"/><stop offset="16.00%" stop-color="#9e9e9e"/><stop offset="17.00%" stop-color="#9e9e9e"/><stop offset="17.00%" stop-color="#9e9e9e"/><stop offset="18.00%" stop-color="#9e9e9e"/><stop offset="18.00%" stop-color="#9e9e9e"/><stop offset="19.00%" stop-color="#9e9e9e"/><stop offset="19.00%" stop-color="#525252"/><stop offset="20.00%" stop-color="#525252"/><stop offset="20.00%" stop-color="#9e9e9e"/><stop offset="21.00%" stop-color="#9e9e9e"/><stop offset="21.00%" stop-color="#9e9e9e"/><stop offset="22.00%" stop-color="#9e9e9e"/><stop offset="22.00%" stop-color="#9e9e9e"/><stop offset="23.00%" stop-color="#9e9e9e"/><stop offset="23.00%" stop-color="#7a7a7a"/><stop offset="24.00%" stop-color="#7a7a7a"/><stop offset="24.00%" stop-color="#9e9e9e"/><stop offset="25.00%" stop-color="#9e9e9e"/><stop offset="25.00%" stop-color="#9e9e9e"/><stop offset="26.00%" stop-color="#9e9e9e"/><stop offset="26.00%" stop-color="#9e9e9e"/><stop offset="27.00%" stop-color="#9e9e9e"/><stop offset="27.00%" stop-color="#9e9e9e"/><stop offset="28.00%" stop-color="#9e9e9e"/><stop offset="28.00%" stop-color="#9e9e9e"/><stop offset="29.00%" stop-color="#9e9e9e"/><stop offset="29.00%" stop-color="#525252"/><stop offset="30.00%" stop-color="#525252"/><stop offset="30.00%" stop-color="#525252"/><stop offset="31.00%" stop-color="#525252"/><stop offset="31.00%" stop-color="#9e9e9e"/><stop offset="32.00%" stop-color="#9e9e9e"/><stop offset="32.00%" stop-color="#525252"/><stop offset="33.00%" stop-color="#525252"/><stop offset="33.00%" stop-color="#525252"/><stop offset="34.00%" stop-color="#525252"/><stop offset="34.00%" stop-color="#9e9e9e"/><stop offset="35.00%" stop-color="#9e9e9e"/><stop offset="35.00%" stop-color="#7a7a7a"/><stop offset="36.00%" stop-color="#7a7a7a"/><stop offset="36.00%" stop-color="#9e9e9e"/><stop offset="37.00%" stop-color="#9e9e9e"/><stop offset="37.00%" stop-color="#9e9e9e"/><stop offset="38.00%" stop-color="#9e9e9e"/><stop offset="38.00%" stop-color="#9e9e9e"/><stop offset="39.00%" stop-color="#9e9e9e"/><stop offset="39.00%" stop-color="#9e9e9e"/><stop offset="40.00%" stop-color="#9e9e9e"/><stop offset="40.00%" stop-color="#9e9e9e"/><stop offset="41.00%" stop-color="#9e9e9e"/><stop offset="41.00%" stop-color="#7a7a7a"/><stop offset="42.00%" stop-color="#7a7a7a"/><stop offset="42.00%" stop-color="#525252"/><stop offset="43.00%" stop-color="#525252"/><stop offset="43.00%" stop-color="#525252"/><stop offset="44.00%" stop-color="#525252"/><stop offset="44.00%" stop-color="#9e9e9e"/><stop offset="45.00%" stop-color="#9e9e9e"/><stop offset="45.00%" stop-color="#9e9e9e"/><stop offset="46.00%" stop-color="#9e9e9e"/><stop offset="46.00%" stop-color="#9e9e9e"/><stop offset="47.00%" stop-color="#9e9e9e"/><stop offset="47.00%" stop-color="#9e9e9e"/><stop offset="48.00%" stop-color="#9e9e9e"/><stop offset="48.00%" stop-color="#9e9e9e"/><stop offset="49.00%" stop-color="#9e9e9e"/><stop offset="49.00%" stop-color="#7a7a7a"/><stop offset="50.00%" stop-color="#7a7a7a"/><stop offset="50.00%" stop-color="#525252"/><stop offset="51.00%" stop-color="#525252"/><stop offset="51.00%" stop-color="#9e9e9e"/><stop offset="52.00%" stop-color="#9e9e9e"/><stop offset="52.00%" stop-color="#9e9e9e"/><stop offset="53.00%" stop-color="#9e9e9e"/><stop offset="53.00%" stop-color="#9e9e9e"/><stop offset="54.00%" stop-color="#9e9e9e"/><stop offset="54.00%" stop-color="#7a7a7a"/><stop offset="55.00%" stop-color="#7a7a7a"/><stop offset="55.00%" stop-color="#000000"/><stop offset="56.00%" stop-color="#000000"/><stop offset="56.00%" stop-color="#000000"/><stop offset="57.00%" stop-color="#000000"/><stop offset="57.00%" stop-color="#9e9e9e"/><stop offset="58.00%" stop-color="#9e9e9e"/><stop offset="58.00%" stop-color="#9e9e9e"/><stop offset="59.00%" stop-color="#9e9e9e"/><stop offset="59.00%" stop-color="#9e9e9e"/><stop offset="60.00%" stop-color="#9e9e9e"/><stop offset="60.00%" stop-color="#9e9e9e"/><stop offset="61.00%" stop-color="#9e9e9e"/><stop offset="61.00%" stop-color="#9e9e9e"/><stop offset="62.00%" stop-color="#9e9e9e"/><stop offset="62.00%" stop-color="#9e9e9e"/><stop offset="63.00%" stop-color="#9e9e9e"/><stop offset="63.00%" stop-color="#525252"/><stop offset="64.00%" stop-color="#525252"/><stop offset="64.00%" stop-color="#7a7a7a"/><stop offset="65.00%" stop-color="#7a7a7a"/><stop offset="65.00%" stop-color="#9e9e9e"/><stop offset="66.00%" stop-color="#9e9e9e"/><stop offset="66.00%" stop-color="#7a7a7a"/><stop offset="67.00%" stop-color="#7a7a7a"/><stop offset="67.00%" stop-color="#525252"/><stop offset="68.00%" stop-color="#525252"/><stop offset="68.00%" stop-color="#9e9e9e"/><stop offset="69.00%" stop-color="#9e9e9e"/><stop offset="69.00%" stop-color="#9e9e9e"/><stop offset="70.00%" stop-color="#9e9e9e"/><stop offset="70.00%" stop-color="#9e9e9e"/><stop offset="71.00%" stop-color="#9e9e9e"/><stop offset="71.00%" stop-color="#9e9e9e"/><stop offset="72.00%" stop-color="#9e9e9e"/><stop offset="72.00%" stop-color="#7a7a7a"/><stop offset="73.00%" stop-color="#7a7a7a"/><stop offset="73.00%" stop-color="#525252"/><stop offset="74.00%" stop-color="#525252"/><stop offset="74.00%" stop-color="#9e9e9e"/><stop offset="75.00%" stop-color="#9e9e9e"/><stop offset="75.00%" stop-color="#9e9e9e"/><stop offset="76.00%" stop-color="#9e9e9e"/><stop offset="76.00%" stop-color="#9e9e9e"/><stop offset="77.00%" stop-color="#9e9e9e"/><stop offset="77.00%" stop-color="#9e9e9e"/><stop offset="78.00%" stop-color="#9e9e9e"/><stop offset="78.00%" stop-color="#9e9e9e"/><stop offset="79.00%" stop-color="#9e9e9e"/><stop offset="79.00%" stop-color="#9e9e9e"/><stop offset="80.00%" stop-color="#9e9e9e"/><stop offset="80.00%" stop-color="#9e9e9e"/><stop offset="81.00%" stop-color="#9e9e9e"/><stop offset="81.00%" stop-color="#525252"/><stop offset="82.00%" stop-color="#525252"/><stop offset="82.00%" stop-color="#000000"/><stop offset="83.00%" stop-color="#000000"/><stop offset="83.00%" stop-color="#525252"/><stop offset="84.00%" stop-color="#525252"/><stop offset="84.00%" stop-color="#9e9e9e"/><stop offset="85.00%" stop-color="#9e9e9e"/><stop offset="85.00%" stop-color="#9e9e9e"/><stop offset="86.00%" stop-color="#9e9e9e"/><stop offset="86.00%" stop-color="#9e9e9e"/><stop offset="87.00%" stop-color="#9e9e9e"/><stop offset="87.00%" stop-color="#7a7a7a"/><stop offset="88.00%" stop-color="#7a7a7a"/><stop offset="88.00%" stop-color="#9e9e9e"/><stop offset="89.00%" stop-color="#9e9e9e"/><stop offset="89.00%" stop-color="#9e9e9e"/><stop offset="90.00%" stop-color="#9e9e9e"/><stop offset="90.00%" stop-color="#9e9e9e"/><stop offset="91.00%" stop-color="#9e9e9e"/><stop offset="91.00%" stop-color="#9e9e9e"/><stop offset="92.00%" stop-color="#9e9e9e"/><stop offset="92.00%" stop-color="#9e9e9e"/><stop offset="93.00%" stop-color="#9e9e9e"/><stop offset="93.00%" stop-color="#9e9e9e"/><stop offset="94.00%" stop-color="#9e9e9e"/><stop offset="94.00%" stop-color="#9e9e9e"/><stop offset="95.00%" stop-color="#9e9e9e"/><stop offset="95.00%" stop-color="#525252"/><stop offset="96.00%" stop-color="#525252"/><stop offset="96.00%" stop-color="#9e9e9e"/><stop offset="97.00%" stop-color="#9e9e9e"/><stop offset="97.00%" stop-color="#9e9e9e"/><stop offset="98.00%" stop-color="#9e9e9e"/><stop offset="98.00%" stop-color="#9e9e9e"/><stop offset="99.00%" stop-color="#9e9e9e"/><stop offset="99.00%" stop-color="#7a7a7a"/><stop offset="100.00%" stop-color="#7a7a7a"/></linearGradient><filter id="vf5" x="0" y="0" width="1" height="1" color-interpolation-filters="sRGB"><feTurbulence type="fractalNoise" baseFrequency="0.45 0.005" numOctaves="2" seed="72" result="n1"/><feColorMatrix in="n1" type="matrix" values="1 0 0 0 0 1 0 0 0 0 1 0 0 0 0 0 0 0 0 1" result="m1"/><feTurbulence type="fractalNoise" baseFrequency="0.9 0.15" numOctaves="1" seed="77" result="n2"/><feColorMatrix in="n2" type="matrix" values="1 0 0 0 0 1 0 0 0 0 1 0 0 0 0 0 0 0 0 1" result="m2"/><feComposite in="SourceGraphic" in2="m1" operator="arithmetic" k1="0" k2="3" k3="0.6" k4="-1.400" result="c1"/><feComposite in="c1" in2="m2" operator="arithmetic" k1="0" k2="1" k3="0.2" k4="-0.100"/><feComponentTransfer><feFuncR type="table" tableValues="0.267 0.277 0.282 0.283 0.279 0.271 0.259 0.245 0.23 0.214 0.199 0.186 0.173 0.161 0.149 0.138 0.128 0.121 0.121 0.132 0.158 0.197 0.246 0.304 0.369 0.44 0.516 0.596 0.678 0.762 0.846 0.926 0.993"/><feFuncG type="table" tableValues="0.005 0.05 0.095 0.136 0.175 0.214 0.252 0.288 0.322 0.356 0.388 0.419 0.449 0.479 0.508 0.537 0.567 0.596 0.626 0.655 0.684 0.712 0.739 0.765 0.789 0.811 0.831 0.849 0.864 0.876 0.887 0.897 0.906"/><feFuncB type="table" tableValues="0.329 0.376 0.417 0.453 0.483 0.507 0.525 0.537 0.546 0.551 0.555 0.557 0.558 0.558 0.557 0.555 0.551 0.544 0.533 0.52 0.502 0.479 0.452 0.42 0.383 0.341 0.294 0.243 0.19 0.137 0.1 0.104 0.144"/></feComponentTransfer></filter></defs><rect width="720" height="432" fill="#fff"/><g clip-path="url(#pc)"><g filter="url(#vf5)"><rect x="90" y="51.84" width="446.4" height="332.64" fill="url(#cg5)"/><rect x="90" y="51.84" width="446.4" height="332.64" fill="url(#cl5)" mask="url(#lm)"/><rect x="90" y="51.84" width="446.4" height="332.64" fill="url(#rg)" opacity="0.5"/><g opacity="0.3333" ><g filter="url(#blr)"><rect x="10.0" y="-28.2" width="154.9" height="135.9" fill="#828282"/><rect x="164.4" y="-28.2" width="74.9" height="135.9" fill="#828282"/><rect x="238.8" y="-28.2" width="74.9" height="135.9" fill="#828282"/><rect x="313.2" y="-28.2" width="74.9" height="135.9" fill="#828282"/><rect x="387.6" y="-28.2" width="74.9" height="135.9" fill="#828282"/><rect x="462.0" y="-28.2" width="154.9" height="135.9" fill="#828282"/><rect x="10.0" y="107.3" width="154.9" height="55.9" fill="#828282"/><rect x="164.4" y="107.3" width="74.9" height="55.9" fill="#828282"/><rect x="238.8" y="107.3" width="74.9" height="55.9" fill="#828282"/><rect x="313.2" y="107.3" width="74.9" height="55.9" fill="#828282"/><rect x="387.6" y="107.3" width="74.9" height="55.9" fill="#828282"/><rect x="462.0" y="107.3" width="154.9" height="55.9" fill="#828282"/><rect x="10.0" y="162.7" width="154.9" height="55.9" fill="#7d7d7d"/><rect x="164.4" y="162.7" width="74.9" height="55.9" fill="#7d7d7d"/><rect x="238.8" y="162.7" width="74.9" height="55.9" fill="#7d7d7d"/><rect x="313.2" y="162.7" width="74.9" height="55.9" fill="#7d7d7d"/><rect x="387.6" y="162.7" width="74.9" height="55.9" fill="#7d7d7d"/><rect x="462.0" y="162.7" width="154.9" height="55.9" fill="#7d7d7d"/><rect x="10.0" y="218.2" width="154.9" height="55.9" fill="#8a8a8a"/><rect x="164.4" y="218.2" width="74.9" height="55.9" fill="#858585"/><rect x="238.8" y="218.2" width="74.9" height="55.9" fill="#858585"/><rect x="313.2" y="218.2" width="74.9" height="55.9" fill="#858585"/><rect x="387.6" y="218.2" width="74.9" height="55.9" fill="#8c8c8c"/><rect x="462.0" y="218.2" width="154.9" height="55.9" fill="#8c8c8c"/><rect x="10.0" y="273.6" width="154.9" height="55.9" fill="#9c9c9c"/><rect x="164.4" y="273.6" width="74.9" height="55.9" fill="#9c9c9c"/><rect x="238.8" y="273.6" width="74.9" height="55.9" fill="#9c9c9c"/><rect x="313.2" y="273.6" width="74.9" height="55.9" fill="#9c9c9c"/><rect x="387.6" y="273.6" width="74.9" height="55.9" fill="#9c9c9c"/><rect x="462.0" y="273.6" width="154.9" height="55.9" fill="#9c9c9c"/><rect x="10.0" y="329.0" width="154.9" height="135.9" fill="#8a8a8a"/><rect x="164.4" y="329.0" width="74.9" height="135.9" fill="#8a8a8a"/><rect x="238.8" y="329.0" width="74.9" height="135.9" fill="#8a8a8a"/><rect x="313.2" y="329.0" width="74.9" height="135.9" fill="#8a8a8a"/><rect x="387.6" y="329.0" width="74.9" height="135.9" fill="#8a8a8a"/><rect x="462.0" y="329.0" width="154.9" height="135.9" fill="#8a8a8a"/></g></g></g></g><rect x="90" y="51.84" width="446.4" height="332.64" fill="none" stroke="#3a3a3a" stroke-width="0.8"/><path d="M164.40 384.48v3.5 M238.80 384.48v3.5 M313.20 384.48v3.5 M387.60 384.48v3.5 M462.00 384.48v3.5 M90 384.48h-3.5 M90 329.04h-3.5 M90 273.60h-3.5 M90 218.16h-3.5 M90 162.72h-3.5 M90 107.28h-3.5 M90 51.84h-3.5 M580.932 384.48h3.5 M580.932 344.06h3.5 M580.932 303.64h3.5 M580.932 263.23h3.5 M580.932 222.81h3.5 M580.932 182.39h3.5 M580.932 141.97h3.5 M580.932 101.55h3.5 M580.932 61.14h3.5" stroke="#000" stroke-width="0.8" fill="none"/><rect x="564.3" y="51.84" width="16.632" height="332.64" fill="url(#cbg)" stroke="#000" stroke-width="0.8"/><g font-size="10"><text x="164.40" y="400.28" text-anchor="middle" textLength="6.375" lengthAdjust="spacingAndGlyphs">5</text><text x="238.80" y="400.28" text-anchor="middle" textLength="12.625" lengthAdjust="spacingAndGlyphs">10</text><text x="313.20" y="400.28" text-anchor="middle" textLength="12.75" lengthAdjust="spacingAndGlyphs">15</text><text x="387.60" y="400.28" text-anchor="middle" textLength="12.625" lengthAdjust="spacingAndGlyphs">20</text><text x="462.00" y="400.28" text-anchor="middle" textLength="12.75" lengthAdjust="spacingAndGlyphs">25</text><text x="83" y="389.48" text-anchor="end" textLength="6.25" lengthAdjust="spacingAndGlyphs">0</text><text x="83" y="334.04" text-anchor="end" textLength="25.125" lengthAdjust="spacingAndGlyphs">2000</text><text x="83" y="278.60" text-anchor="end" textLength="25.0" lengthAdjust="spacingAndGlyphs">4000</text><text x="83" y="223.16" text-anchor="end" textLength="25.125" lengthAdjust="spacingAndGlyphs">6000</text><text x="83" y="167.72" text-anchor="end" textLength="25.0" lengthAdjust="spacingAndGlyphs">8000</text><text x="83" y="112.28" text-anchor="end" textLength="31.375" lengthAdjust="spacingAndGlyphs">10000</text><text x="83" y="56.84" text-anchor="end" textLength="31.5" lengthAdjust="spacingAndGlyphs">12000</text><text x="587.93" y="389.48" textLength="27.25" lengthAdjust="spacingAndGlyphs">−100</text><text x="587.93" y="349.06" textLength="21.0" lengthAdjust="spacingAndGlyphs">−90</text><text x="587.93" y="308.64" textLength="20.875" lengthAdjust="spacingAndGlyphs">−80</text><text x="587.93" y="268.23" textLength="21.0" lengthAdjust="spacingAndGlyphs">−70</text><text x="587.93" y="227.81" textLength="21.0" lengthAdjust="spacingAndGlyphs">−60</text><text x="587.93" y="187.39" textLength="21.0" lengthAdjust="spacingAndGlyphs">−50</text><text x="587.93" y="146.97" textLength="20.875" lengthAdjust="spacingAndGlyphs">−40</text><text x="587.93" y="106.55" textLength="20.875" lengthAdjust="spacingAndGlyphs">−30</text><text x="587.93" y="66.14" textLength="21.0" lengthAdjust="spacingAndGlyphs">−20</text></g><text x="313.2" y="413.96" text-anchor="middle" font-size="10" textLength="40.5" lengthAdjust="spacingAndGlyphs">Time (s)</text><text x="45.1" y="218.16" text-anchor="middle" font-size="10" textLength="75.125" lengthAdjust="spacingAndGlyphs" transform="rotate(-90 45.1 218.16)">Frequency (Hz)</text><text x="627" y="218.16" text-anchor="middle" font-size="10" textLength="54.125" lengthAdjust="spacingAndGlyphs" transform="rotate(-90 627 218.16)">Power (dB)</text><text x="313.2" y="47.040000000000006" text-anchor="middle" font-size="12" textLength="193.25" lengthAdjust="spacingAndGlyphs">Audio Spectrogram - Segment 9</text></svg></div><div class="cap" style="left:12.6px">Segment 9: 270s - 300s</div></div></div></body></html>
